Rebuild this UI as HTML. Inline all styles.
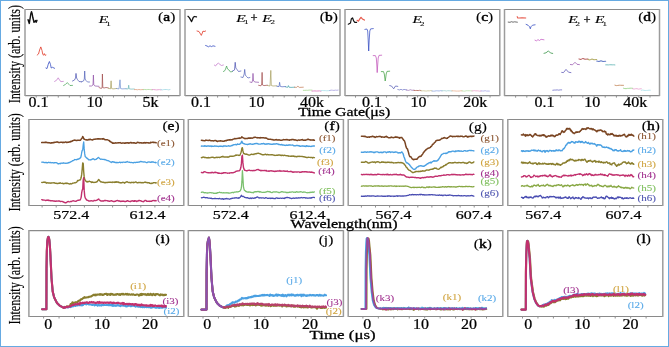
<!DOCTYPE html>
<html><head><meta charset="utf-8"><title>Figure</title>
<style>
html,body{margin:0;padding:0;background:#fff;width:669px;height:347px;overflow:hidden;}
svg{display:block;font-family:"Liberation Serif",serif;will-change:transform;}
</style></head><body>
<svg width="669" height="347" viewBox="0 0 669 347" font-family="Liberation Serif, serif">
<line x1="25" y1="9.5" x2="180" y2="9.5" stroke="#8a8a8a" stroke-width="1.1"/>
<line x1="25" y1="95.6" x2="180" y2="95.6" stroke="#8a8a8a" stroke-width="1.1"/>
<line x1="25" y1="9" x2="25" y2="96.1" stroke="#9c9c9c" stroke-width="1.5"/>
<line x1="180" y1="9" x2="180" y2="96.1" stroke="#9c9c9c" stroke-width="1.5"/>
<line x1="185" y1="9.5" x2="340" y2="9.5" stroke="#8a8a8a" stroke-width="1.1"/>
<line x1="185" y1="95.6" x2="340" y2="95.6" stroke="#8a8a8a" stroke-width="1.1"/>
<line x1="185" y1="9" x2="185" y2="96.1" stroke="#9c9c9c" stroke-width="1.5"/>
<line x1="340" y1="9" x2="340" y2="96.1" stroke="#9c9c9c" stroke-width="1.5"/>
<line x1="345" y1="9.5" x2="499.8" y2="9.5" stroke="#8a8a8a" stroke-width="1.1"/>
<line x1="345" y1="95.6" x2="499.8" y2="95.6" stroke="#8a8a8a" stroke-width="1.1"/>
<line x1="345" y1="9" x2="345" y2="96.1" stroke="#9c9c9c" stroke-width="1.5"/>
<line x1="499.8" y1="9" x2="499.8" y2="96.1" stroke="#9c9c9c" stroke-width="1.5"/>
<line x1="504.5" y1="9.5" x2="659.5" y2="9.5" stroke="#8a8a8a" stroke-width="1.1"/>
<line x1="504.5" y1="95.6" x2="659.5" y2="95.6" stroke="#8a8a8a" stroke-width="1.1"/>
<line x1="504.5" y1="9" x2="504.5" y2="96.1" stroke="#9c9c9c" stroke-width="1.5"/>
<line x1="659.5" y1="9" x2="659.5" y2="96.1" stroke="#9c9c9c" stroke-width="1.5"/>
<line x1="28.9" y1="119.5" x2="183.8" y2="119.5" stroke="#8a8a8a" stroke-width="1.1"/>
<line x1="28.9" y1="205.5" x2="183.8" y2="205.5" stroke="#8a8a8a" stroke-width="1.1"/>
<line x1="28.9" y1="119" x2="28.9" y2="206" stroke="#9c9c9c" stroke-width="1.5"/>
<line x1="183.8" y1="119" x2="183.8" y2="206" stroke="#9c9c9c" stroke-width="1.5"/>
<line x1="28.9" y1="230.6" x2="183.8" y2="230.6" stroke="#8a8a8a" stroke-width="1.1"/>
<line x1="28.9" y1="316.5" x2="183.8" y2="316.5" stroke="#8a8a8a" stroke-width="1.1"/>
<line x1="28.9" y1="230.1" x2="28.9" y2="317" stroke="#9c9c9c" stroke-width="1.5"/>
<line x1="183.8" y1="230.1" x2="183.8" y2="317" stroke="#9c9c9c" stroke-width="1.5"/>
<line x1="188.3" y1="119.5" x2="343.4" y2="119.5" stroke="#8a8a8a" stroke-width="1.1"/>
<line x1="188.3" y1="205.5" x2="343.4" y2="205.5" stroke="#8a8a8a" stroke-width="1.1"/>
<line x1="188.3" y1="119" x2="188.3" y2="206" stroke="#9c9c9c" stroke-width="1.5"/>
<line x1="343.4" y1="119" x2="343.4" y2="206" stroke="#9c9c9c" stroke-width="1.5"/>
<line x1="188.3" y1="230.6" x2="343.4" y2="230.6" stroke="#8a8a8a" stroke-width="1.1"/>
<line x1="188.3" y1="316.5" x2="343.4" y2="316.5" stroke="#8a8a8a" stroke-width="1.1"/>
<line x1="188.3" y1="230.1" x2="188.3" y2="317" stroke="#9c9c9c" stroke-width="1.5"/>
<line x1="343.4" y1="230.1" x2="343.4" y2="317" stroke="#9c9c9c" stroke-width="1.5"/>
<line x1="348.2" y1="119.5" x2="502.8" y2="119.5" stroke="#8a8a8a" stroke-width="1.1"/>
<line x1="348.2" y1="205.5" x2="502.8" y2="205.5" stroke="#8a8a8a" stroke-width="1.1"/>
<line x1="348.2" y1="119" x2="348.2" y2="206" stroke="#9c9c9c" stroke-width="1.5"/>
<line x1="502.8" y1="119" x2="502.8" y2="206" stroke="#9c9c9c" stroke-width="1.5"/>
<line x1="348.2" y1="230.6" x2="502.8" y2="230.6" stroke="#8a8a8a" stroke-width="1.1"/>
<line x1="348.2" y1="316.5" x2="502.8" y2="316.5" stroke="#8a8a8a" stroke-width="1.1"/>
<line x1="348.2" y1="230.1" x2="348.2" y2="317" stroke="#9c9c9c" stroke-width="1.5"/>
<line x1="502.8" y1="230.1" x2="502.8" y2="317" stroke="#9c9c9c" stroke-width="1.5"/>
<line x1="507.8" y1="119.5" x2="662.8" y2="119.5" stroke="#8a8a8a" stroke-width="1.1"/>
<line x1="507.8" y1="205.5" x2="662.8" y2="205.5" stroke="#8a8a8a" stroke-width="1.1"/>
<line x1="507.8" y1="119" x2="507.8" y2="206" stroke="#9c9c9c" stroke-width="1.5"/>
<line x1="662.8" y1="119" x2="662.8" y2="206" stroke="#9c9c9c" stroke-width="1.5"/>
<line x1="507.8" y1="230.6" x2="662.8" y2="230.6" stroke="#8a8a8a" stroke-width="1.1"/>
<line x1="507.8" y1="316.5" x2="662.8" y2="316.5" stroke="#8a8a8a" stroke-width="1.1"/>
<line x1="507.8" y1="230.1" x2="507.8" y2="317" stroke="#9c9c9c" stroke-width="1.5"/>
<line x1="662.8" y1="230.1" x2="662.8" y2="317" stroke="#9c9c9c" stroke-width="1.5"/>
<line x1="36.2" y1="95.6" x2="36.2" y2="97.6" stroke="#909090" stroke-width="1"/>
<line x1="47.24" y1="95.6" x2="47.24" y2="97.6" stroke="#909090" stroke-width="1"/>
<line x1="58.28" y1="95.6" x2="58.28" y2="97.6" stroke="#909090" stroke-width="1"/>
<line x1="69.32" y1="95.6" x2="69.32" y2="97.6" stroke="#909090" stroke-width="1"/>
<line x1="80.36" y1="95.6" x2="80.36" y2="97.6" stroke="#909090" stroke-width="1"/>
<line x1="91.4" y1="95.6" x2="91.4" y2="97.6" stroke="#909090" stroke-width="1"/>
<line x1="102.44" y1="95.6" x2="102.44" y2="97.6" stroke="#909090" stroke-width="1"/>
<line x1="113.48" y1="95.6" x2="113.48" y2="97.6" stroke="#909090" stroke-width="1"/>
<line x1="124.52" y1="95.6" x2="124.52" y2="97.6" stroke="#909090" stroke-width="1"/>
<line x1="135.56" y1="95.6" x2="135.56" y2="97.6" stroke="#909090" stroke-width="1"/>
<line x1="146.6" y1="95.6" x2="146.6" y2="97.6" stroke="#909090" stroke-width="1"/>
<line x1="157.64" y1="95.6" x2="157.64" y2="97.6" stroke="#909090" stroke-width="1"/>
<line x1="168.68" y1="95.6" x2="168.68" y2="97.6" stroke="#909090" stroke-width="1"/>
<line x1="195.4" y1="95.6" x2="195.4" y2="97.6" stroke="#909090" stroke-width="1"/>
<line x1="206.5" y1="95.6" x2="206.5" y2="97.6" stroke="#909090" stroke-width="1"/>
<line x1="217.6" y1="95.6" x2="217.6" y2="97.6" stroke="#909090" stroke-width="1"/>
<line x1="228.7" y1="95.6" x2="228.7" y2="97.6" stroke="#909090" stroke-width="1"/>
<line x1="239.8" y1="95.6" x2="239.8" y2="97.6" stroke="#909090" stroke-width="1"/>
<line x1="250.9" y1="95.6" x2="250.9" y2="97.6" stroke="#909090" stroke-width="1"/>
<line x1="262" y1="95.6" x2="262" y2="97.6" stroke="#909090" stroke-width="1"/>
<line x1="273.1" y1="95.6" x2="273.1" y2="97.6" stroke="#909090" stroke-width="1"/>
<line x1="284.2" y1="95.6" x2="284.2" y2="97.6" stroke="#909090" stroke-width="1"/>
<line x1="295.3" y1="95.6" x2="295.3" y2="97.6" stroke="#909090" stroke-width="1"/>
<line x1="306.4" y1="95.6" x2="306.4" y2="97.6" stroke="#909090" stroke-width="1"/>
<line x1="317.5" y1="95.6" x2="317.5" y2="97.6" stroke="#909090" stroke-width="1"/>
<line x1="328.6" y1="95.6" x2="328.6" y2="97.6" stroke="#909090" stroke-width="1"/>
<line x1="355.5" y1="95.6" x2="355.5" y2="97.6" stroke="#909090" stroke-width="1"/>
<line x1="365.85" y1="95.6" x2="365.85" y2="97.6" stroke="#909090" stroke-width="1"/>
<line x1="376.2" y1="95.6" x2="376.2" y2="97.6" stroke="#909090" stroke-width="1"/>
<line x1="386.55" y1="95.6" x2="386.55" y2="97.6" stroke="#909090" stroke-width="1"/>
<line x1="396.9" y1="95.6" x2="396.9" y2="97.6" stroke="#909090" stroke-width="1"/>
<line x1="407.25" y1="95.6" x2="407.25" y2="97.6" stroke="#909090" stroke-width="1"/>
<line x1="417.6" y1="95.6" x2="417.6" y2="97.6" stroke="#909090" stroke-width="1"/>
<line x1="427.95" y1="95.6" x2="427.95" y2="97.6" stroke="#909090" stroke-width="1"/>
<line x1="438.3" y1="95.6" x2="438.3" y2="97.6" stroke="#909090" stroke-width="1"/>
<line x1="448.65" y1="95.6" x2="448.65" y2="97.6" stroke="#909090" stroke-width="1"/>
<line x1="459" y1="95.6" x2="459" y2="97.6" stroke="#909090" stroke-width="1"/>
<line x1="469.35" y1="95.6" x2="469.35" y2="97.6" stroke="#909090" stroke-width="1"/>
<line x1="479.7" y1="95.6" x2="479.7" y2="97.6" stroke="#909090" stroke-width="1"/>
<line x1="490.05" y1="95.6" x2="490.05" y2="97.6" stroke="#909090" stroke-width="1"/>
<line x1="515.6" y1="95.6" x2="515.6" y2="97.6" stroke="#909090" stroke-width="1"/>
<line x1="526.8" y1="95.6" x2="526.8" y2="97.6" stroke="#909090" stroke-width="1"/>
<line x1="538" y1="95.6" x2="538" y2="97.6" stroke="#909090" stroke-width="1"/>
<line x1="549.2" y1="95.6" x2="549.2" y2="97.6" stroke="#909090" stroke-width="1"/>
<line x1="560.4" y1="95.6" x2="560.4" y2="97.6" stroke="#909090" stroke-width="1"/>
<line x1="571.6" y1="95.6" x2="571.6" y2="97.6" stroke="#909090" stroke-width="1"/>
<line x1="582.8" y1="95.6" x2="582.8" y2="97.6" stroke="#909090" stroke-width="1"/>
<line x1="594" y1="95.6" x2="594" y2="97.6" stroke="#909090" stroke-width="1"/>
<line x1="605.2" y1="95.6" x2="605.2" y2="97.6" stroke="#909090" stroke-width="1"/>
<line x1="616.4" y1="95.6" x2="616.4" y2="97.6" stroke="#909090" stroke-width="1"/>
<line x1="627.6" y1="95.6" x2="627.6" y2="97.6" stroke="#909090" stroke-width="1"/>
<line x1="638.8" y1="95.6" x2="638.8" y2="97.6" stroke="#909090" stroke-width="1"/>
<line x1="650" y1="95.6" x2="650" y2="97.6" stroke="#909090" stroke-width="1"/>
<line x1="42.1" y1="205.5" x2="42.1" y2="207.5" stroke="#909090" stroke-width="1"/>
<line x1="56.2" y1="205.5" x2="56.2" y2="207.5" stroke="#909090" stroke-width="1"/>
<line x1="70.3" y1="205.5" x2="70.3" y2="207.5" stroke="#909090" stroke-width="1"/>
<line x1="84.4" y1="205.5" x2="84.4" y2="207.5" stroke="#909090" stroke-width="1"/>
<line x1="98.5" y1="205.5" x2="98.5" y2="207.5" stroke="#909090" stroke-width="1"/>
<line x1="112.6" y1="205.5" x2="112.6" y2="207.5" stroke="#909090" stroke-width="1"/>
<line x1="126.7" y1="205.5" x2="126.7" y2="207.5" stroke="#909090" stroke-width="1"/>
<line x1="140.8" y1="205.5" x2="140.8" y2="207.5" stroke="#909090" stroke-width="1"/>
<line x1="154.9" y1="205.5" x2="154.9" y2="207.5" stroke="#909090" stroke-width="1"/>
<line x1="169" y1="205.5" x2="169" y2="207.5" stroke="#909090" stroke-width="1"/>
<line x1="43.6" y1="316.5" x2="43.6" y2="318.5" stroke="#909090" stroke-width="1"/>
<line x1="59.05" y1="316.5" x2="59.05" y2="318.5" stroke="#909090" stroke-width="1"/>
<line x1="74.5" y1="316.5" x2="74.5" y2="318.5" stroke="#909090" stroke-width="1"/>
<line x1="89.95" y1="316.5" x2="89.95" y2="318.5" stroke="#909090" stroke-width="1"/>
<line x1="105.4" y1="316.5" x2="105.4" y2="318.5" stroke="#909090" stroke-width="1"/>
<line x1="120.85" y1="316.5" x2="120.85" y2="318.5" stroke="#909090" stroke-width="1"/>
<line x1="136.3" y1="316.5" x2="136.3" y2="318.5" stroke="#909090" stroke-width="1"/>
<line x1="151.75" y1="316.5" x2="151.75" y2="318.5" stroke="#909090" stroke-width="1"/>
<line x1="167.2" y1="316.5" x2="167.2" y2="318.5" stroke="#909090" stroke-width="1"/>
<line x1="201.5" y1="205.5" x2="201.5" y2="207.5" stroke="#909090" stroke-width="1"/>
<line x1="215.6" y1="205.5" x2="215.6" y2="207.5" stroke="#909090" stroke-width="1"/>
<line x1="229.7" y1="205.5" x2="229.7" y2="207.5" stroke="#909090" stroke-width="1"/>
<line x1="243.8" y1="205.5" x2="243.8" y2="207.5" stroke="#909090" stroke-width="1"/>
<line x1="257.9" y1="205.5" x2="257.9" y2="207.5" stroke="#909090" stroke-width="1"/>
<line x1="272" y1="205.5" x2="272" y2="207.5" stroke="#909090" stroke-width="1"/>
<line x1="286.1" y1="205.5" x2="286.1" y2="207.5" stroke="#909090" stroke-width="1"/>
<line x1="300.2" y1="205.5" x2="300.2" y2="207.5" stroke="#909090" stroke-width="1"/>
<line x1="314.3" y1="205.5" x2="314.3" y2="207.5" stroke="#909090" stroke-width="1"/>
<line x1="328.4" y1="205.5" x2="328.4" y2="207.5" stroke="#909090" stroke-width="1"/>
<line x1="203" y1="316.5" x2="203" y2="318.5" stroke="#909090" stroke-width="1"/>
<line x1="218.45" y1="316.5" x2="218.45" y2="318.5" stroke="#909090" stroke-width="1"/>
<line x1="233.9" y1="316.5" x2="233.9" y2="318.5" stroke="#909090" stroke-width="1"/>
<line x1="249.35" y1="316.5" x2="249.35" y2="318.5" stroke="#909090" stroke-width="1"/>
<line x1="264.8" y1="316.5" x2="264.8" y2="318.5" stroke="#909090" stroke-width="1"/>
<line x1="280.25" y1="316.5" x2="280.25" y2="318.5" stroke="#909090" stroke-width="1"/>
<line x1="295.7" y1="316.5" x2="295.7" y2="318.5" stroke="#909090" stroke-width="1"/>
<line x1="311.15" y1="316.5" x2="311.15" y2="318.5" stroke="#909090" stroke-width="1"/>
<line x1="326.6" y1="316.5" x2="326.6" y2="318.5" stroke="#909090" stroke-width="1"/>
<line x1="361.4" y1="205.5" x2="361.4" y2="207.5" stroke="#909090" stroke-width="1"/>
<line x1="375.5" y1="205.5" x2="375.5" y2="207.5" stroke="#909090" stroke-width="1"/>
<line x1="389.6" y1="205.5" x2="389.6" y2="207.5" stroke="#909090" stroke-width="1"/>
<line x1="403.7" y1="205.5" x2="403.7" y2="207.5" stroke="#909090" stroke-width="1"/>
<line x1="417.8" y1="205.5" x2="417.8" y2="207.5" stroke="#909090" stroke-width="1"/>
<line x1="431.9" y1="205.5" x2="431.9" y2="207.5" stroke="#909090" stroke-width="1"/>
<line x1="446" y1="205.5" x2="446" y2="207.5" stroke="#909090" stroke-width="1"/>
<line x1="460.1" y1="205.5" x2="460.1" y2="207.5" stroke="#909090" stroke-width="1"/>
<line x1="474.2" y1="205.5" x2="474.2" y2="207.5" stroke="#909090" stroke-width="1"/>
<line x1="488.3" y1="205.5" x2="488.3" y2="207.5" stroke="#909090" stroke-width="1"/>
<line x1="362.9" y1="316.5" x2="362.9" y2="318.5" stroke="#909090" stroke-width="1"/>
<line x1="378.35" y1="316.5" x2="378.35" y2="318.5" stroke="#909090" stroke-width="1"/>
<line x1="393.8" y1="316.5" x2="393.8" y2="318.5" stroke="#909090" stroke-width="1"/>
<line x1="409.25" y1="316.5" x2="409.25" y2="318.5" stroke="#909090" stroke-width="1"/>
<line x1="424.7" y1="316.5" x2="424.7" y2="318.5" stroke="#909090" stroke-width="1"/>
<line x1="440.15" y1="316.5" x2="440.15" y2="318.5" stroke="#909090" stroke-width="1"/>
<line x1="455.6" y1="316.5" x2="455.6" y2="318.5" stroke="#909090" stroke-width="1"/>
<line x1="471.05" y1="316.5" x2="471.05" y2="318.5" stroke="#909090" stroke-width="1"/>
<line x1="486.5" y1="316.5" x2="486.5" y2="318.5" stroke="#909090" stroke-width="1"/>
<line x1="521" y1="205.5" x2="521" y2="207.5" stroke="#909090" stroke-width="1"/>
<line x1="535.1" y1="205.5" x2="535.1" y2="207.5" stroke="#909090" stroke-width="1"/>
<line x1="549.2" y1="205.5" x2="549.2" y2="207.5" stroke="#909090" stroke-width="1"/>
<line x1="563.3" y1="205.5" x2="563.3" y2="207.5" stroke="#909090" stroke-width="1"/>
<line x1="577.4" y1="205.5" x2="577.4" y2="207.5" stroke="#909090" stroke-width="1"/>
<line x1="591.5" y1="205.5" x2="591.5" y2="207.5" stroke="#909090" stroke-width="1"/>
<line x1="605.6" y1="205.5" x2="605.6" y2="207.5" stroke="#909090" stroke-width="1"/>
<line x1="619.7" y1="205.5" x2="619.7" y2="207.5" stroke="#909090" stroke-width="1"/>
<line x1="633.8" y1="205.5" x2="633.8" y2="207.5" stroke="#909090" stroke-width="1"/>
<line x1="647.9" y1="205.5" x2="647.9" y2="207.5" stroke="#909090" stroke-width="1"/>
<line x1="522.5" y1="316.5" x2="522.5" y2="318.5" stroke="#909090" stroke-width="1"/>
<line x1="537.95" y1="316.5" x2="537.95" y2="318.5" stroke="#909090" stroke-width="1"/>
<line x1="553.4" y1="316.5" x2="553.4" y2="318.5" stroke="#909090" stroke-width="1"/>
<line x1="568.85" y1="316.5" x2="568.85" y2="318.5" stroke="#909090" stroke-width="1"/>
<line x1="584.3" y1="316.5" x2="584.3" y2="318.5" stroke="#909090" stroke-width="1"/>
<line x1="599.75" y1="316.5" x2="599.75" y2="318.5" stroke="#909090" stroke-width="1"/>
<line x1="615.2" y1="316.5" x2="615.2" y2="318.5" stroke="#909090" stroke-width="1"/>
<line x1="630.65" y1="316.5" x2="630.65" y2="318.5" stroke="#909090" stroke-width="1"/>
<line x1="646.1" y1="316.5" x2="646.1" y2="318.5" stroke="#909090" stroke-width="1"/>
<path d="M28.1 19.8 L28.8 22 L29.3 23.4 L30 19 L30.8 14 L31.5 11.8 L32.2 14 L32.8 17.5 L33.4 19.8 L34 22.3 L34.8 21.5 L35.5 20.6 L36.2 22.2 L37 20.3" fill="none" stroke="#111" stroke-width="1.44" stroke-linejoin="round" stroke-linecap="round"/>
<path d="M37.2 55 L38.5 54 L39.6 50 L40.8 46.9 L42 50.5 L42.8 54.5 L43.5 55.2 L44.3 53.6 L45 55.3 L45.9 55" fill="none" stroke="#e0301e" stroke-width="0.96" stroke-linejoin="round" stroke-linecap="round" opacity="0.8"/>
<path d="M45.9 68 L47 68.6 L48.3 64 L49.4 61.5 L50.5 64.5 L51.2 68 L52.5 67.3 L54.6 68.3" fill="none" stroke="#3048c0" stroke-width="0.96" stroke-linejoin="round" stroke-linecap="round" opacity="0.8"/>
<path d="M54.6 81.4 L56.5 80.3 L58.2 77.8 L60 80.8 L61 81.6 L63.3 81.4" fill="none" stroke="#c070c8" stroke-width="0.88" stroke-linejoin="round" stroke-linecap="round" opacity="0.8"/>
<path d="M63.6 85.5 L65.5 84.4 L67.3 82.6 L69 84.5 L70 85.5 L72.5 85.4" fill="none" stroke="#40a050" stroke-width="0.88" stroke-linejoin="round" stroke-linecap="round" opacity="0.8"/>
<path d="M72.5 81 L74.5 80 L75.5 78 L76 73.4 L76.6 78 L77.5 79.6 L79 81.5 L81.5 81.8" fill="none" stroke="#4850b0" stroke-width="0.88" stroke-linejoin="round" stroke-linecap="round" opacity="0.8"/>
<path d="M81.5 81.8 L83.5 81 L84.3 79 L84.7 71 L85.1 79 L86 80.5 L87.5 82 L89.5 82" fill="none" stroke="#5060b8" stroke-width="0.88" stroke-linejoin="round" stroke-linecap="round" opacity="0.8"/>
<path d="M89.5 86 L91.5 86 L93 85 L93.4 75 L93.8 85 L95 86 L99 86.3" fill="none" stroke="#9050a8" stroke-width="0.88" stroke-linejoin="round" stroke-linecap="round" opacity="0.8"/>
<path d="M99 87.5 L101 88.4 L102.1 88 L102.4 74 L102.8 87.5 L104 88 L106 87.5 L108.3 87.9" fill="none" stroke="#a04848" stroke-width="0.88" stroke-linejoin="round" stroke-linecap="round" opacity="0.8"/>
<path d="M108.3 88.3 L110.5 88.8 L111.1 80.8 L111.6 88.5 L113 88.9 L116.6 88.5" fill="none" stroke="#a8a060" stroke-width="0.88" stroke-linejoin="round" stroke-linecap="round" opacity="0.8"/>
<path d="M116.6 88.5 L119 88.9 L120 79.8 L120.6 88.5 L122 88.9 L126.1 88.7" fill="none" stroke="#6f8fd0" stroke-width="0.88" stroke-linejoin="round" stroke-linecap="round" opacity="0.8"/>
<path d="M126.1 88.8 L128.2 89 L128.7 85.2 L129.2 88.8 L131 89.1 L134.4 89" fill="none" stroke="#60b0b0" stroke-width="0.8" stroke-linejoin="round" stroke-linecap="round" opacity="0.8"/>
<path d="M134.4 89.61 L135.88 89.53 L137.37 89.78 L138.85 89.49 L140.33 89.72 L141.82 89.63 L143.3 89.48" fill="none" stroke="#e0a080" stroke-width="1" stroke-linejoin="round" stroke-linecap="round" opacity="0.8"/>
<path d="M143.3 89.7 L144.78 89.47 L146.27 89.67 L147.75 89.48 L149.23 89.5 L150.72 89.66 L152.2 89.86" fill="none" stroke="#a8d898" stroke-width="1" stroke-linejoin="round" stroke-linecap="round" opacity="0.8"/>
<path d="M152.2 89.51 L153.67 89.56 L155.13 89.76 L156.6 89.92 L158.07 89.74 L159.53 89.65 L161 89.94" fill="none" stroke="#e090c8" stroke-width="1" stroke-linejoin="round" stroke-linecap="round" opacity="0.8"/>
<path d="M161 89.47 L162.29 89.88 L163.57 89.59 L164.86 89.52 L166.14 89.51 L167.43 89.6 L168.71 89.86 L170 89.54" fill="none" stroke="#a0d8e4" stroke-width="1" stroke-linejoin="round" stroke-linecap="round" opacity="0.8"/>
<path d="M188 16.3 L189.3 17.6 L190.5 19.6 L191.6 21.6 L192.5 19.5 L193.3 17.3 L194.5 16.5 L196.5 16.9" fill="none" stroke="#111" stroke-width="1.27" stroke-linejoin="round" stroke-linecap="round"/>
<path d="M197 31 L199 31.5 L200.5 34 L201.3 35.4 L202.3 33 L203 31 L204 31.6 L205.6 31" fill="none" stroke="#e0301e" stroke-width="0.96" stroke-linejoin="round" stroke-linecap="round" opacity="0.8"/>
<path d="M205.6 45.5 L207 46 L208.5 46.8 L210 45.8 L211.5 46.6 L213 45.8 L215 46.3" fill="none" stroke="#3048c0" stroke-width="0.96" stroke-linejoin="round" stroke-linecap="round" opacity="0.8"/>
<path d="M214.3 65 L215.5 66 L217 64 L218.5 63.2 L220 64.5 L221.5 65.5 L223.4 65" fill="none" stroke="#c070c8" stroke-width="0.88" stroke-linejoin="round" stroke-linecap="round" opacity="0.8"/>
<path d="M223.4 71.5 L225 70.5 L226.6 66 L227.5 69 L229 70 L230.5 72 L232.5 71.5" fill="none" stroke="#40a050" stroke-width="0.88" stroke-linejoin="round" stroke-linecap="round" opacity="0.8"/>
<path d="M232.5 71 L234.5 70 L235.2 62.3 L235.8 68 L237 69.5 L238.5 71.5 L240.9 71" fill="none" stroke="#4850b0" stroke-width="0.88" stroke-linejoin="round" stroke-linecap="round" opacity="0.8"/>
<path d="M240.9 77 L243 77.5 L244.2 74 L244.7 69.4 L245.3 75 L246.5 76.5 L248 78 L249.9 77.5" fill="none" stroke="#5060b8" stroke-width="0.88" stroke-linejoin="round" stroke-linecap="round" opacity="0.8"/>
<path d="M249.9 82 L252 82.5 L252.6 80 L253 73.4 L253.5 81 L255 82 L258.6 82.3" fill="none" stroke="#9050a8" stroke-width="0.88" stroke-linejoin="round" stroke-linecap="round" opacity="0.8"/>
<path d="M258.6 85.3 L261 85.8 L261.7 84 L262.1 72.4 L262.5 85 L264 85.6 L267.4 85.2" fill="none" stroke="#a04848" stroke-width="0.88" stroke-linejoin="round" stroke-linecap="round" opacity="0.8"/>
<path d="M267.4 85.5 L270 86 L270.8 70.4 L271.3 85.5 L273 86 L276.9 85.8" fill="none" stroke="#a8a060" stroke-width="0.88" stroke-linejoin="round" stroke-linecap="round" opacity="0.8"/>
<path d="M276.9 86.3 L279 86.6 L279.6 82.3 L280.2 86.3 L282 86.8 L285.7 86.5" fill="none" stroke="#5068c0" stroke-width="0.88" stroke-linejoin="round" stroke-linecap="round" opacity="0.8"/>
<path d="M285.7 87 L287.8 87.3 L288.4 85.6 L289 87.2 L291 87.4 L294.5 87.2" fill="none" stroke="#40a0a8" stroke-width="0.88" stroke-linejoin="round" stroke-linecap="round" opacity="0.8"/>
<path d="M294.5 87.2 L296.5 87.4 L297.9 86.2 L299.3 87.4 L303.3 87.2" fill="none" stroke="#c07850" stroke-width="0.88" stroke-linejoin="round" stroke-linecap="round" opacity="0.8"/>
<path d="M303.3 90.34 L304.75 90.37 L306.2 90.24 L307.65 90.32 L309.1 90.08 L310.55 90.08 L312 90.15" fill="none" stroke="#a8d890" stroke-width="1" stroke-linejoin="round" stroke-linecap="round" opacity="0.8"/>
<path d="M312 91.09 L313.48 90.96 L314.97 90.91 L316.45 91.04 L317.93 90.98 L319.42 90.9 L320.9 91.15" fill="none" stroke="#d870b8" stroke-width="1" stroke-linejoin="round" stroke-linecap="round" opacity="0.8"/>
<path d="M320.9 90.7 L322.37 90.47 L323.83 90.64 L325.3 90.61 L326.77 90.79 L328.23 90.71 L329.7 90.49" fill="none" stroke="#a8e0ea" stroke-width="1" stroke-linejoin="round" stroke-linecap="round" opacity="0.8"/>
<path d="M329.7 90.54 L331.12 90.11 L332.53 90.26 L333.95 90.43 L335.37 90.13 L336.78 90.29 L338.2 90.07" fill="none" stroke="#a8a0e0" stroke-width="1" stroke-linejoin="round" stroke-linecap="round" opacity="0.8"/>
<path d="M348.3 24.2 L350.5 23 L351.3 19 L352.5 17.8 L353.8 21.2 L354.8 22.4 L356.6 22.4" fill="none" stroke="#111" stroke-width="1.19" stroke-linejoin="round" stroke-linecap="round"/>
<path d="M357.1 20.3 L358.4 21.2 L359.8 18.9 L361 17.3 L362.4 18.9 L364.4 20.1" fill="none" stroke="#e0301e" stroke-width="1.2" stroke-linejoin="round" stroke-linecap="round" opacity="0.8"/>
<path d="M364.9 29.4 L366.9 29 L367.7 31 L368.2 40 L368.7 51 L369.2 40 L369.8 31 L370.6 28.9 L373.3 28.6" fill="none" stroke="#3048c0" stroke-width="0.92" stroke-linejoin="round" stroke-linecap="round" opacity="0.8"/>
<path d="M373.2 55.6 L375.4 55.6 L376.3 58 L376.8 65 L377.2 72.6 L377.7 65 L378.2 58 L379 55.4 L381.7 55.2" fill="none" stroke="#c050b8" stroke-width="0.92" stroke-linejoin="round" stroke-linecap="round" opacity="0.8"/>
<path d="M381.3 71.6 L383.5 71.6 L384.3 74 L384.8 78 L385.2 81 L385.7 78 L386.2 74 L387 71.4 L389.7 71.2" fill="none" stroke="#40a040" stroke-width="0.92" stroke-linejoin="round" stroke-linecap="round" opacity="0.8"/>
<path d="M389.7 85.6 L391.5 86 L393.7 88.8 L395.5 86 L397.8 86.4" fill="none" stroke="#4850b0" stroke-width="0.88" stroke-linejoin="round" stroke-linecap="round" opacity="0.8"/>
<path d="M397.8 89.5 L399.5 89.9 L401 89.3 L402.5 90 L404 89.4 L406.5 89.9" fill="none" stroke="#6068c0" stroke-width="0.8" stroke-linejoin="round" stroke-linecap="round" opacity="0.8"/>
<path d="M406.5 90 L408.5 90.4 L410.5 89.7 L412 90.3 L414 90.1" fill="none" stroke="#9060a8" stroke-width="0.8" stroke-linejoin="round" stroke-linecap="round" opacity="0.8"/>
<path d="M414 90.48 L415.4 90.53 L416.8 90.44 L418.2 90.59 L419.6 90.31 L421 90.5" fill="none" stroke="#b06050" stroke-width="1" stroke-linejoin="round" stroke-linecap="round" opacity="0.8"/>
<path d="M421 90.85 L422.38 90.84 L423.75 90.78 L425.12 90.97 L426.5 91.02 L427.88 90.79 L429.25 90.88 L430.62 90.58 L432 90.9" fill="none" stroke="#c8c090" stroke-width="1" stroke-linejoin="round" stroke-linecap="round" opacity="0.8"/>
<path d="M432 90.97 L433.43 91.15 L434.86 91.06 L436.29 90.79 L437.71 90.84 L439.14 90.98 L440.57 90.66 L442 90.88" fill="none" stroke="#90a8e0" stroke-width="1" stroke-linejoin="round" stroke-linecap="round" opacity="0.8"/>
<path d="M442 90.73 L443.43 90.71 L444.86 90.68 L446.29 91.03 L447.71 90.71 L449.14 90.77 L450.57 90.85 L452 91.09" fill="none" stroke="#a0d0d0" stroke-width="1" stroke-linejoin="round" stroke-linecap="round" opacity="0.8"/>
<path d="M452 90.69 L453.43 90.87 L454.86 90.92 L456.29 91.09 L457.71 91.06 L459.14 91.08 L460.57 90.79 L462 90.86" fill="none" stroke="#e8b090" stroke-width="1" stroke-linejoin="round" stroke-linecap="round" opacity="0.8"/>
<path d="M462 90.83 L463.43 91.09 L464.86 91.13 L466.29 90.73 L467.71 90.74 L469.14 90.77 L470.57 90.77 L472 90.89" fill="none" stroke="#b8e0a8" stroke-width="1" stroke-linejoin="round" stroke-linecap="round" opacity="0.8"/>
<path d="M472 90.94 L473.29 90.78 L474.57 90.65 L475.86 90.86 L477.14 90.83 L478.43 90.93 L479.71 91.13 L481 91" fill="none" stroke="#e8a0c8" stroke-width="1" stroke-linejoin="round" stroke-linecap="round" opacity="0.8"/>
<path d="M481 90.91 L482.4 90.96 L483.8 90.99 L485.2 90.68 L486.6 91.1 L488 91.04 L489.4 91.09" fill="none" stroke="#a8a8e8" stroke-width="1" stroke-linejoin="round" stroke-linecap="round" opacity="0.8"/>
<path d="M508.2 22.1 L510 22.3 L511.5 21.7 L513 22.2 L514.5 21.8 L517.4 22.2" fill="none" stroke="#333" stroke-width="0.88" stroke-linejoin="round" stroke-linecap="round" opacity="0.8"/>
<path d="M517.2 16.6 L517.6 17.9 L519.5 18.1 L522 17.7 L525.8 17.9" fill="none" stroke="#e0301e" stroke-width="1.04" stroke-linejoin="round" stroke-linecap="round" opacity="0.8"/>
<path d="M526.1 24.4 L528 25.2 L529.6 26.8 L530.3 28.8 L530.9 26.8 L532.5 25.2 L535.1 24.8" fill="none" stroke="#3048c0" stroke-width="0.96" stroke-linejoin="round" stroke-linecap="round" opacity="0.8"/>
<path d="M535 40.2 L536.5 40.8 L538 39.6 L539.5 40.5 L541 39.3 L544 39.8" fill="none" stroke="#c050c0" stroke-width="0.88" stroke-linejoin="round" stroke-linecap="round" opacity="0.8"/>
<path d="M544 53.3 L546 52.8 L548.4 50.9 L550.5 53 L552.7 53.4" fill="none" stroke="#309040" stroke-width="0.96" stroke-linejoin="round" stroke-linecap="round" opacity="0.8"/>
<path d="M552.8 90.25 L554.28 90.05 L555.77 90.05 L557.25 89.9 L558.73 90.17 L560.22 89.88 L561.7 89.88" fill="none" stroke="#7070c8" stroke-width="1" stroke-linejoin="round" stroke-linecap="round" opacity="0.8"/>
<path d="M561.7 72.4 L563.5 72.6 L566 69.4 L568.5 72.2 L570.9 72.6" fill="none" stroke="#5048b0" stroke-width="0.88" stroke-linejoin="round" stroke-linecap="round" opacity="0.8"/>
<path d="M570.4 64.5 L572.5 64.8 L575 62.3 L577 64.3 L579.4 64.6" fill="none" stroke="#9048a8" stroke-width="0.88" stroke-linejoin="round" stroke-linecap="round" opacity="0.8"/>
<path d="M579 58.9 L581 59.4 L583 58.4 L585 59.2 L588 58.9" fill="none" stroke="#a83838" stroke-width="1.04" stroke-linejoin="round" stroke-linecap="round" opacity="0.8"/>
<path d="M588 59.4 L590 59.9 L592 59 L594 59.7 L596.7 59.6" fill="none" stroke="#a09840" stroke-width="1.04" stroke-linejoin="round" stroke-linecap="round" opacity="0.8"/>
<path d="M596.7 61 L599 61.5 L601 60.8 L603 61.4 L605.7 61.2" fill="none" stroke="#3858b8" stroke-width="1.04" stroke-linejoin="round" stroke-linecap="round" opacity="0.8"/>
<path d="M605.7 64.85 L607.01 64.83 L608.33 64.92 L609.64 64.78 L610.96 64.75 L612.27 64.83 L613.59 64.8 L614.9 64.93" fill="none" stroke="#58b0b0" stroke-width="1" stroke-linejoin="round" stroke-linecap="round" opacity="0.8"/>
<path d="M614.9 85.16 L616.33 85.59 L617.77 85.46 L619.2 85.22 L620.63 85.28 L622.07 85.32 L623.5 85.33" fill="none" stroke="#c08050" stroke-width="1" stroke-linejoin="round" stroke-linecap="round" opacity="0.8"/>
<path d="M623.5 88.21 L624.81 88.57 L626.13 88.65 L627.44 88.38 L628.76 88.39 L630.07 88.19 L631.39 88.2 L632.7 88.32" fill="none" stroke="#90d080" stroke-width="1" stroke-linejoin="round" stroke-linecap="round" opacity="0.8"/>
<path d="M632.7 88.78 L634.13 89.06 L635.57 88.73 L637 88.66 L638.43 89.13 L639.87 88.91 L641.3 88.72" fill="none" stroke="#e8a0d0" stroke-width="1" stroke-linejoin="round" stroke-linecap="round" opacity="0.8"/>
<path d="M641.3 90.32 L642.59 90.06 L643.87 90.31 L645.16 90.54 L646.44 90.48 L647.73 90.4 L649.01 90.18 L650.3 90.23" fill="none" stroke="#a8e0ea" stroke-width="1" stroke-linejoin="round" stroke-linecap="round" opacity="0.8"/>
<path d="M41.7 142.55 L42.2 142.49 L42.7 142.6 L43.2 142.4 L43.7 142.47 L44.2 142.42 L44.7 142.55 L45.2 142.17 L45.7 142.49 L46.2 142.25 L46.7 142.5 L47.2 142.55 L47.7 142.67 L48.2 142.83 L48.7 142.62 L49.2 142.84 L49.7 142.8 L50.2 143 L50.7 143.13 L51.2 142.83 L51.7 142.79 L52.2 142.94 L52.7 142.63 L53.2 142.54 L53.7 142.7 L54.2 142.54 L54.7 142.25 L55.2 142.22 L55.7 142.23 L56.2 142.18 L56.7 141.95 L57.2 141.86 L57.7 142.26 L58.2 142.23 L58.7 142.46 L59.2 142.45 L59.7 142.57 L60.2 142.41 L60.7 142.2 L61.2 142.26 L61.7 142.34 L62.2 142.34 L62.7 142.69 L63.2 142.4 L63.7 142.16 L64.2 142.56 L64.7 142.37 L65.2 142.09 L65.7 142.1 L66.2 142.17 L66.7 142.52 L67.2 142.19 L67.7 142.38 L68.2 142.18 L68.7 142.3 L69.2 141.82 L69.7 142.06 L70.2 141.97 L70.7 141.37 L71.2 141.33 L71.7 141.48 L72.2 141.14 L72.7 140.65 L73.2 140.58 L73.7 140.31 L74.2 140.04 L74.7 140.18 L75.2 140.3 L75.7 140.29 L76.2 140.52 L76.7 140.45 L77.2 140.45 L77.7 140.15 L78.2 140.3 L78.7 140.26 L79.2 140.38 L79.7 140.23 L80.2 140.28 L80.7 139.92 L81.2 139.19 L81.7 138.45 L82.2 137.92 L82.7 136.44 L83.2 137.31 L83.7 138.55 L84.2 139.21 L84.7 139.42 L85.2 139.65 L85.7 139.86 L86.2 139.84 L86.7 139.97 L87.2 139.85 L87.7 140 L88.2 139.77 L88.7 139.51 L89.2 139.76 L89.7 139.44 L90.2 139.2 L90.7 139.56 L91.2 139.69 L91.7 139.64 L92.2 139.91 L92.7 139.9 L93.2 139.53 L93.7 139.33 L94.2 139.25 L94.7 139.34 L95.2 139.18 L95.7 139.07 L96.2 139.06 L96.7 139.06 L97.2 138.88 L97.7 138.74 L98.2 138.98 L98.7 138.74 L99.2 139.01 L99.7 138.98 L100.2 138.77 L100.7 139.12 L101.2 139.02 L101.7 138.89 L102.2 138.74 L102.7 139.1 L103.2 138.54 L103.7 138.84 L104.2 139.29 L104.7 139.5 L105.2 139.71 L105.7 139.67 L106.2 139.8 L106.7 139.8 L107.2 139.69 L107.7 139.92 L108.2 140.11 L108.7 140.39 L109.2 140.42 L109.7 141.48 L110.2 141.26 L110.7 141.65 L111.2 142.49 L111.7 142.44 L112.2 142.56 L112.7 143.29 L113.2 143.2 L113.7 142.94 L114.2 143.27 L114.7 143.13 L115.2 142.92 L115.7 142.79 L116.2 143.12 L116.7 143.01 L117.2 142.89 L117.7 142.82 L118.2 142.66 L118.7 142.89 L119.2 142.65 L119.7 142.74 L120.2 142.62 L120.7 142.94 L121.2 143.13 L121.7 143.27 L122.2 142.91 L122.7 142.99 L123.2 142.93 L123.7 142.89 L124.2 142.91 L124.7 143.33 L125.2 143.28 L125.7 142.81 L126.2 143.07 L126.7 142.78 L127.2 142.81 L127.7 142.73 L128.2 143.22 L128.7 142.74 L129.2 143.05 L129.7 143.11 L130.2 142.68 L130.7 142.4 L131.2 142.43 L131.7 143.08 L132.2 142.96 L132.7 142.86 L133.2 142.72 L133.7 143.04 L134.2 142.8 L134.7 143.02 L135.2 143.07 L135.7 143.29 L136.2 143.17 L136.7 142.84 L137.2 142.47 L137.7 142.29 L138.2 142.57 L138.7 142.39 L139.2 142.86 L139.7 142.9 L140.2 142.84 L140.7 142.81 L141.2 142.89 L141.7 142.84 L142.2 142.95 L142.7 142.99 L143.2 142.85 L143.7 142.76 L144.2 142.98 L144.7 142.55 L145.2 142.64 L145.7 143.07 L146.2 142.6 L146.7 142.75 L147.2 142.7 L147.7 142.73 L148.2 142.88 L148.7 142.83 L149.2 142.9 L149.7 143.05 L150.2 142.98 L150.7 142.33 L151.2 142.41 L151.7 142.43 L152.2 142.34 L152.7 142.33 L153.2 142.45 L153.7 142.17 L154.2 142.6 L154.7 142.49 L155.2 142.41 L155.7 142.64 L156.2 142.74" fill="none" stroke="#7a4522" stroke-width="1.5" stroke-linejoin="round" stroke-linecap="round"/>
<path d="M41.7 162.08 L42.2 162.22 L42.7 162.25 L43.2 162.09 L43.7 162.51 L44.2 162.69 L44.7 162.47 L45.2 162.51 L45.7 162.54 L46.2 162.4 L46.7 162.74 L47.2 162.74 L47.7 162.73 L48.2 162.57 L48.7 162.25 L49.2 162.53 L49.7 162.57 L50.2 162.35 L50.7 162.67 L51.2 162.83 L51.7 162.69 L52.2 162.62 L52.7 162.74 L53.2 162.75 L53.7 162.98 L54.2 162.69 L54.7 162.74 L55.2 162.77 L55.7 162.53 L56.2 162.62 L56.7 162.84 L57.2 163.06 L57.7 163.44 L58.2 164 L58.7 163.68 L59.2 163.52 L59.7 163.4 L60.2 163.85 L60.7 163.1 L61.2 163.23 L61.7 163.15 L62.2 163.3 L62.7 163.23 L63.2 162.78 L63.7 163.12 L64.2 163.25 L64.7 163.1 L65.2 163.15 L65.7 163.4 L66.2 163.28 L66.7 163.1 L67.2 163.25 L67.7 162.93 L68.2 163.07 L68.7 162.57 L69.2 162.41 L69.7 162.61 L70.2 162.13 L70.7 161.85 L71.2 161.64 L71.7 161.49 L72.2 161.04 L72.7 160.62 L73.2 160.69 L73.7 160.28 L74.2 160.05 L74.7 159.53 L75.2 159.72 L75.7 159.58 L76.2 159.68 L76.7 159.78 L77.2 159.15 L77.7 159.36 L78.2 159.13 L78.7 159.03 L79.2 158.48 L79.7 158.49 L80.2 157.99 L80.7 157.53 L81.2 155.73 L81.7 152.49 L82.2 150.27 L82.7 150.07 L83.2 145.13 L83.7 141.89 L84.2 148.88 L84.7 153.65 L85.2 156.52 L85.7 157.1 L86.2 157.47 L86.7 158.08 L87.2 158.57 L87.7 158.51 L88.2 159.32 L88.7 159.85 L89.2 159.91 L89.7 159.9 L90.2 159.69 L90.7 159.99 L91.2 159.7 L91.7 159.59 L92.2 158.97 L92.7 159.1 L93.2 158.74 L93.7 158.94 L94.2 159.3 L94.7 159.76 L95.2 159.57 L95.7 159.44 L96.2 159.33 L96.7 158.59 L97.2 158.66 L97.7 158.04 L98.2 157.54 L98.7 157.4 L99.2 158.11 L99.7 158.62 L100.2 159.03 L100.7 159.31 L101.2 159.18 L101.7 159.1 L102.2 159.36 L102.7 159.39 L103.2 159.26 L103.7 159.52 L104.2 159.74 L104.7 159.41 L105.2 159.64 L105.7 159.86 L106.2 160.06 L106.7 160.23 L107.2 160.65 L107.7 160.5 L108.2 160.66 L108.7 160.96 L109.2 161.18 L109.7 161.37 L110.2 161.9 L110.7 162.1 L111.2 162.1 L111.7 162.49 L112.2 161.62 L112.7 161.85 L113.2 161.65 L113.7 162.22 L114.2 162.38 L114.7 162.03 L115.2 162.62 L115.7 162.53 L116.2 162.35 L116.7 162.73 L117.2 162.41 L117.7 162.74 L118.2 162.63 L118.7 162.52 L119.2 162.21 L119.7 162.37 L120.2 162.22 L120.7 162.72 L121.2 162.52 L121.7 162.24 L122.2 162.56 L122.7 162.29 L123.2 162.11 L123.7 162.08 L124.2 162.22 L124.7 162.3 L125.2 162.18 L125.7 162.35 L126.2 162.15 L126.7 161.75 L127.2 161.48 L127.7 161.97 L128.2 162.06 L128.7 162.21 L129.2 162.24 L129.7 162.21 L130.2 162.47 L130.7 162.54 L131.2 162.37 L131.7 162.48 L132.2 162.54 L132.7 162.57 L133.2 162.84 L133.7 162.77 L134.2 162.33 L134.7 162.41 L135.2 162.52 L135.7 162.56 L136.2 162.19 L136.7 162.3 L137.2 162.45 L137.7 162.18 L138.2 162.29 L138.7 162.02 L139.2 161.88 L139.7 162.1 L140.2 161.7 L140.7 161.39 L141.2 161.44 L141.7 161.75 L142.2 161.72 L142.7 161.95 L143.2 161.94 L143.7 162.05 L144.2 161.85 L144.7 161.84 L145.2 162.06 L145.7 162.11 L146.2 162.58 L146.7 162.64 L147.2 162.59 L147.7 162.08 L148.2 162.16 L148.7 161.97 L149.2 161.96 L149.7 162.18 L150.2 162.31 L150.7 162.07 L151.2 162.3 L151.7 161.83 L152.2 161.82 L152.7 162.11 L153.2 161.8 L153.7 162.2 L154.2 162.49 L154.7 162.31 L155.2 162.27 L155.7 162.77 L156.2 162.59" fill="none" stroke="#4aa0e2" stroke-width="1.3" stroke-linejoin="round" stroke-linecap="round"/>
<path d="M41.7 182.38 L42.2 182.53 L42.7 182.41 L43.2 182.37 L43.7 182.27 L44.2 181.97 L44.7 182.37 L45.2 182.44 L45.7 182.21 L46.2 182.89 L46.7 183.17 L47.2 182.86 L47.7 182.78 L48.2 182.94 L48.7 182.91 L49.2 182.98 L49.7 183.04 L50.2 182.97 L50.7 183.28 L51.2 182.86 L51.7 183.15 L52.2 182.94 L52.7 182.83 L53.2 182.76 L53.7 182.9 L54.2 183.02 L54.7 182.78 L55.2 183.08 L55.7 183.36 L56.2 183.23 L56.7 183.5 L57.2 183.37 L57.7 183.51 L58.2 183.46 L58.7 183.26 L59.2 183.1 L59.7 183.29 L60.2 182.8 L60.7 183.15 L61.2 183.33 L61.7 183.38 L62.2 183.32 L62.7 183.17 L63.2 183.72 L63.7 183.72 L64.2 183.39 L64.7 183.43 L65.2 183.53 L65.7 183.18 L66.2 183.05 L66.7 183.52 L67.2 183.37 L67.7 183.19 L68.2 183.66 L68.7 183.69 L69.2 183.79 L69.7 184.05 L70.2 183.85 L70.7 183.53 L71.2 183.93 L71.7 183.79 L72.2 183.51 L72.7 183.09 L73.2 183.13 L73.7 183.1 L74.2 182.86 L74.7 182.75 L75.2 182.92 L75.7 182.65 L76.2 182.35 L76.7 182.04 L77.2 181.38 L77.7 180.45 L78.2 180.67 L78.7 180.36 L79.2 180.17 L79.7 179.92 L80.2 179.95 L80.7 178.95 L81.2 177.29 L81.7 174.41 L82.2 169.09 L82.7 162.96 L83.2 163.25 L83.7 171.73 L84.2 176.91 L84.7 179.32 L85.2 180.27 L85.7 180.8 L86.2 181.46 L86.7 181.78 L87.2 182.01 L87.7 181.49 L88.2 181.71 L88.7 181.62 L89.2 181.14 L89.7 181.45 L90.2 181.74 L90.7 181.7 L91.2 182.02 L91.7 182.44 L92.2 181.87 L92.7 182.21 L93.2 182.35 L93.7 182.45 L94.2 182.29 L94.7 182.46 L95.2 182.35 L95.7 182.38 L96.2 181.86 L96.7 182.01 L97.2 181.61 L97.7 180.83 L98.2 180.18 L98.7 179.55 L99.2 180.07 L99.7 180.75 L100.2 181.27 L100.7 181.96 L101.2 181.75 L101.7 182.16 L102.2 182.16 L102.7 182.35 L103.2 182.1 L103.7 182.43 L104.2 182.74 L104.7 182.36 L105.2 182.35 L105.7 182.82 L106.2 182.56 L106.7 182.4 L107.2 182.31 L107.7 182.5 L108.2 182.36 L108.7 182.17 L109.2 182.34 L109.7 182.13 L110.2 182.27 L110.7 182.28 L111.2 182.18 L111.7 182.38 L112.2 182.55 L112.7 182.04 L113.2 182.09 L113.7 182.21 L114.2 182.09 L114.7 182.44 L115.2 181.76 L115.7 182.28 L116.2 182.31 L116.7 181.71 L117.2 181.86 L117.7 182.1 L118.2 182.42 L118.7 182.09 L119.2 182.6 L119.7 182.61 L120.2 182.93 L120.7 182.67 L121.2 182.95 L121.7 182.63 L122.2 182.59 L122.7 182.26 L123.2 182.56 L123.7 182.44 L124.2 182.78 L124.7 183.15 L125.2 182.56 L125.7 182.2 L126.2 182.09 L126.7 181.72 L127.2 181.8 L127.7 182.18 L128.2 182.41 L128.7 182.49 L129.2 182.52 L129.7 182.38 L130.2 182.42 L130.7 182.88 L131.2 182.64 L131.7 182.32 L132.2 182.35 L132.7 182.35 L133.2 182.84 L133.7 182.28 L134.2 182.57 L134.7 182.42 L135.2 182.17 L135.7 181.95 L136.2 182.14 L136.7 182.37 L137.2 182.91 L137.7 182.7 L138.2 182.77 L138.7 182.45 L139.2 182.6 L139.7 182.48 L140.2 182.52 L140.7 182.56 L141.2 182.8 L141.7 182.73 L142.2 182.51 L142.7 182.87 L143.2 182.71 L143.7 182.54 L144.2 182.32 L144.7 182.11 L145.2 182.45 L145.7 182.24 L146.2 182.38 L146.7 182.67 L147.2 182.76 L147.7 182.52 L148.2 182.8 L148.7 182.6 L149.2 182.63 L149.7 183.26 L150.2 183.37 L150.7 183.47 L151.2 183.12 L151.7 183.59 L152.2 183.23 L152.7 183.05 L153.2 182.73 L153.7 182.86 L154.2 182.58 L154.7 182.64 L155.2 182.65 L155.7 183.08 L156.2 182.81" fill="none" stroke="#8a7e2e" stroke-width="1.4" stroke-linejoin="round" stroke-linecap="round"/>
<path d="M41.7 199.69 L42.2 199.8 L42.7 200.05 L43.2 199.97 L43.7 200.09 L44.2 200.14 L44.7 200.12 L45.2 200.32 L45.7 200.51 L46.2 200.29 L46.7 200.23 L47.2 200.12 L47.7 200.21 L48.2 199.92 L48.7 200.49 L49.2 200.34 L49.7 200.43 L50.2 200.71 L50.7 200.79 L51.2 200.69 L51.7 200.83 L52.2 200.69 L52.7 200.88 L53.2 200.96 L53.7 200.87 L54.2 200.88 L54.7 201.27 L55.2 201.11 L55.7 201.25 L56.2 200.96 L56.7 201.19 L57.2 201.17 L57.7 201.16 L58.2 200.93 L58.7 201.11 L59.2 200.88 L59.7 201.15 L60.2 201.52 L60.7 201.47 L61.2 201.41 L61.7 201.4 L62.2 201.53 L62.7 201.71 L63.2 201.65 L63.7 202.16 L64.2 202.46 L64.7 202.46 L65.2 202.77 L65.7 202.81 L66.2 202.56 L66.7 202.33 L67.2 201.87 L67.7 201.6 L68.2 201.47 L68.7 201.65 L69.2 201.85 L69.7 201.87 L70.2 201.7 L70.7 201.44 L71.2 201.64 L71.7 201.36 L72.2 200.93 L72.7 200.88 L73.2 200.85 L73.7 200.78 L74.2 201.1 L74.7 201.15 L75.2 201.23 L75.7 201.35 L76.2 201.23 L76.7 200.82 L77.2 200.51 L77.7 200.42 L78.2 200.29 L78.7 200.31 L79.2 200.13 L79.7 200.06 L80.2 199.83 L80.7 198.78 L81.2 197.11 L81.7 192.61 L82.2 190.02 L82.7 189.37 L83.2 180.14 L83.7 177.7 L84.2 190.14 L84.7 195.84 L85.2 197.91 L85.7 198.53 L86.2 199.46 L86.7 199.99 L87.2 200.36 L87.7 200.32 L88.2 200.61 L88.7 201.08 L89.2 200.86 L89.7 201.08 L90.2 201 L90.7 200.93 L91.2 200.66 L91.7 200.91 L92.2 200.92 L92.7 201.15 L93.2 201.04 L93.7 200.85 L94.2 200.38 L94.7 200.44 L95.2 200.66 L95.7 200.57 L96.2 200.39 L96.7 200.31 L97.2 199.98 L97.7 199.67 L98.2 199.41 L98.7 198.91 L99.2 199.57 L99.7 200.19 L100.2 200.4 L100.7 200.87 L101.2 201.06 L101.7 201.01 L102.2 200.88 L102.7 201.16 L103.2 200.89 L103.7 200.95 L104.2 200.35 L104.7 200.63 L105.2 200.71 L105.7 200.42 L106.2 200.61 L106.7 200.67 L107.2 200.58 L107.7 200.97 L108.2 201.04 L108.7 200.98 L109.2 201.3 L109.7 201.22 L110.2 201.04 L110.7 200.83 L111.2 200.66 L111.7 200.74 L112.2 201.15 L112.7 201.26 L113.2 201.43 L113.7 201.45 L114.2 201.54 L114.7 201.3 L115.2 201.11 L115.7 201.24 L116.2 200.76 L116.7 200.61 L117.2 200.55 L117.7 200.52 L118.2 200.76 L118.7 201.11 L119.2 200.8 L119.7 201.2 L120.2 201.52 L120.7 201.23 L121.2 201.47 L121.7 201.24 L122.2 201.32 L122.7 201.04 L123.2 201.27 L123.7 201.04 L124.2 201.24 L124.7 201.52 L125.2 201.64 L125.7 201.5 L126.2 201.23 L126.7 201.33 L127.2 200.73 L127.7 200.74 L128.2 200.89 L128.7 201.37 L129.2 201.35 L129.7 201.42 L130.2 201.74 L130.7 201.49 L131.2 200.92 L131.7 200.98 L132.2 200.84 L132.7 200.75 L133.2 201.21 L133.7 201.36 L134.2 200.68 L134.7 201.16 L135.2 200.67 L135.7 201.12 L136.2 200.97 L136.7 201.55 L137.2 201.22 L137.7 201.01 L138.2 201.01 L138.7 200.41 L139.2 200.45 L139.7 200.51 L140.2 200.78 L140.7 200.64 L141.2 201.06 L141.7 201.24 L142.2 201.37 L142.7 201.58 L143.2 201.62 L143.7 201.68 L144.2 200.96 L144.7 200.81 L145.2 200.38 L145.7 200.39 L146.2 200.58 L146.7 201.21 L147.2 201.17 L147.7 201.33 L148.2 201.4 L148.7 201.19 L149.2 201.1 L149.7 201.43 L150.2 201.26 L150.7 201.18 L151.2 201.26 L151.7 201.3 L152.2 200.73 L152.7 200.63 L153.2 200.52 L153.7 200.58 L154.2 200.55 L154.7 200.8 L155.2 200.54 L155.7 200.82 L156.2 200.8" fill="none" stroke="#c2306e" stroke-width="1.4" stroke-linejoin="round" stroke-linecap="round"/>
<path d="M201.4 140.26 L201.9 140.4 L202.4 140.42 L202.9 140.37 L203.4 140.55 L203.9 140.65 L204.4 140.69 L204.9 140.73 L205.4 140.51 L205.9 140.12 L206.4 140.24 L206.9 140.31 L207.4 140.37 L207.9 140.48 L208.4 140.5 L208.9 140.3 L209.4 140.08 L209.9 140.51 L210.4 140.57 L210.9 140.75 L211.4 140.71 L211.9 140.84 L212.4 140.8 L212.9 140.65 L213.4 140.88 L213.9 140.9 L214.4 140.6 L214.9 140.42 L215.4 140.63 L215.9 140.55 L216.4 141.01 L216.9 141.2 L217.4 141.49 L217.9 141.24 L218.4 141.1 L218.9 141.02 L219.4 141.03 L219.9 141.02 L220.4 140.76 L220.9 140.97 L221.4 140.9 L221.9 140.89 L222.4 141.15 L222.9 141.14 L223.4 141.14 L223.9 141.25 L224.4 140.99 L224.9 140.81 L225.4 140.79 L225.9 140.52 L226.4 140.67 L226.9 140.25 L227.4 140.28 L227.9 139.98 L228.4 140.1 L228.9 139.84 L229.4 139.98 L229.9 139.8 L230.4 140.05 L230.9 139.63 L231.4 139.9 L231.9 139.71 L232.4 139.78 L232.9 139.29 L233.4 139.13 L233.9 138.91 L234.4 138.77 L234.9 138.53 L235.4 138.75 L235.9 138.78 L236.4 138.6 L236.9 138.4 L237.4 138.39 L237.9 138.36 L238.4 138.21 L238.9 138.42 L239.4 137.96 L239.9 138.31 L240.4 138.08 L240.9 138.01 L241.4 137.42 L241.9 136.8 L242.4 137.26 L242.9 137.68 L243.4 138.05 L243.9 138.03 L244.4 138.31 L244.9 138.7 L245.4 138.51 L245.9 138.48 L246.4 138.47 L246.9 138.57 L247.4 138.54 L247.9 138.19 L248.4 138.1 L248.9 138.2 L249.4 137.98 L249.9 137.99 L250.4 138.21 L250.9 138.01 L251.4 138.03 L251.9 138.17 L252.4 138.13 L252.9 137.91 L253.4 137.49 L253.9 137.63 L254.4 137.31 L254.9 137.22 L255.4 137.18 L255.9 137.37 L256.4 137.59 L256.9 137.75 L257.4 137.6 L257.9 137.95 L258.4 137.69 L258.9 137.82 L259.4 137.82 L259.9 138.1 L260.4 137.53 L260.9 137.89 L261.4 137.74 L261.9 137.68 L262.4 137.73 L262.9 137.77 L263.4 137.77 L263.9 137.83 L264.4 138.06 L264.9 138.02 L265.4 137.87 L265.9 138.19 L266.4 138.07 L266.9 138.38 L267.4 138.77 L267.9 139.14 L268.4 139.09 L268.9 139.37 L269.4 139.3 L269.9 139.18 L270.4 139.26 L270.9 139.25 L271.4 139.45 L271.9 139.61 L272.4 139.74 L272.9 139.55 L273.4 139.98 L273.9 139.92 L274.4 139.97 L274.9 140.03 L275.4 139.81 L275.9 139.8 L276.4 139.45 L276.9 139.91 L277.4 139.98 L277.9 140.08 L278.4 139.82 L278.9 140.09 L279.4 139.81 L279.9 140.12 L280.4 140.17 L280.9 140.23 L281.4 140.32 L281.9 140.19 L282.4 140.08 L282.9 139.81 L283.4 139.54 L283.9 139.64 L284.4 139.83 L284.9 139.81 L285.4 139.62 L285.9 139.8 L286.4 139.55 L286.9 139.48 L287.4 139.68 L287.9 139.96 L288.4 140.06 L288.9 139.88 L289.4 140.29 L289.9 139.9 L290.4 139.78 L290.9 139.89 L291.4 139.86 L291.9 139.41 L292.4 139.42 L292.9 139.73 L293.4 139.52 L293.9 139.88 L294.4 139.98 L294.9 139.74 L295.4 139.9 L295.9 139.99 L296.4 140.23 L296.9 140.42 L297.4 140.54 L297.9 140.22 L298.4 140.11 L298.9 139.87 L299.4 140.13 L299.9 140.13 L300.4 140.04 L300.9 139.96 L301.4 139.78 L301.9 139.81 L302.4 139.52 L302.9 139.97 L303.4 140.24 L303.9 140.35 L304.4 140.03 L304.9 140.37 L305.4 140.36 L305.9 139.91 L306.4 139.88 L306.9 139.76 L307.4 139.28 L307.9 139.4 L308.4 139.26 L308.9 139.48 L309.4 139.63 L309.9 139.98 L310.4 139.87 L310.9 140.15 L311.4 139.9 L311.9 140.08 L312.4 139.99 L312.9 140.16 L313.4 139.76 L313.9 140.17 L314.4 140.33" fill="none" stroke="#7a4522" stroke-width="1.5" stroke-linejoin="round" stroke-linecap="round"/>
<path d="M201.4 146.24 L201.9 145.97 L202.4 146.14 L202.9 146.17 L203.4 146.18 L203.9 146 L204.4 145.77 L204.9 146.32 L205.4 145.88 L205.9 146 L206.4 146.35 L206.9 146.29 L207.4 145.91 L207.9 146.07 L208.4 145.99 L208.9 145.81 L209.4 146.08 L209.9 146.23 L210.4 146.11 L210.9 145.85 L211.4 146.55 L211.9 145.98 L212.4 146.23 L212.9 146.34 L213.4 146.4 L213.9 146.17 L214.4 145.92 L214.9 146.26 L215.4 146.09 L215.9 146.01 L216.4 146.17 L216.9 146.35 L217.4 146.31 L217.9 146.34 L218.4 146.47 L218.9 146.29 L219.4 146.42 L219.9 146.2 L220.4 146.05 L220.9 146.34 L221.4 146.27 L221.9 146.42 L222.4 146.26 L222.9 146.53 L223.4 146.24 L223.9 145.81 L224.4 146 L224.9 146.04 L225.4 146.16 L225.9 145.95 L226.4 146.31 L226.9 146.18 L227.4 146.11 L227.9 146.14 L228.4 145.76 L228.9 145.95 L229.4 146.18 L229.9 146.06 L230.4 146.17 L230.9 145.81 L231.4 145.7 L231.9 145.35 L232.4 145.43 L232.9 144.87 L233.4 144.98 L233.9 144.7 L234.4 144.59 L234.9 144.66 L235.4 144.46 L235.9 144.68 L236.4 144.69 L236.9 144.69 L237.4 144.03 L237.9 144.21 L238.4 144.33 L238.9 144.31 L239.4 144.3 L239.9 144.14 L240.4 143.58 L240.9 143.23 L241.4 141.86 L241.9 141.29 L242.4 142.76 L242.9 143.3 L243.4 143.46 L243.9 143.75 L244.4 143.74 L244.9 144.17 L245.4 144.16 L245.9 144.31 L246.4 144.41 L246.9 144.39 L247.4 144.53 L247.9 144.27 L248.4 144.29 L248.9 144.13 L249.4 143.86 L249.9 143.99 L250.4 143.74 L250.9 144.07 L251.4 144.13 L251.9 144.2 L252.4 144.16 L252.9 144.2 L253.4 144.08 L253.9 143.98 L254.4 143.69 L254.9 143.75 L255.4 143.54 L255.9 143.61 L256.4 143.41 L256.9 143.51 L257.4 143.71 L257.9 143.73 L258.4 144.05 L258.9 144.14 L259.4 144.16 L259.9 144.08 L260.4 144.13 L260.9 143.97 L261.4 143.7 L261.9 143.91 L262.4 143.75 L262.9 143.73 L263.4 143.4 L263.9 143.74 L264.4 144.07 L264.9 143.78 L265.4 144.09 L265.9 144.23 L266.4 144.11 L266.9 143.67 L267.4 143.99 L267.9 143.87 L268.4 143.76 L268.9 143.9 L269.4 144.14 L269.9 143.93 L270.4 144.09 L270.9 144.29 L271.4 144.25 L271.9 144.36 L272.4 144.33 L272.9 143.95 L273.4 143.93 L273.9 144.27 L274.4 143.96 L274.9 143.89 L275.4 144.12 L275.9 143.95 L276.4 143.62 L276.9 143.92 L277.4 144.04 L277.9 144.01 L278.4 144.16 L278.9 144.62 L279.4 144.49 L279.9 144.58 L280.4 144.71 L280.9 144.79 L281.4 144.56 L281.9 144.52 L282.4 145 L282.9 144.92 L283.4 144.97 L283.9 145.09 L284.4 145.22 L284.9 145.1 L285.4 145.41 L285.9 145.46 L286.4 145.24 L286.9 144.98 L287.4 145.35 L287.9 145.35 L288.4 144.92 L288.9 144.89 L289.4 144.98 L289.9 144.81 L290.4 145.04 L290.9 145.09 L291.4 145.16 L291.9 145.1 L292.4 144.97 L292.9 145.07 L293.4 145.62 L293.9 145.73 L294.4 145.84 L294.9 145.74 L295.4 145.81 L295.9 145.63 L296.4 145.4 L296.9 145.46 L297.4 145.48 L297.9 145.66 L298.4 145.9 L298.9 145.56 L299.4 146 L299.9 146.23 L300.4 146.4 L300.9 146.06 L301.4 146.12 L301.9 146.05 L302.4 145.8 L302.9 146.06 L303.4 146.2 L303.9 145.87 L304.4 146.24 L304.9 146.3 L305.4 146.17 L305.9 146.6 L306.4 145.69 L306.9 145.93 L307.4 146.03 L307.9 146.3 L308.4 146.22 L308.9 146.52 L309.4 146.19 L309.9 146.37 L310.4 146.39 L310.9 146.49 L311.4 146.29 L311.9 146.2 L312.4 146.08 L312.9 146 L313.4 146.05 L313.9 145.98 L314.4 145.97" fill="none" stroke="#4aa0e2" stroke-width="1.4" stroke-linejoin="round" stroke-linecap="round"/>
<path d="M201.4 157.55 L201.9 157.73 L202.4 157.31 L202.9 157.26 L203.4 157.12 L203.9 157.03 L204.4 157.52 L204.9 157.65 L205.4 157.35 L205.9 157.6 L206.4 157.79 L206.9 157.65 L207.4 157.62 L207.9 157.92 L208.4 157.48 L208.9 157.76 L209.4 157.65 L209.9 157.81 L210.4 157.69 L210.9 157.47 L211.4 157.33 L211.9 157.22 L212.4 157.33 L212.9 157.21 L213.4 157.32 L213.9 157.77 L214.4 157.7 L214.9 157.7 L215.4 157.53 L215.9 157.72 L216.4 157.36 L216.9 157.12 L217.4 157.47 L217.9 157.44 L218.4 157.31 L218.9 157.41 L219.4 157.6 L219.9 157.22 L220.4 157.36 L220.9 157.2 L221.4 156.78 L221.9 156.64 L222.4 156.86 L222.9 156.31 L223.4 156.91 L223.9 156.95 L224.4 156.84 L224.9 156.94 L225.4 156.96 L225.9 157.02 L226.4 156.96 L226.9 157.04 L227.4 156.89 L227.9 157.3 L228.4 156.88 L228.9 156.99 L229.4 156.45 L229.9 156.29 L230.4 156.08 L230.9 156.25 L231.4 156.19 L231.9 156.29 L232.4 156.27 L232.9 156.35 L233.4 156.09 L233.9 155.97 L234.4 155.83 L234.9 155.74 L235.4 155.21 L235.9 155.07 L236.4 155.32 L236.9 155.01 L237.4 155.12 L237.9 155.08 L238.4 155.25 L238.9 155.46 L239.4 155.37 L239.9 155.27 L240.4 154.06 L240.9 152.73 L241.4 151.12 L241.9 148.15 L242.4 147.76 L242.9 150.7 L243.4 152.81 L243.9 153.71 L244.4 153.71 L244.9 154.02 L245.4 154.14 L245.9 154.33 L246.4 153.99 L246.9 154.38 L247.4 154.49 L247.9 154.54 L248.4 154.84 L248.9 155.06 L249.4 155.08 L249.9 155.01 L250.4 154.65 L250.9 154.52 L251.4 154.12 L251.9 154.41 L252.4 154.41 L252.9 154.5 L253.4 154.23 L253.9 154.54 L254.4 153.89 L254.9 153.92 L255.4 153.77 L255.9 153.97 L256.4 153.78 L256.9 153.45 L257.4 153.33 L257.9 153.24 L258.4 153.2 L258.9 153.34 L259.4 153.59 L259.9 153.61 L260.4 153.99 L260.9 154.15 L261.4 154.27 L261.9 154.5 L262.4 154.79 L262.9 154.69 L263.4 154.73 L263.9 154.71 L264.4 154.61 L264.9 154.35 L265.4 154.11 L265.9 154.36 L266.4 154.9 L266.9 154.61 L267.4 154.42 L267.9 154.75 L268.4 154.73 L268.9 154.62 L269.4 154.89 L269.9 154.9 L270.4 154.89 L270.9 154.67 L271.4 154.73 L271.9 154.76 L272.4 154.88 L272.9 154.81 L273.4 155.01 L273.9 155.18 L274.4 155.22 L274.9 155.5 L275.4 155.37 L275.9 155.37 L276.4 155.17 L276.9 155.21 L277.4 155.24 L277.9 155.05 L278.4 155.18 L278.9 154.95 L279.4 154.91 L279.9 155.23 L280.4 155.45 L280.9 155.11 L281.4 155.6 L281.9 155.52 L282.4 155.14 L282.9 155.3 L283.4 155.48 L283.9 155.44 L284.4 155.23 L284.9 155.35 L285.4 155.54 L285.9 155.6 L286.4 155.61 L286.9 155.86 L287.4 155.93 L287.9 155.65 L288.4 156.07 L288.9 156.24 L289.4 156.14 L289.9 156.14 L290.4 156.23 L290.9 156.09 L291.4 156.4 L291.9 155.95 L292.4 155.99 L292.9 156.32 L293.4 156.21 L293.9 155.9 L294.4 156.43 L294.9 156.44 L295.4 156.47 L295.9 156.49 L296.4 156.87 L296.9 156.52 L297.4 156.32 L297.9 156.56 L298.4 156.36 L298.9 156.26 L299.4 156.27 L299.9 156.57 L300.4 156.41 L300.9 156.36 L301.4 156.36 L301.9 156.48 L302.4 156.53 L302.9 156.63 L303.4 156.81 L303.9 156.72 L304.4 156.95 L304.9 156.96 L305.4 157.26 L305.9 157.23 L306.4 157.49 L306.9 157.65 L307.4 157.48 L307.9 157.33 L308.4 157.24 L308.9 157.41 L309.4 157.35 L309.9 157.36 L310.4 157.52 L310.9 157.43 L311.4 157.33 L311.9 157.42 L312.4 157.95 L312.9 157.57 L313.4 157.52 L313.9 157.64 L314.4 157.59" fill="none" stroke="#8a7e2e" stroke-width="1.4" stroke-linejoin="round" stroke-linecap="round"/>
<path d="M201.4 172.53 L201.9 172.5 L202.4 172.59 L202.9 172.73 L203.4 172.5 L203.9 171.81 L204.4 171.77 L204.9 171.88 L205.4 171.91 L205.9 172.18 L206.4 172.41 L206.9 172.56 L207.4 172.63 L207.9 172.7 L208.4 172.7 L208.9 172.6 L209.4 172.8 L209.9 172.84 L210.4 172.89 L210.9 172.53 L211.4 172.73 L211.9 172.27 L212.4 172.38 L212.9 172.6 L213.4 172.79 L213.9 172.55 L214.4 172.64 L214.9 172.17 L215.4 172.62 L215.9 172.29 L216.4 172.5 L216.9 172.57 L217.4 173.01 L217.9 172.79 L218.4 173.3 L218.9 173.07 L219.4 173.08 L219.9 173.26 L220.4 173.35 L220.9 173.39 L221.4 173.29 L221.9 173.54 L222.4 173.16 L222.9 173.35 L223.4 172.7 L223.9 172.79 L224.4 172.61 L224.9 172.87 L225.4 172.72 L225.9 172.91 L226.4 172.85 L226.9 172.92 L227.4 173.33 L227.9 173.19 L228.4 173.07 L228.9 173.18 L229.4 173.31 L229.9 172.87 L230.4 172.89 L230.9 172.8 L231.4 172.64 L231.9 172.81 L232.4 172.82 L232.9 172.84 L233.4 172.57 L233.9 172.39 L234.4 172.27 L234.9 172.11 L235.4 171.67 L235.9 171.43 L236.4 171.24 L236.9 171.17 L237.4 170.94 L237.9 170.85 L238.4 170.86 L238.9 170.93 L239.4 170.48 L239.9 170.18 L240.4 169.12 L240.9 167.3 L241.4 163.64 L241.9 156.34 L242.4 155.2 L242.9 162.42 L243.4 167.02 L243.9 168.83 L244.4 170.06 L244.9 170.3 L245.4 170.36 L245.9 170.65 L246.4 170.6 L246.9 170.98 L247.4 170.66 L247.9 170.38 L248.4 170.38 L248.9 170.28 L249.4 170.17 L249.9 170.35 L250.4 170.6 L250.9 170.59 L251.4 170.67 L251.9 170.51 L252.4 170.72 L252.9 170.6 L253.4 170.48 L253.9 170.76 L254.4 170.45 L254.9 170.53 L255.4 170.4 L255.9 170.21 L256.4 169.97 L256.9 169.75 L257.4 169.65 L257.9 169.52 L258.4 169.52 L258.9 169.97 L259.4 170.3 L259.9 170.08 L260.4 170.54 L260.9 170.87 L261.4 170.59 L261.9 170.3 L262.4 170.45 L262.9 170.56 L263.4 170.57 L263.9 170.65 L264.4 170.49 L264.9 170.35 L265.4 170.48 L265.9 170.78 L266.4 170.46 L266.9 171.18 L267.4 171.09 L267.9 171.13 L268.4 171.01 L268.9 171.36 L269.4 170.92 L269.9 170.99 L270.4 170.84 L270.9 170.73 L271.4 170.73 L271.9 171.04 L272.4 171.08 L272.9 170.97 L273.4 171.38 L273.9 171.27 L274.4 171.29 L274.9 171.52 L275.4 171.4 L275.9 170.99 L276.4 171.28 L276.9 171.16 L277.4 170.83 L277.9 170.97 L278.4 171 L278.9 171.15 L279.4 170.99 L279.9 170.5 L280.4 171.17 L280.9 171.27 L281.4 171.14 L281.9 171.01 L282.4 171.1 L282.9 171.16 L283.4 171.16 L283.9 170.78 L284.4 171.02 L284.9 171.4 L285.4 171.1 L285.9 171.24 L286.4 171.23 L286.9 171.06 L287.4 170.89 L287.9 171.61 L288.4 171.63 L288.9 171.58 L289.4 171.59 L289.9 171.66 L290.4 171.27 L290.9 171.5 L291.4 171.54 L291.9 171.69 L292.4 172.18 L292.9 171.99 L293.4 172.04 L293.9 172.27 L294.4 171.97 L294.9 171.84 L295.4 171.91 L295.9 172.11 L296.4 171.9 L296.9 172.1 L297.4 172.01 L297.9 171.92 L298.4 171.92 L298.9 171.86 L299.4 172.08 L299.9 172.43 L300.4 172.24 L300.9 172.25 L301.4 172 L301.9 171.99 L302.4 171.72 L302.9 171.96 L303.4 171.92 L303.9 171.72 L304.4 171.93 L304.9 171.74 L305.4 171.68 L305.9 171.7 L306.4 171.73 L306.9 172.07 L307.4 172.02 L307.9 171.93 L308.4 172.11 L308.9 172.11 L309.4 171.86 L309.9 172.1 L310.4 172.36 L310.9 172.07 L311.4 171.9 L311.9 172.41 L312.4 172.47 L312.9 172.25 L313.4 172.52 L313.9 172.8 L314.4 172.92" fill="none" stroke="#c2306e" stroke-width="1.4" stroke-linejoin="round" stroke-linecap="round"/>
<path d="M201.4 192.42 L201.9 192.11 L202.4 192.21 L202.9 192.01 L203.4 192.4 L203.9 192.62 L204.4 192.75 L204.9 192.62 L205.4 192.55 L205.9 192.82 L206.4 192.91 L206.9 192.96 L207.4 193.19 L207.9 192.91 L208.4 192.96 L208.9 192.9 L209.4 192.75 L209.9 192.52 L210.4 192.69 L210.9 192.57 L211.4 192.91 L211.9 192.79 L212.4 192.86 L212.9 192.94 L213.4 193.26 L213.9 193.25 L214.4 193.25 L214.9 193.44 L215.4 193.42 L215.9 193.16 L216.4 193.13 L216.9 193.36 L217.4 192.62 L217.9 192.63 L218.4 192.56 L218.9 192.54 L219.4 192.19 L219.9 192.34 L220.4 192.52 L220.9 192.69 L221.4 192.5 L221.9 192.79 L222.4 192.87 L222.9 192.92 L223.4 192.73 L223.9 192.86 L224.4 192.95 L224.9 192.74 L225.4 192.81 L225.9 192.85 L226.4 192.96 L226.9 192.59 L227.4 192.81 L227.9 192.98 L228.4 192.95 L228.9 193 L229.4 193.04 L229.9 193.03 L230.4 192.93 L230.9 192.8 L231.4 192.71 L231.9 192.61 L232.4 192.31 L232.9 192.51 L233.4 192.79 L233.9 192.34 L234.4 192.09 L234.9 192.13 L235.4 192.02 L235.9 191.94 L236.4 191.73 L236.9 192.06 L237.4 191.97 L237.9 191.92 L238.4 191.62 L238.9 191.51 L239.4 191.32 L239.9 191.06 L240.4 190.5 L240.9 189.54 L241.4 187.47 L241.9 181.66 L242.4 170.58 L242.9 177.56 L243.4 186.27 L243.9 188.86 L244.4 190.31 L244.9 190.52 L245.4 191 L245.9 191.49 L246.4 191.5 L246.9 191.91 L247.4 192.13 L247.9 192.02 L248.4 192.23 L248.9 191.88 L249.4 192 L249.9 192.18 L250.4 192.23 L250.9 192.4 L251.4 192.37 L251.9 192.61 L252.4 192.57 L252.9 192.43 L253.4 192.8 L253.9 191.96 L254.4 192.13 L254.9 191.62 L255.4 191.89 L255.9 191.68 L256.4 191.79 L256.9 191.59 L257.4 191.6 L257.9 191.46 L258.4 191.46 L258.9 191.83 L259.4 192.16 L259.9 191.52 L260.4 191.88 L260.9 192 L261.4 192.03 L261.9 192.3 L262.4 192.47 L262.9 192.41 L263.4 192.47 L263.9 192.2 L264.4 192.28 L264.9 192.38 L265.4 192.02 L265.9 192.12 L266.4 191.83 L266.9 191.52 L267.4 191.37 L267.9 191.52 L268.4 191.79 L268.9 191.52 L269.4 191.57 L269.9 192.11 L270.4 191.8 L270.9 192.28 L271.4 192.48 L271.9 192.72 L272.4 192.44 L272.9 192.1 L273.4 191.91 L273.9 191.89 L274.4 191.94 L274.9 192 L275.4 192.03 L275.9 191.71 L276.4 191.81 L276.9 192.01 L277.4 192.03 L277.9 192.16 L278.4 192.34 L278.9 192.6 L279.4 192.67 L279.9 192.31 L280.4 192.1 L280.9 192.2 L281.4 191.65 L281.9 191.71 L282.4 191.64 L282.9 192.06 L283.4 192.06 L283.9 192.02 L284.4 192.11 L284.9 192.17 L285.4 192.18 L285.9 192.34 L286.4 192.6 L286.9 192.32 L287.4 192.39 L287.9 192.69 L288.4 192.53 L288.9 192.23 L289.4 192.22 L289.9 192.35 L290.4 192.03 L290.9 192.22 L291.4 192.04 L291.9 191.93 L292.4 191.83 L292.9 191.96 L293.4 192.07 L293.9 192.31 L294.4 192.14 L294.9 192.05 L295.4 192.32 L295.9 192.1 L296.4 191.98 L296.9 191.63 L297.4 192.19 L297.9 191.98 L298.4 192.07 L298.9 192.11 L299.4 192.01 L299.9 191.82 L300.4 191.71 L300.9 191.83 L301.4 191.9 L301.9 191.98 L302.4 192.28 L302.9 192.28 L303.4 192.2 L303.9 191.93 L304.4 192.08 L304.9 192.08 L305.4 192.24 L305.9 192.42 L306.4 192.53 L306.9 192.67 L307.4 192.78 L307.9 192.48 L308.4 192.68 L308.9 192.58 L309.4 192.4 L309.9 192.59 L310.4 192.37 L310.9 192.08 L311.4 192.37 L311.9 192.37 L312.4 191.99 L312.9 192.27 L313.4 192.26 L313.9 192.22 L314.4 191.84" fill="none" stroke="#7cc070" stroke-width="1.3" stroke-linejoin="round" stroke-linecap="round"/>
<path d="M201.4 197.81 L201.9 197.56 L202.4 197.6 L202.9 197.52 L203.4 197.24 L203.9 197.38 L204.4 197.36 L204.9 197.5 L205.4 197.6 L205.9 197.83 L206.4 197.66 L206.9 197.55 L207.4 197.58 L207.9 198.17 L208.4 198.22 L208.9 198.05 L209.4 198.16 L209.9 198.22 L210.4 198.43 L210.9 198.26 L211.4 198.22 L211.9 198.71 L212.4 198.73 L212.9 198.64 L213.4 198.67 L213.9 198.57 L214.4 198.43 L214.9 198.52 L215.4 198.39 L215.9 198.64 L216.4 198.59 L216.9 198.67 L217.4 198.56 L217.9 198.69 L218.4 198.74 L218.9 198.68 L219.4 198.31 L219.9 198.73 L220.4 198.93 L220.9 198.93 L221.4 198.81 L221.9 199.09 L222.4 198.77 L222.9 198.77 L223.4 199.26 L223.9 199.09 L224.4 199.07 L224.9 198.68 L225.4 198.79 L225.9 198.62 L226.4 198.76 L226.9 198.39 L227.4 198.92 L227.9 198.81 L228.4 198.88 L228.9 198.94 L229.4 199.3 L229.9 199.03 L230.4 198.67 L230.9 198.84 L231.4 198.54 L231.9 198.26 L232.4 198.31 L232.9 198.09 L233.4 198.19 L233.9 198.06 L234.4 198.15 L234.9 197.75 L235.4 197.82 L235.9 198.01 L236.4 197.68 L236.9 197.81 L237.4 198.18 L237.9 198.02 L238.4 197.78 L238.9 198.36 L239.4 197.68 L239.9 197.37 L240.4 197.04 L240.9 196.19 L241.4 195.25 L241.9 195.97 L242.4 196.52 L242.9 196.28 L243.4 196.32 L243.9 196.68 L244.4 197.41 L244.9 197.32 L245.4 197.72 L245.9 197.69 L246.4 197.77 L246.9 197.6 L247.4 197.61 L247.9 197.88 L248.4 198.21 L248.9 198.45 L249.4 198.37 L249.9 198.56 L250.4 198.08 L250.9 197.99 L251.4 198.53 L251.9 198.2 L252.4 198.13 L252.9 197.92 L253.4 198.27 L253.9 198.38 L254.4 197.93 L254.9 197.85 L255.4 198.01 L255.9 197.65 L256.4 197.45 L256.9 197.12 L257.4 196.93 L257.9 197.07 L258.4 197.64 L258.9 197.8 L259.4 198.04 L259.9 197.73 L260.4 197.87 L260.9 197.97 L261.4 198 L261.9 197.96 L262.4 197.85 L262.9 197.95 L263.4 197.91 L263.9 198.05 L264.4 198.28 L264.9 198.16 L265.4 197.99 L265.9 197.59 L266.4 197.75 L266.9 198.02 L267.4 198.4 L267.9 198.34 L268.4 198.22 L268.9 198.46 L269.4 198.22 L269.9 198.06 L270.4 198.51 L270.9 198.31 L271.4 198.18 L271.9 198.27 L272.4 198.26 L272.9 198.22 L273.4 198.37 L273.9 198.54 L274.4 198.51 L274.9 198.7 L275.4 198.66 L275.9 197.99 L276.4 197.81 L276.9 197.96 L277.4 198.27 L277.9 198.21 L278.4 198.38 L278.9 198.26 L279.4 198.36 L279.9 198.27 L280.4 198.07 L280.9 198.19 L281.4 198.33 L281.9 198.29 L282.4 198.15 L282.9 198.13 L283.4 198.25 L283.9 198.3 L284.4 198.49 L284.9 197.86 L285.4 198 L285.9 197.65 L286.4 197.7 L286.9 197.35 L287.4 197.42 L287.9 197.66 L288.4 197.62 L288.9 197.69 L289.4 197.86 L289.9 198.16 L290.4 198.07 L290.9 198.41 L291.4 198.57 L291.9 198.38 L292.4 198.26 L292.9 198.13 L293.4 197.99 L293.9 198.28 L294.4 198.32 L294.9 198.03 L295.4 198 L295.9 198.21 L296.4 197.9 L296.9 197.95 L297.4 198.08 L297.9 198.07 L298.4 197.83 L298.9 197.73 L299.4 197.98 L299.9 197.97 L300.4 197.78 L300.9 197.57 L301.4 197.51 L301.9 197.65 L302.4 197.77 L302.9 197.82 L303.4 197.66 L303.9 197.69 L304.4 197.7 L304.9 197.59 L305.4 198.12 L305.9 197.81 L306.4 197.81 L306.9 198.19 L307.4 198.01 L307.9 198.25 L308.4 198.05 L308.9 198.12 L309.4 197.8 L309.9 198.03 L310.4 198.22 L310.9 197.57 L311.4 198.02 L311.9 197.55 L312.4 197.53 L312.9 197.38 L313.4 197.41 L313.9 197.31 L314.4 197.65" fill="none" stroke="#4a4eb2" stroke-width="1.3" stroke-linejoin="round" stroke-linecap="round"/>
<path d="M361.4 136.2 L361.9 136.27 L362.4 136.37 L362.9 136.16 L363.4 136.36 L363.9 136.45 L364.4 136.24 L364.9 136.53 L365.4 136.36 L365.9 136.72 L366.4 136.97 L366.9 137.06 L367.4 137.15 L367.9 137.15 L368.4 136.89 L368.9 136.9 L369.4 137.3 L369.9 136.91 L370.4 136.69 L370.9 136.86 L371.4 136.76 L371.9 136.51 L372.4 136.44 L372.9 136.14 L373.4 136.67 L373.9 136.81 L374.4 136.71 L374.9 137.45 L375.4 137.28 L375.9 137.08 L376.4 136.59 L376.9 136.72 L377.4 136.77 L377.9 136.67 L378.4 136.61 L378.9 136.51 L379.4 136.62 L379.9 136.23 L380.4 136.45 L380.9 136.63 L381.4 137.23 L381.9 136.82 L382.4 136.88 L382.9 136.91 L383.4 137.11 L383.9 137.25 L384.4 137.34 L384.9 136.85 L385.4 136.57 L385.9 136.8 L386.4 136.31 L386.9 136.89 L387.4 136.9 L387.9 137.32 L388.4 137.67 L388.9 137.67 L389.4 137.69 L389.9 137.74 L390.4 137.7 L390.9 137.3 L391.4 137.06 L391.9 137.55 L392.4 137.44 L392.9 137.58 L393.4 137.64 L393.9 137.6 L394.4 137.23 L394.9 137.15 L395.4 137.18 L395.9 136.67 L396.4 137.3 L396.9 137.38 L397.4 137.1 L397.9 137.43 L398.4 137.57 L398.9 137.6 L399.4 138.11 L399.9 137.62 L400.4 137.83 L400.9 137.48 L401.4 137.38 L401.9 137.53 L402.4 138.49 L402.9 139.08 L403.4 139.73 L403.9 140.45 L404.4 140.8 L404.9 142.14 L405.4 144.04 L405.9 146.34 L406.4 147.86 L406.9 148.51 L407.4 148.8 L407.9 150.45 L408.4 152.15 L408.9 154.16 L409.4 155.61 L409.9 156.78 L410.4 156.64 L410.9 156.82 L411.4 157.65 L411.9 158.42 L412.4 159.16 L412.9 159.34 L413.4 159.72 L413.9 159.32 L414.4 159.41 L414.9 159.35 L415.4 159.28 L415.9 159.34 L416.4 159.35 L416.9 159.3 L417.4 158.53 L417.9 157.96 L418.4 157.37 L418.9 156.91 L419.4 156.64 L419.9 156.27 L420.4 156.43 L420.9 156.37 L421.4 155.83 L421.9 154.99 L422.4 154.49 L422.9 153.59 L423.4 152.58 L423.9 152.25 L424.4 151.34 L424.9 150.96 L425.4 150.38 L425.9 149.86 L426.4 149.37 L426.9 148.98 L427.4 148.82 L427.9 148.35 L428.4 148.25 L428.9 147.89 L429.4 147.88 L429.9 147.58 L430.4 147.31 L430.9 146.5 L431.4 146.31 L431.9 145.54 L432.4 144.63 L432.9 144.16 L433.4 144 L433.9 143.38 L434.4 142.7 L434.9 142.3 L435.4 141.84 L435.9 140.89 L436.4 140.47 L436.9 140.49 L437.4 140.19 L437.9 140.22 L438.4 140.28 L438.9 140.33 L439.4 140.04 L439.9 140.04 L440.4 139.42 L440.9 139.17 L441.4 138.82 L441.9 138.32 L442.4 138.45 L442.9 138.32 L443.4 138.02 L443.9 137.66 L444.4 137.58 L444.9 138.04 L445.4 138.02 L445.9 138.13 L446.4 138.44 L446.9 138.36 L447.4 138.2 L447.9 137.59 L448.4 137.39 L448.9 137.02 L449.4 136.53 L449.9 136.24 L450.4 135.9 L450.9 136.16 L451.4 136.24 L451.9 136.18 L452.4 136.71 L452.9 136.53 L453.4 136.36 L453.9 136.55 L454.4 136.37 L454.9 136.48 L455.4 136.61 L455.9 136.38 L456.4 136.14 L456.9 136.22 L457.4 136.57 L457.9 136.26 L458.4 136.45 L458.9 136.25 L459.4 136.62 L459.9 136.55 L460.4 136.29 L460.9 136.09 L461.4 136.27 L461.9 136.19 L462.4 136.2 L462.9 136.76 L463.4 136.75 L463.9 136.86 L464.4 136.64 L464.9 136.32 L465.4 136.06 L465.9 136 L466.4 136.49 L466.9 136.19 L467.4 136.66 L467.9 137.14 L468.4 136.75 L468.9 136.36 L469.4 136.4 L469.9 136.61 L470.4 136.2 L470.9 136.32 L471.4 136.21 L471.9 136.64 L472.4 136.28 L472.9 136.25 L473.4 136.33 L473.9 136.01" fill="none" stroke="#7a4522" stroke-width="1.5" stroke-linejoin="round" stroke-linecap="round"/>
<path d="M361.4 152.25 L361.9 152.09 L362.4 152.34 L362.9 152.34 L363.4 152.09 L363.9 152.23 L364.4 151.92 L364.9 152.08 L365.4 151.85 L365.9 152.11 L366.4 152.2 L366.9 152.21 L367.4 151.97 L367.9 152.05 L368.4 152.08 L368.9 152.05 L369.4 152.11 L369.9 151.81 L370.4 151.96 L370.9 151.73 L371.4 151.98 L371.9 151.83 L372.4 151.99 L372.9 152.08 L373.4 152.54 L373.9 152.28 L374.4 152.18 L374.9 152.61 L375.4 152.11 L375.9 151.92 L376.4 151.91 L376.9 151.86 L377.4 151.92 L377.9 151.97 L378.4 152.32 L378.9 152.53 L379.4 152.39 L379.9 152.51 L380.4 152.3 L380.9 152.28 L381.4 152.31 L381.9 152.72 L382.4 152.3 L382.9 152.46 L383.4 152.35 L383.9 151.84 L384.4 151.86 L384.9 151.89 L385.4 152.07 L385.9 152.11 L386.4 152.72 L386.9 152.4 L387.4 152.27 L387.9 151.92 L388.4 152.24 L388.9 151.91 L389.4 151.62 L389.9 151.95 L390.4 152.41 L390.9 152.08 L391.4 152.06 L391.9 152.02 L392.4 152.1 L392.9 152.04 L393.4 152.41 L393.9 152.45 L394.4 152.28 L394.9 152.32 L395.4 151.89 L395.9 151.89 L396.4 152.06 L396.9 152.17 L397.4 152.55 L397.9 152.82 L398.4 152.74 L398.9 153.04 L399.4 152.67 L399.9 152.68 L400.4 152.98 L400.9 152.65 L401.4 152.23 L401.9 151.97 L402.4 152.66 L402.9 153.31 L403.4 154.74 L403.9 156.69 L404.4 157.81 L404.9 159.31 L405.4 160.79 L405.9 161.75 L406.4 162.64 L406.9 162.98 L407.4 162.84 L407.9 163.35 L408.4 163.68 L408.9 164.29 L409.4 164.4 L409.9 165.51 L410.4 165.97 L410.9 166.68 L411.4 167.19 L411.9 167.88 L412.4 168.11 L412.9 168.72 L413.4 169.05 L413.9 169.32 L414.4 169.43 L414.9 169.11 L415.4 168.79 L415.9 168.55 L416.4 167.56 L416.9 167.25 L417.4 166.85 L417.9 166.81 L418.4 166.52 L418.9 166.06 L419.4 166.15 L419.9 165.92 L420.4 165.75 L420.9 165.87 L421.4 165.75 L421.9 166.05 L422.4 166.18 L422.9 166.27 L423.4 166.14 L423.9 166.4 L424.4 165.88 L424.9 165.64 L425.4 165.2 L425.9 165.19 L426.4 164.5 L426.9 164.13 L427.4 163.72 L427.9 163.83 L428.4 163.09 L428.9 162.92 L429.4 162.8 L429.9 162.75 L430.4 162.13 L430.9 162.73 L431.4 162.81 L431.9 162 L432.4 161.64 L432.9 161.45 L433.4 161.13 L433.9 160.73 L434.4 160.95 L434.9 161.29 L435.4 160.92 L435.9 160.91 L436.4 161.15 L436.9 160.97 L437.4 160.31 L437.9 160.29 L438.4 159.57 L438.9 159 L439.4 158.15 L439.9 157.42 L440.4 156.46 L440.9 155.66 L441.4 154.81 L441.9 154.31 L442.4 154.09 L442.9 153.84 L443.4 153.44 L443.9 153.41 L444.4 153.35 L444.9 153.41 L445.4 153.3 L445.9 153.62 L446.4 153.23 L446.9 153.41 L447.4 152.83 L447.9 152.6 L448.4 151.83 L448.9 152.05 L449.4 151.72 L449.9 151.59 L450.4 151.76 L450.9 151.79 L451.4 151.48 L451.9 151.36 L452.4 151.14 L452.9 151.1 L453.4 151.17 L453.9 151.32 L454.4 151.66 L454.9 151.59 L455.4 151.01 L455.9 151.5 L456.4 151.05 L456.9 150.89 L457.4 150.98 L457.9 150.95 L458.4 150.66 L458.9 151.11 L459.4 150.84 L459.9 151.29 L460.4 151.07 L460.9 151 L461.4 151.02 L461.9 151.32 L462.4 151.42 L462.9 151.34 L463.4 151.1 L463.9 150.8 L464.4 150.66 L464.9 150.66 L465.4 150.75 L465.9 151.13 L466.4 151.1 L466.9 151.01 L467.4 150.8 L467.9 150.99 L468.4 150.59 L468.9 150.54 L469.4 150.39 L469.9 150.42 L470.4 150.6 L470.9 150.44 L471.4 150.49 L471.9 150.62 L472.4 150.58 L472.9 150.59 L473.4 150.77 L473.9 150.92" fill="none" stroke="#4aa0e2" stroke-width="1.4" stroke-linejoin="round" stroke-linecap="round"/>
<path d="M361.4 162.2 L361.9 162.18 L362.4 162.31 L362.9 162.28 L363.4 162.35 L363.9 162.18 L364.4 162.19 L364.9 162.09 L365.4 161.66 L365.9 161.45 L366.4 161.87 L366.9 161.95 L367.4 162.68 L367.9 162.77 L368.4 163.01 L368.9 163.05 L369.4 162.81 L369.9 162.48 L370.4 162.45 L370.9 162.32 L371.4 162.15 L371.9 162.13 L372.4 161.93 L372.9 161.91 L373.4 162.22 L373.9 162.26 L374.4 161.98 L374.9 162.24 L375.4 162.75 L375.9 162.09 L376.4 161.89 L376.9 162.05 L377.4 161.71 L377.9 161.73 L378.4 161.87 L378.9 162 L379.4 162.47 L379.9 162.63 L380.4 162.63 L380.9 162.46 L381.4 161.92 L381.9 162.27 L382.4 161.87 L382.9 162.21 L383.4 162.05 L383.9 162.07 L384.4 162.42 L384.9 162.43 L385.4 162.16 L385.9 162.61 L386.4 162.51 L386.9 162.25 L387.4 162.13 L387.9 162.45 L388.4 162.17 L388.9 162.3 L389.4 162.27 L389.9 162.55 L390.4 162.53 L390.9 162.56 L391.4 162.12 L391.9 162.65 L392.4 162.64 L392.9 162.41 L393.4 162.94 L393.9 162.91 L394.4 162.92 L394.9 162.82 L395.4 162.76 L395.9 162.85 L396.4 162.73 L396.9 162.72 L397.4 162.56 L397.9 162.64 L398.4 162.56 L398.9 162.49 L399.4 162.6 L399.9 162.74 L400.4 162.7 L400.9 162.4 L401.4 162.8 L401.9 162.78 L402.4 163.13 L402.9 162.88 L403.4 163.37 L403.9 163.7 L404.4 164.55 L404.9 164.83 L405.4 165.57 L405.9 166.63 L406.4 167.31 L406.9 167.51 L407.4 168.27 L407.9 169.08 L408.4 169.45 L408.9 170.09 L409.4 170.38 L409.9 170.45 L410.4 170.58 L410.9 171.18 L411.4 171.61 L411.9 171.95 L412.4 172.43 L412.9 172.48 L413.4 172.58 L413.9 172.43 L414.4 171.88 L414.9 172.07 L415.4 171.78 L415.9 171.37 L416.4 171.44 L416.9 171.45 L417.4 171.6 L417.9 171.53 L418.4 171.68 L418.9 171.29 L419.4 171.67 L419.9 171.51 L420.4 171.49 L420.9 171.04 L421.4 171.26 L421.9 171.2 L422.4 170.87 L422.9 170.68 L423.4 171.1 L423.9 171.07 L424.4 170.95 L424.9 171.06 L425.4 170.72 L425.9 170.47 L426.4 169.99 L426.9 170.11 L427.4 170.14 L427.9 169.96 L428.4 170.18 L428.9 170.26 L429.4 169.89 L429.9 169.57 L430.4 169.33 L430.9 169.44 L431.4 169.27 L431.9 169.33 L432.4 169.2 L432.9 168.77 L433.4 168.97 L433.9 168.48 L434.4 168.08 L434.9 168.33 L435.4 168.18 L435.9 168.23 L436.4 168.22 L436.9 168.8 L437.4 169.08 L437.9 169.09 L438.4 169.22 L438.9 169.08 L439.4 168.71 L439.9 168.24 L440.4 167.96 L440.9 167.28 L441.4 167.59 L441.9 167.17 L442.4 166.85 L442.9 166.56 L443.4 166.61 L443.9 165.62 L444.4 165.62 L444.9 165.57 L445.4 165.16 L445.9 164.46 L446.4 164.74 L446.9 164.09 L447.4 163.76 L447.9 163.41 L448.4 163.39 L448.9 162.79 L449.4 162.77 L449.9 162.6 L450.4 162.77 L450.9 162.8 L451.4 162.95 L451.9 162.82 L452.4 162.8 L452.9 163.15 L453.4 162.68 L453.9 162.62 L454.4 162.47 L454.9 162.66 L455.4 162.35 L455.9 162.59 L456.4 162.76 L456.9 162.82 L457.4 162.7 L457.9 162.7 L458.4 162.74 L458.9 162.34 L459.4 162.64 L459.9 162.67 L460.4 162.71 L460.9 162.63 L461.4 162.7 L461.9 162.61 L462.4 162.54 L462.9 162.34 L463.4 162.5 L463.9 162.53 L464.4 163.04 L464.9 163.01 L465.4 163.07 L465.9 163.03 L466.4 163.49 L466.9 163.15 L467.4 163.31 L467.9 162.88 L468.4 162.45 L468.9 162.13 L469.4 162.03 L469.9 162.01 L470.4 162.29 L470.9 162.84 L471.4 163.03 L471.9 163.05 L472.4 162.69 L472.9 162.81 L473.4 162.29 L473.9 161.92" fill="none" stroke="#8a7e2e" stroke-width="1.4" stroke-linejoin="round" stroke-linecap="round"/>
<path d="M361.4 174.4 L361.9 174.69 L362.4 174.71 L362.9 174.63 L363.4 174.34 L363.9 174.48 L364.4 174.5 L364.9 174.6 L365.4 174.46 L365.9 174.29 L366.4 174.45 L366.9 174.64 L367.4 174.45 L367.9 174.38 L368.4 174.46 L368.9 174.34 L369.4 174.59 L369.9 174.77 L370.4 174.35 L370.9 174.31 L371.4 174.68 L371.9 174.42 L372.4 174.78 L372.9 174.78 L373.4 174.63 L373.9 174.83 L374.4 174.73 L374.9 174.42 L375.4 174.44 L375.9 174.84 L376.4 174.77 L376.9 174.6 L377.4 174.15 L377.9 174.46 L378.4 174.21 L378.9 174.32 L379.4 174.35 L379.9 174.36 L380.4 174.62 L380.9 174.59 L381.4 174.57 L381.9 174.68 L382.4 174.72 L382.9 174.48 L383.4 174.58 L383.9 174.43 L384.4 174.77 L384.9 174.66 L385.4 174.64 L385.9 174.38 L386.4 174.78 L386.9 174.43 L387.4 174.19 L387.9 174.71 L388.4 174.39 L388.9 174.88 L389.4 174.73 L389.9 174.75 L390.4 174.46 L390.9 174.78 L391.4 174.88 L391.9 174.92 L392.4 174.84 L392.9 174.55 L393.4 174.49 L393.9 174.57 L394.4 174.53 L394.9 174.31 L395.4 174.5 L395.9 174.29 L396.4 174.31 L396.9 174.75 L397.4 174.6 L397.9 174.81 L398.4 174.93 L398.9 174.71 L399.4 174.54 L399.9 174.74 L400.4 174.28 L400.9 174.69 L401.4 174.75 L401.9 175.04 L402.4 174.95 L402.9 174.83 L403.4 174.96 L403.9 175.06 L404.4 175.08 L404.9 175.7 L405.4 176.43 L405.9 176.68 L406.4 177.03 L406.9 177.15 L407.4 177.06 L407.9 177.19 L408.4 177.2 L408.9 177.39 L409.4 177.61 L409.9 177.36 L410.4 177.25 L410.9 177.32 L411.4 177.23 L411.9 177.2 L412.4 177.36 L412.9 177.24 L413.4 177.4 L413.9 177.36 L414.4 177.45 L414.9 177.37 L415.4 177.44 L415.9 177.51 L416.4 177.82 L416.9 177.79 L417.4 177.68 L417.9 177.63 L418.4 177.6 L418.9 177.93 L419.4 178 L419.9 177.95 L420.4 178.34 L420.9 177.94 L421.4 177.93 L421.9 177.74 L422.4 177.64 L422.9 177.45 L423.4 177.86 L423.9 177.68 L424.4 177.42 L424.9 177.43 L425.4 177.46 L425.9 177.3 L426.4 177.2 L426.9 177.02 L427.4 177.15 L427.9 176.86 L428.4 177.13 L428.9 177.21 L429.4 176.84 L429.9 177.03 L430.4 176.78 L430.9 176.76 L431.4 176.71 L431.9 177.07 L432.4 177.23 L432.9 177.01 L433.4 177.12 L433.9 176.82 L434.4 176.54 L434.9 176.38 L435.4 176.23 L435.9 176.24 L436.4 176.35 L436.9 176.25 L437.4 176.37 L437.9 176.15 L438.4 175.9 L438.9 175.62 L439.4 175.65 L439.9 175.91 L440.4 175.6 L440.9 175.79 L441.4 175.49 L441.9 175.39 L442.4 175.42 L442.9 175.37 L443.4 175.33 L443.9 174.89 L444.4 175.15 L444.9 175.27 L445.4 175.13 L445.9 175.07 L446.4 174.99 L446.9 174.75 L447.4 174.65 L447.9 174.65 L448.4 174.68 L448.9 174.82 L449.4 174.95 L449.9 174.82 L450.4 174.87 L450.9 174.69 L451.4 174.48 L451.9 174.74 L452.4 174.51 L452.9 174.48 L453.4 174.4 L453.9 174.67 L454.4 174.41 L454.9 174.58 L455.4 174.45 L455.9 174.81 L456.4 174.69 L456.9 174.89 L457.4 174.93 L457.9 174.77 L458.4 174.94 L458.9 174.82 L459.4 174.74 L459.9 175.03 L460.4 174.98 L460.9 174.96 L461.4 174.88 L461.9 174.87 L462.4 174.91 L462.9 174.65 L463.4 174.84 L463.9 174.96 L464.4 174.69 L464.9 174.61 L465.4 174.49 L465.9 174.06 L466.4 174.43 L466.9 174.43 L467.4 174.47 L467.9 174.4 L468.4 174.47 L468.9 174.44 L469.4 174.32 L469.9 174.5 L470.4 174.6 L470.9 174.3 L471.4 174.54 L471.9 174.7 L472.4 174.76 L472.9 174.34 L473.4 174.27 L473.9 174.4" fill="none" stroke="#c2306e" stroke-width="1.4" stroke-linejoin="round" stroke-linecap="round"/>
<path d="M361.4 186.32 L361.9 185.96 L362.4 186.04 L362.9 185.92 L363.4 185.77 L363.9 186 L364.4 186.15 L364.9 185.91 L365.4 185.92 L365.9 186.08 L366.4 185.98 L366.9 185.93 L367.4 186.19 L367.9 186.02 L368.4 186.02 L368.9 185.95 L369.4 185.97 L369.9 185.93 L370.4 185.92 L370.9 185.99 L371.4 185.81 L371.9 186.22 L372.4 186.36 L372.9 186.34 L373.4 186.26 L373.9 186.04 L374.4 185.83 L374.9 186.01 L375.4 185.86 L375.9 186.19 L376.4 185.98 L376.9 185.85 L377.4 185.88 L377.9 186.16 L378.4 185.77 L378.9 186.06 L379.4 185.94 L379.9 186.28 L380.4 186.06 L380.9 186.11 L381.4 185.93 L381.9 186.1 L382.4 185.96 L382.9 186.25 L383.4 186.34 L383.9 186.17 L384.4 186.04 L384.9 185.94 L385.4 186.11 L385.9 186.18 L386.4 186.05 L386.9 186.35 L387.4 186.21 L387.9 185.96 L388.4 186.13 L388.9 186 L389.4 186.03 L389.9 185.84 L390.4 185.9 L390.9 185.97 L391.4 185.85 L391.9 186.13 L392.4 186.05 L392.9 186.23 L393.4 186.3 L393.9 186.02 L394.4 185.93 L394.9 186.22 L395.4 186.16 L395.9 186.49 L396.4 186.03 L396.9 186.42 L397.4 186.24 L397.9 186.11 L398.4 186.05 L398.9 186.16 L399.4 186.25 L399.9 186.24 L400.4 186.2 L400.9 186.18 L401.4 186.28 L401.9 186.06 L402.4 186.19 L402.9 186.23 L403.4 186.27 L403.9 186.22 L404.4 186.17 L404.9 186.24 L405.4 185.97 L405.9 186.17 L406.4 186.2 L406.9 186.15 L407.4 186.3 L407.9 186.44 L408.4 186.64 L408.9 186.64 L409.4 187.11 L409.9 187.14 L410.4 187.3 L410.9 187.52 L411.4 187.7 L411.9 187.48 L412.4 187.33 L412.9 187.36 L413.4 187.6 L413.9 187.2 L414.4 187.59 L414.9 187.34 L415.4 187.47 L415.9 187.42 L416.4 187.42 L416.9 187.62 L417.4 187.43 L417.9 187.26 L418.4 187.42 L418.9 187.25 L419.4 187.21 L419.9 187.5 L420.4 187.65 L420.9 187.4 L421.4 187.08 L421.9 187.32 L422.4 187.01 L422.9 187.13 L423.4 187.51 L423.9 187.81 L424.4 187.5 L424.9 187.6 L425.4 187.78 L425.9 187.56 L426.4 187.21 L426.9 186.87 L427.4 187.23 L427.9 187.22 L428.4 186.82 L428.9 187.51 L429.4 186.79 L429.9 187.01 L430.4 187.05 L430.9 187.11 L431.4 187.26 L431.9 187.22 L432.4 187.06 L432.9 187.09 L433.4 186.79 L433.9 186.84 L434.4 187.21 L434.9 186.92 L435.4 187.11 L435.9 187.47 L436.4 187.45 L436.9 187.28 L437.4 187.45 L437.9 187.27 L438.4 187.16 L438.9 187.28 L439.4 187.13 L439.9 187.36 L440.4 187.05 L440.9 186.99 L441.4 187.05 L441.9 186.91 L442.4 186.73 L442.9 186.68 L443.4 186.8 L443.9 186.8 L444.4 187.1 L444.9 186.94 L445.4 186.68 L445.9 186.98 L446.4 187.17 L446.9 186.87 L447.4 186.72 L447.9 186.8 L448.4 186.46 L448.9 186.78 L449.4 186.66 L449.9 186.7 L450.4 187.06 L450.9 186.75 L451.4 186.67 L451.9 186.78 L452.4 186.82 L452.9 186.78 L453.4 186.84 L453.9 186.74 L454.4 186.84 L454.9 186.92 L455.4 187.11 L455.9 186.95 L456.4 186.99 L456.9 186.93 L457.4 186.59 L457.9 186.53 L458.4 186.63 L458.9 186.47 L459.4 186.44 L459.9 186.45 L460.4 186.62 L460.9 186.7 L461.4 186.72 L461.9 186.43 L462.4 186.65 L462.9 186.75 L463.4 186.72 L463.9 186.62 L464.4 186.69 L464.9 186.7 L465.4 186.38 L465.9 186.6 L466.4 186.29 L466.9 186.38 L467.4 186.5 L467.9 186.57 L468.4 186.59 L468.9 186.42 L469.4 186.47 L469.9 186.58 L470.4 186.6 L470.9 186.55 L471.4 186.6 L471.9 186.79 L472.4 186.78 L472.9 186.87 L473.4 186.61 L473.9 186.52" fill="none" stroke="#88a844" stroke-width="1.3" stroke-linejoin="round" stroke-linecap="round"/>
<path d="M361.4 196.24 L361.9 196.19 L362.4 196.27 L362.9 196.31 L363.4 196.2 L363.9 196.44 L364.4 196.33 L364.9 196.01 L365.4 195.94 L365.9 196.29 L366.4 196.05 L366.9 196.17 L367.4 195.85 L367.9 195.76 L368.4 195.91 L368.9 196.15 L369.4 195.99 L369.9 195.9 L370.4 196.17 L370.9 196.14 L371.4 195.87 L371.9 196.03 L372.4 195.89 L372.9 195.92 L373.4 195.97 L373.9 196.01 L374.4 196.04 L374.9 196.17 L375.4 196.34 L375.9 196.38 L376.4 196.23 L376.9 196 L377.4 196.1 L377.9 195.85 L378.4 196.09 L378.9 196.13 L379.4 196.05 L379.9 196.15 L380.4 196.22 L380.9 196.05 L381.4 195.99 L381.9 196.06 L382.4 196.26 L382.9 196.18 L383.4 196.25 L383.9 196.33 L384.4 196.19 L384.9 196.26 L385.4 196.36 L385.9 196.11 L386.4 196.04 L386.9 196.11 L387.4 196.28 L387.9 195.8 L388.4 196.09 L388.9 195.82 L389.4 195.98 L389.9 195.91 L390.4 196.45 L390.9 196.12 L391.4 196.2 L391.9 196.25 L392.4 196.08 L392.9 196.09 L393.4 196.14 L393.9 196.47 L394.4 196.19 L394.9 196.33 L395.4 196.03 L395.9 196.12 L396.4 195.91 L396.9 195.75 L397.4 196.22 L397.9 195.81 L398.4 196.07 L398.9 195.95 L399.4 195.97 L399.9 196 L400.4 196.18 L400.9 195.89 L401.4 196.04 L401.9 196 L402.4 195.9 L402.9 196.02 L403.4 195.93 L403.9 196.06 L404.4 195.96 L404.9 195.95 L405.4 195.9 L405.9 195.89 L406.4 195.58 L406.9 195.72 L407.4 195.45 L407.9 195.38 L408.4 195.31 L408.9 195.04 L409.4 194.66 L409.9 194.76 L410.4 194.94 L410.9 194.9 L411.4 194.71 L411.9 194.86 L412.4 194.44 L412.9 194.62 L413.4 194.86 L413.9 194.7 L414.4 194.72 L414.9 194.77 L415.4 194.59 L415.9 194.67 L416.4 194.83 L416.9 194.74 L417.4 194.57 L417.9 194.68 L418.4 194.77 L418.9 194.63 L419.4 194.64 L419.9 194.32 L420.4 194.75 L420.9 194.35 L421.4 194.28 L421.9 194.57 L422.4 194.88 L422.9 194.71 L423.4 194.64 L423.9 194.91 L424.4 194.77 L424.9 195.09 L425.4 194.78 L425.9 194.96 L426.4 194.99 L426.9 194.85 L427.4 194.87 L427.9 194.98 L428.4 194.91 L428.9 194.71 L429.4 194.68 L429.9 194.93 L430.4 194.88 L430.9 194.69 L431.4 194.69 L431.9 194.69 L432.4 194.84 L432.9 194.73 L433.4 194.95 L433.9 194.89 L434.4 194.94 L434.9 194.79 L435.4 195.11 L435.9 195.03 L436.4 195.18 L436.9 195.27 L437.4 195.15 L437.9 195.12 L438.4 195.26 L438.9 195.35 L439.4 194.95 L439.9 195 L440.4 195.31 L440.9 195.41 L441.4 195.11 L441.9 195.18 L442.4 195.32 L442.9 195.72 L443.4 195.25 L443.9 195.07 L444.4 195.04 L444.9 195.05 L445.4 195.24 L445.9 195.15 L446.4 195.53 L446.9 195.45 L447.4 195.24 L447.9 195.32 L448.4 195.27 L448.9 195.28 L449.4 194.89 L449.9 195.04 L450.4 195.04 L450.9 195.21 L451.4 195.35 L451.9 195.33 L452.4 195.49 L452.9 195.82 L453.4 195.89 L453.9 195.53 L454.4 195.71 L454.9 195.67 L455.4 195.55 L455.9 195.73 L456.4 195.55 L456.9 195.83 L457.4 195.69 L457.9 195.62 L458.4 195.35 L458.9 195.72 L459.4 195.74 L459.9 195.63 L460.4 195.79 L460.9 195.82 L461.4 195.62 L461.9 195.86 L462.4 195.86 L462.9 195.88 L463.4 195.83 L463.9 195.69 L464.4 195.7 L464.9 195.68 L465.4 195.83 L465.9 195.78 L466.4 196.02 L466.9 195.83 L467.4 195.89 L467.9 195.74 L468.4 195.78 L468.9 195.76 L469.4 195.81 L469.9 195.78 L470.4 195.77 L470.9 195.54 L471.4 195.49 L471.9 195.56 L472.4 195.64 L472.9 195.86 L473.4 196.16 L473.9 196.04" fill="none" stroke="#4a4eb2" stroke-width="1.3" stroke-linejoin="round" stroke-linecap="round"/>
<path d="M521.4 134.85 L521.8 134.97 L522.2 135.06 L522.6 134.92 L523 134.51 L523.4 134.11 L523.8 134.94 L524.2 134.76 L524.6 135.14 L525 135.39 L525.4 136.19 L525.8 134.63 L526.2 135.62 L526.6 135.03 L527 135.35 L527.4 134.85 L527.8 135.56 L528.2 135.46 L528.6 135.46 L529 135.06 L529.4 134.55 L529.8 134.97 L530.2 134.51 L530.6 134.61 L531 135.23 L531.4 135.64 L531.8 136.22 L532.2 136.2 L532.6 136.97 L533 136.55 L533.4 135.55 L533.8 135.52 L534.2 134.92 L534.6 133.99 L535 134.3 L535.4 133.99 L535.8 133.76 L536.2 134.98 L536.6 134.98 L537 135.25 L537.4 135.36 L537.8 135.56 L538.2 135.77 L538.6 135.65 L539 135.24 L539.4 135.37 L539.8 135.96 L540.2 135.53 L540.6 135.58 L541 135.94 L541.4 135.25 L541.8 135.46 L542.2 134.95 L542.6 135.17 L543 134.81 L543.4 135.5 L543.8 134.69 L544.2 135.64 L544.6 135.27 L545 135.88 L545.4 136.02 L545.8 136.99 L546.2 136.38 L546.6 137.19 L547 136.87 L547.4 136.4 L547.8 136.22 L548.2 136.1 L548.6 135.68 L549 135.71 L549.4 136.15 L549.8 135.92 L550.2 135.95 L550.6 135.89 L551 135.1 L551.4 135.55 L551.8 135.75 L552.2 135.08 L552.6 135.7 L553 135.56 L553.4 135.59 L553.8 135.81 L554.2 136.64 L554.6 136.22 L555 136.43 L555.4 136 L555.8 135.51 L556.2 135.11 L556.6 135.07 L557 135.36 L557.4 135.25 L557.8 134.96 L558.2 134.83 L558.6 134.14 L559 133.82 L559.4 133.84 L559.8 134.44 L560.2 134.47 L560.6 133.33 L561 132.93 L561.4 132.28 L561.8 131.15 L562.2 130.77 L562.6 131.71 L563 131.39 L563.4 131.84 L563.8 132.36 L564.2 132.05 L564.6 131.86 L565 131.13 L565.4 130.51 L565.8 130.13 L566.2 129.72 L566.6 128.58 L567 129.1 L567.4 129.02 L567.8 128.37 L568.2 128.97 L568.6 129.08 L569 128.62 L569.4 128.65 L569.8 128.45 L570.2 129.91 L570.6 129.62 L571 131.09 L571.4 130.45 L571.8 131.63 L572.2 131.62 L572.6 132.65 L573 132.57 L573.4 133.06 L573.8 132.98 L574.2 133.59 L574.6 133.13 L575 133.07 L575.4 132.61 L575.8 132.16 L576.2 131.85 L576.6 132.46 L577 132.34 L577.4 132.05 L577.8 132.23 L578.2 131.98 L578.6 132.02 L579 131.93 L579.4 132.03 L579.8 131.36 L580.2 131.29 L580.6 130.63 L581 130.16 L581.4 130.02 L581.8 129.32 L582.2 128.62 L582.6 128.96 L583 129.02 L583.4 129.27 L583.8 128.81 L584.2 129.11 L584.6 128.92 L585 128.98 L585.4 129.11 L585.8 129.4 L586.2 128.93 L586.6 128.09 L587 128.65 L587.4 128.07 L587.8 127.77 L588.2 127.85 L588.6 128.18 L589 128.41 L589.4 128.7 L589.8 128.68 L590.2 128.96 L590.6 128.58 L591 128.73 L591.4 128.57 L591.8 128.86 L592.2 129.75 L592.6 129.07 L593 128.75 L593.4 129.29 L593.8 129.79 L594.2 129.81 L594.6 129.95 L595 130.1 L595.4 130.64 L595.8 130.57 L596.2 131.24 L596.6 131.57 L597 131.75 L597.4 130.39 L597.8 130.49 L598.2 130.78 L598.6 130.42 L599 130.23 L599.4 130.49 L599.8 130.35 L600.2 130.03 L600.6 130.08 L601 130.09 L601.4 130.65 L601.8 130.58 L602.2 130.71 L602.6 131.64 L603 131.51 L603.4 131.39 L603.8 131.48 L604.2 131.8 L604.6 130.98 L605 131.8 L605.4 131.69 L605.8 131.98 L606.2 133.76 L606.6 134.13 L607 134.36 L607.4 133.94 L607.8 134.95 L608.2 134.05 L608.6 134.22 L609 134.17 L609.4 134.64 L609.8 134.81 L610.2 134.58 L610.6 133.91 L611 133.64 L611.4 134.36 L611.8 134.23 L612.2 133.65 L612.6 134.51 L613 134.39 L613.4 134.64 L613.8 135.44 L614.2 135.9 L614.6 135.63 L615 135.4 L615.4 135.47 L615.8 135.85 L616.2 135.28 L616.6 135.71 L617 136.26 L617.4 136.1 L617.8 135.79 L618.2 135.59 L618.6 136.14 L619 135.57 L619.4 135.27 L619.8 135.95 L620.2 136.18 L620.6 135.43 L621 135.87 L621.4 135.82 L621.8 135.55 L622.2 135.45 L622.6 135.6 L623 134.84 L623.4 134.86 L623.8 134.78 L624.2 134.23 L624.6 134.58 L625 135.5 L625.4 136.21 L625.8 136.49 L626.2 136.95 L626.6 136.85 L627 136.78 L627.4 135.43 L627.8 135.53 L628.2 135.84 L628.6 135.36 L629 134.39 L629.4 135.24 L629.8 134.78 L630.2 134.54 L630.6 135.22 L631 135.18 L631.4 134.16 L631.8 134.62 L632.2 135.17 L632.6 134.96 L633 135.52 L633.4 135.58 L633.8 136.1" fill="none" stroke="#7a4522" stroke-width="1.5" stroke-linejoin="round" stroke-linecap="round"/>
<path d="M521.4 150.95 L521.8 150.63 L522.2 150.69 L522.6 151.55 L523 151.38 L523.4 150.69 L523.8 151.17 L524.2 151.21 L524.6 151.21 L525 151.5 L525.4 151.1 L525.8 150.89 L526.2 150.79 L526.6 151.02 L527 150.97 L527.4 150.72 L527.8 151.07 L528.2 150.78 L528.6 151.37 L529 151.31 L529.4 151.21 L529.8 150.85 L530.2 150.99 L530.6 150.99 L531 150.68 L531.4 150.11 L531.8 150.2 L532.2 150.31 L532.6 150.36 L533 150.41 L533.4 150.02 L533.8 150.6 L534.2 150.84 L534.6 150.07 L535 150.29 L535.4 150.65 L535.8 150.25 L536.2 150.73 L536.6 151.08 L537 151.03 L537.4 151.17 L537.8 150.43 L538.2 150.42 L538.6 150.08 L539 150.62 L539.4 150.8 L539.8 150.64 L540.2 150.93 L540.6 150.41 L541 151.18 L541.4 151.5 L541.8 151.58 L542.2 151.76 L542.6 151.57 L543 150.68 L543.4 150.79 L543.8 150.8 L544.2 150.53 L544.6 151.17 L545 152.32 L545.4 151.63 L545.8 150.68 L546.2 151.03 L546.6 151.07 L547 150.6 L547.4 151.06 L547.8 150.9 L548.2 151.51 L548.6 151.67 L549 151.04 L549.4 150.68 L549.8 150.31 L550.2 150.4 L550.6 150.53 L551 150.69 L551.4 151.18 L551.8 150.81 L552.2 150.76 L552.6 150.96 L553 150.74 L553.4 150.58 L553.8 151.23 L554.2 151 L554.6 150.66 L555 151.2 L555.4 150.48 L555.8 150.32 L556.2 149.86 L556.6 150.6 L557 150.59 L557.4 150.54 L557.8 150.28 L558.2 150.78 L558.6 149.98 L559 150.15 L559.4 150.02 L559.8 150.23 L560.2 150.76 L560.6 150.86 L561 150.72 L561.4 150.75 L561.8 150.45 L562.2 150.65 L562.6 149.76 L563 149.43 L563.4 148.67 L563.8 148.8 L564.2 148.24 L564.6 147.74 L565 147.06 L565.4 146.22 L565.8 145.35 L566.2 144.97 L566.6 144.88 L567 144 L567.4 143.23 L567.8 143.49 L568.2 142.68 L568.6 142.45 L569 142.52 L569.4 143.02 L569.8 142.64 L570.2 143 L570.6 142.58 L571 142.41 L571.4 141.58 L571.8 141.79 L572.2 141.63 L572.6 141.9 L573 141.75 L573.4 142.47 L573.8 142.56 L574.2 143.01 L574.6 142.82 L575 142.95 L575.4 141.61 L575.8 142.04 L576.2 141.95 L576.6 142.11 L577 141.87 L577.4 142.32 L577.8 142.39 L578.2 141.48 L578.6 141.2 L579 141.98 L579.4 141.24 L579.8 141.53 L580.2 141.87 L580.6 142.52 L581 141.51 L581.4 142.16 L581.8 141.72 L582.2 141.45 L582.6 141.82 L583 142.52 L583.4 142.72 L583.8 142.53 L584.2 142.83 L584.6 142.76 L585 142.65 L585.4 141.71 L585.8 141.58 L586.2 142.1 L586.6 142.59 L587 142.85 L587.4 143.32 L587.8 143.19 L588.2 142.48 L588.6 142.53 L589 143.42 L589.4 143.93 L589.8 144.11 L590.2 144 L590.6 143.17 L591 143.08 L591.4 143.46 L591.8 143.5 L592.2 143.19 L592.6 143.91 L593 143.88 L593.4 143.84 L593.8 143.98 L594.2 143.45 L594.6 144.03 L595 144.06 L595.4 144.35 L595.8 144.57 L596.2 145.3 L596.6 146.11 L597 145.86 L597.4 144.79 L597.8 144.89 L598.2 144.6 L598.6 144.86 L599 145.13 L599.4 144.72 L599.8 145.05 L600.2 145.06 L600.6 144.9 L601 145.41 L601.4 145.34 L601.8 146.03 L602.2 147.01 L602.6 147.01 L603 147.17 L603.4 147.38 L603.8 147.1 L604.2 147.39 L604.6 147.11 L605 147.71 L605.4 147.5 L605.8 147.27 L606.2 146.94 L606.6 147.1 L607 147.39 L607.4 147.52 L607.8 147.79 L608.2 147.53 L608.6 147.66 L609 148.37 L609.4 148.11 L609.8 148.71 L610.2 148.38 L610.6 148.81 L611 148.45 L611.4 149.33 L611.8 149.11 L612.2 149.65 L612.6 150 L613 150.68 L613.4 150.66 L613.8 150.21 L614.2 150.7 L614.6 150.33 L615 149.55 L615.4 149.88 L615.8 149.95 L616.2 149.69 L616.6 150.37 L617 150.77 L617.4 150.63 L617.8 151.03 L618.2 150.87 L618.6 151.05 L619 150.71 L619.4 150.6 L619.8 150.47 L620.2 150.6 L620.6 149.74 L621 150.57 L621.4 151.2 L621.8 151.2 L622.2 151.31 L622.6 151.44 L623 151.44 L623.4 151.04 L623.8 151.06 L624.2 150.53 L624.6 150.61 L625 151.31 L625.4 150.74 L625.8 150.86 L626.2 151.29 L626.6 151.01 L627 151.13 L627.4 150.96 L627.8 150.44 L628.2 150.76 L628.6 151.07 L629 150.69 L629.4 150.62 L629.8 151.29 L630.2 151.57 L630.6 151.89 L631 151.63 L631.4 151.34 L631.8 151.51 L632.2 150.89 L632.6 150.33 L633 150.08 L633.4 150.29 L633.8 149.91" fill="none" stroke="#4aa0e2" stroke-width="1.4" stroke-linejoin="round" stroke-linecap="round"/>
<path d="M521.4 162.76 L521.8 161.99 L522.2 162.47 L522.6 162.4 L523 163.42 L523.4 162.74 L523.8 162.26 L524.2 162.56 L524.6 163.03 L525 162.8 L525.4 163.06 L525.8 162.59 L526.2 162.98 L526.6 163.01 L527 163.2 L527.4 163.08 L527.8 163.51 L528.2 163.25 L528.6 162.68 L529 162.57 L529.4 162.14 L529.8 161.84 L530.2 162.95 L530.6 163.02 L531 163.34 L531.4 163.44 L531.8 163.51 L532.2 163.74 L532.6 163.16 L533 163.86 L533.4 163.82 L533.8 163.24 L534.2 163.36 L534.6 163.06 L535 162.95 L535.4 163.14 L535.8 162.97 L536.2 163.21 L536.6 164.29 L537 164.35 L537.4 164.09 L537.8 164.44 L538.2 163.49 L538.6 163.05 L539 162.73 L539.4 163.42 L539.8 164.15 L540.2 163.81 L540.6 163.53 L541 163.77 L541.4 163.97 L541.8 163.84 L542.2 163.75 L542.6 163.34 L543 164.12 L543.4 163.87 L543.8 163.6 L544.2 163.18 L544.6 163.54 L545 163.35 L545.4 163.68 L545.8 163.84 L546.2 164.33 L546.6 163.74 L547 164.17 L547.4 164.26 L547.8 164.4 L548.2 163.52 L548.6 164.31 L549 164.34 L549.4 163.8 L549.8 163.78 L550.2 163.89 L550.6 163.65 L551 163.5 L551.4 164.41 L551.8 163.73 L552.2 163.79 L552.6 163.37 L553 164.37 L553.4 164.07 L553.8 164.44 L554.2 164.41 L554.6 164.62 L555 164.38 L555.4 165.02 L555.8 164.37 L556.2 164.16 L556.6 163.83 L557 163.29 L557.4 164.68 L557.8 164.16 L558.2 163.98 L558.6 164.14 L559 165.09 L559.4 164.66 L559.8 164.4 L560.2 164.8 L560.6 165.27 L561 164.66 L561.4 164.53 L561.8 164.44 L562.2 163.82 L562.6 163.81 L563 162.89 L563.4 162.86 L563.8 163.02 L564.2 162.96 L564.6 163.11 L565 162.77 L565.4 162.13 L565.8 162.52 L566.2 162.39 L566.6 161.68 L567 160.71 L567.4 161.31 L567.8 160.71 L568.2 160.09 L568.6 160.52 L569 160.81 L569.4 159.79 L569.8 159.99 L570.2 159 L570.6 159.34 L571 159.9 L571.4 159.46 L571.8 159.51 L572.2 159.74 L572.6 159.41 L573 159.91 L573.4 160.46 L573.8 160.49 L574.2 160.84 L574.6 160.38 L575 161.18 L575.4 160.14 L575.8 160.62 L576.2 160.41 L576.6 160.73 L577 160.13 L577.4 160.39 L577.8 160.38 L578.2 160.54 L578.6 159.45 L579 159.42 L579.4 159.81 L579.8 159.91 L580.2 160.15 L580.6 160.11 L581 160.67 L581.4 159.47 L581.8 160.04 L582.2 159.59 L582.6 159.44 L583 160.36 L583.4 160.09 L583.8 159.98 L584.2 159.21 L584.6 159.57 L585 159.21 L585.4 159.89 L585.8 160.53 L586.2 161.49 L586.6 161.55 L587 162.36 L587.4 161.52 L587.8 161.31 L588.2 160.66 L588.6 161.16 L589 160.63 L589.4 161.05 L589.8 160.47 L590.2 160.51 L590.6 160.24 L591 161.36 L591.4 161.25 L591.8 161.6 L592.2 161.57 L592.6 162.04 L593 161.28 L593.4 161.42 L593.8 161.44 L594.2 160.75 L594.6 160.99 L595 160.49 L595.4 161.3 L595.8 162.29 L596.2 161.69 L596.6 161.34 L597 161.52 L597.4 161.66 L597.8 161.62 L598.2 162.17 L598.6 161.41 L599 161.05 L599.4 162.14 L599.8 161.95 L600.2 162.09 L600.6 162.53 L601 161.98 L601.4 161.63 L601.8 162.53 L602.2 162.47 L602.6 162.54 L603 162.57 L603.4 162.92 L603.8 162.23 L604.2 162.53 L604.6 162.38 L605 162.96 L605.4 162.53 L605.8 162.18 L606.2 162.12 L606.6 161.75 L607 162.19 L607.4 162.44 L607.8 163.28 L608.2 163.32 L608.6 162.92 L609 163.04 L609.4 162.79 L609.8 162.98 L610.2 164.45 L610.6 164.25 L611 164.24 L611.4 164.36 L611.8 164.96 L612.2 163.57 L612.6 163.42 L613 163.39 L613.4 163.07 L613.8 162.93 L614.2 162.82 L614.6 163.11 L615 164.16 L615.4 164.9 L615.8 164.76 L616.2 165.74 L616.6 166.35 L617 165.45 L617.4 165.16 L617.8 165.52 L618.2 164.53 L618.6 164.11 L619 164.87 L619.4 165.12 L619.8 164.47 L620.2 164.46 L620.6 164.22 L621 163.89 L621.4 163.94 L621.8 163.53 L622.2 163.09 L622.6 162.46 L623 162.27 L623.4 162.05 L623.8 162.1 L624.2 161.95 L624.6 162.05 L625 162.34 L625.4 161.97 L625.8 162.74 L626.2 163.23 L626.6 163.72 L627 163.49 L627.4 163.01 L627.8 163.2 L628.2 162.56 L628.6 161.99 L629 162.7 L629.4 163.28 L629.8 163.64 L630.2 163.32 L630.6 164.13 L631 163.79 L631.4 163.67 L631.8 162.68 L632.2 162.91 L632.6 163.62 L633 164.08 L633.4 163.67 L633.8 164.37" fill="none" stroke="#8a7e2e" stroke-width="1.4" stroke-linejoin="round" stroke-linecap="round"/>
<path d="M521.4 176.9 L521.8 177.16 L522.2 176.56 L522.6 176.55 L523 176.45 L523.4 176.51 L523.8 175.59 L524.2 175.88 L524.6 175.8 L525 175.64 L525.4 176.06 L525.8 176.59 L526.2 177.09 L526.6 176.56 L527 176.33 L527.4 176.66 L527.8 176.1 L528.2 175.73 L528.6 175.38 L529 175.29 L529.4 175.48 L529.8 176.13 L530.2 176.6 L530.6 177.45 L531 176.86 L531.4 177.47 L531.8 177.23 L532.2 176.99 L532.6 176.68 L533 176.83 L533.4 176.07 L533.8 175.17 L534.2 175.33 L534.6 175.3 L535 175.9 L535.4 176.29 L535.8 176.66 L536.2 176.28 L536.6 176.26 L537 176.02 L537.4 176.75 L537.8 176.14 L538.2 176.89 L538.6 176.38 L539 176.78 L539.4 176.44 L539.8 175.83 L540.2 176.29 L540.6 175.86 L541 175.58 L541.4 175.9 L541.8 175.9 L542.2 175.5 L542.6 176.08 L543 175.47 L543.4 175.54 L543.8 175.69 L544.2 175.36 L544.6 175.14 L545 175.8 L545.4 175.65 L545.8 175.29 L546.2 176.35 L546.6 176.34 L547 176.01 L547.4 176.41 L547.8 176.87 L548.2 176.39 L548.6 176.13 L549 175.92 L549.4 174.99 L549.8 175 L550.2 175.47 L550.6 174.9 L551 176.4 L551.4 176.25 L551.8 176.14 L552.2 177.04 L552.6 176.63 L553 176.36 L553.4 175.9 L553.8 176.24 L554.2 175.94 L554.6 175.7 L555 175.81 L555.4 175.49 L555.8 175.64 L556.2 175.78 L556.6 175.86 L557 176.57 L557.4 176.49 L557.8 176.44 L558.2 176.73 L558.6 176.53 L559 177.02 L559.4 176.74 L559.8 177.18 L560.2 177.03 L560.6 177.15 L561 176.84 L561.4 177.22 L561.8 176.47 L562.2 175.96 L562.6 176.04 L563 175.66 L563.4 175.13 L563.8 175.58 L564.2 175.82 L564.6 175.13 L565 175.11 L565.4 175.68 L565.8 175.49 L566.2 175.52 L566.6 175.65 L567 175.57 L567.4 175.95 L567.8 176.06 L568.2 176.19 L568.6 175.47 L569 175.59 L569.4 175.87 L569.8 175.3 L570.2 175.27 L570.6 175.82 L571 175 L571.4 176.03 L571.8 175.37 L572.2 175.68 L572.6 175.45 L573 175.49 L573.4 175.16 L573.8 175.45 L574.2 174.96 L574.6 174.84 L575 174.46 L575.4 175.25 L575.8 174.67 L576.2 174.53 L576.6 174.59 L577 174.37 L577.4 174.31 L577.8 174.29 L578.2 174.09 L578.6 173.98 L579 174.2 L579.4 174.45 L579.8 173.53 L580.2 173.57 L580.6 174.27 L581 174.45 L581.4 174.34 L581.8 174.27 L582.2 175.03 L582.6 175.78 L583 175.23 L583.4 175.29 L583.8 174.74 L584.2 174.69 L584.6 174.13 L585 175.18 L585.4 174.26 L585.8 174.45 L586.2 174.32 L586.6 173.69 L587 174.26 L587.4 174.79 L587.8 174.96 L588.2 174.27 L588.6 174.65 L589 173.71 L589.4 173.6 L589.8 173.51 L590.2 174.24 L590.6 174.84 L591 174.27 L591.4 175.11 L591.8 175.55 L592.2 175.05 L592.6 174.8 L593 175.33 L593.4 175.13 L593.8 175.66 L594.2 175.15 L594.6 175.02 L595 174.4 L595.4 174.97 L595.8 174.38 L596.2 174.9 L596.6 174.92 L597 175.17 L597.4 174.87 L597.8 174.79 L598.2 174.84 L598.6 174.45 L599 174.74 L599.4 174.52 L599.8 174.73 L600.2 174.6 L600.6 173.85 L601 174.61 L601.4 174.78 L601.8 174.45 L602.2 174.11 L602.6 174.68 L603 175.07 L603.4 175.08 L603.8 174.61 L604.2 175.49 L604.6 175.33 L605 174.47 L605.4 175.26 L605.8 175.45 L606.2 175.64 L606.6 175.6 L607 175.56 L607.4 175.71 L607.8 176.29 L608.2 175.48 L608.6 174.65 L609 174.12 L609.4 174.02 L609.8 173.79 L610.2 174.2 L610.6 174.42 L611 174.44 L611.4 174.73 L611.8 174.29 L612.2 174.64 L612.6 175.23 L613 174.85 L613.4 175.23 L613.8 175.29 L614.2 174.71 L614.6 175.11 L615 175.11 L615.4 174.75 L615.8 174.93 L616.2 174.92 L616.6 174.65 L617 174.58 L617.4 175.1 L617.8 174.98 L618.2 175.17 L618.6 174.9 L619 175.17 L619.4 175.75 L619.8 175.7 L620.2 175.22 L620.6 175.64 L621 175.31 L621.4 175.33 L621.8 175.13 L622.2 175.41 L622.6 174.96 L623 174.93 L623.4 174.85 L623.8 175.44 L624.2 175.65 L624.6 175.41 L625 176.52 L625.4 175.8 L625.8 175.06 L626.2 175.75 L626.6 175.6 L627 175.42 L627.4 176.23 L627.8 176.07 L628.2 175.27 L628.6 174.9 L629 175.53 L629.4 176.07 L629.8 175.49 L630.2 175.88 L630.6 174.89 L631 174.44 L631.4 174.94 L631.8 175.59 L632.2 175.16 L632.6 176.11 L633 176.86 L633.4 176.41 L633.8 176.69" fill="none" stroke="#c2306e" stroke-width="1.3" stroke-linejoin="round" stroke-linecap="round"/>
<path d="M521.4 186.21 L521.8 185.64 L522.2 185.7 L522.6 185.73 L523 186.15 L523.4 186.07 L523.8 186.21 L524.2 186.45 L524.6 185.92 L525 185.87 L525.4 185.81 L525.8 185.88 L526.2 185.91 L526.6 185.8 L527 185.14 L527.4 185.74 L527.8 185.41 L528.2 186.01 L528.6 186.32 L529 186.51 L529.4 186.46 L529.8 186.77 L530.2 186.63 L530.6 186.86 L531 186.99 L531.4 186.27 L531.8 185.95 L532.2 186.31 L532.6 186.82 L533 185.92 L533.4 185.86 L533.8 185.07 L534.2 185.36 L534.6 185.24 L535 185.37 L535.4 185.75 L535.8 185.78 L536.2 185.38 L536.6 185.96 L537 185.05 L537.4 185.19 L537.8 185.13 L538.2 184.39 L538.6 185.48 L539 185.79 L539.4 186.27 L539.8 186.3 L540.2 186.09 L540.6 185.63 L541 185.57 L541.4 185.34 L541.8 185.69 L542.2 185.57 L542.6 185.59 L543 185.32 L543.4 184.87 L543.8 185.82 L544.2 186 L544.6 186.01 L545 186.06 L545.4 185.94 L545.8 185.06 L546.2 185.29 L546.6 185.03 L547 184.35 L547.4 184.26 L547.8 184.58 L548.2 185.26 L548.6 185.38 L549 185.96 L549.4 185.34 L549.8 185.54 L550.2 185.39 L550.6 185.39 L551 186.07 L551.4 186.03 L551.8 186.02 L552.2 186.37 L552.6 186.18 L553 186.55 L553.4 186.01 L553.8 185.62 L554.2 185.44 L554.6 185.43 L555 185.62 L555.4 185.55 L555.8 185.82 L556.2 185.02 L556.6 185.66 L557 185.14 L557.4 185.07 L557.8 184.95 L558.2 184.59 L558.6 184.61 L559 185.25 L559.4 185 L559.8 185.11 L560.2 185.55 L560.6 185.32 L561 185.01 L561.4 184.76 L561.8 185.23 L562.2 185.8 L562.6 186.32 L563 186.95 L563.4 185.88 L563.8 186.37 L564.2 186.23 L564.6 185.33 L565 185.59 L565.4 185.49 L565.8 185.6 L566.2 185.82 L566.6 185.97 L567 185.41 L567.4 185.52 L567.8 185.04 L568.2 185.54 L568.6 185.5 L569 185.83 L569.4 186.17 L569.8 186.55 L570.2 185.6 L570.6 185.76 L571 185.46 L571.4 185.31 L571.8 185.18 L572.2 184.99 L572.6 185.22 L573 184.8 L573.4 185.48 L573.8 185.68 L574.2 185.89 L574.6 185.66 L575 185.45 L575.4 185.51 L575.8 185.28 L576.2 184.47 L576.6 184.79 L577 185.09 L577.4 184.79 L577.8 185.43 L578.2 184.58 L578.6 184.77 L579 184.88 L579.4 184.53 L579.8 184.16 L580.2 184.58 L580.6 184.92 L581 184.96 L581.4 184.43 L581.8 184.46 L582.2 184.6 L582.6 184.62 L583 185.16 L583.4 185.49 L583.8 184.48 L584.2 184.61 L584.6 184.48 L585 184.13 L585.4 183.93 L585.8 185.38 L586.2 184.78 L586.6 184.56 L587 184.13 L587.4 183.76 L587.8 184.07 L588.2 184.75 L588.6 184.57 L589 184.74 L589.4 185.92 L589.8 185.74 L590.2 185.39 L590.6 185.72 L591 185.44 L591.4 185.55 L591.8 185.28 L592.2 186.45 L592.6 186.58 L593 186.36 L593.4 186.14 L593.8 185.89 L594.2 186.14 L594.6 185.47 L595 185.53 L595.4 185.64 L595.8 185.79 L596.2 186.07 L596.6 185.35 L597 185.09 L597.4 185.19 L597.8 184.24 L598.2 184.68 L598.6 184.45 L599 185.29 L599.4 185.15 L599.8 186 L600.2 185.91 L600.6 185.55 L601 185.75 L601.4 186.34 L601.8 186.26 L602.2 186.2 L602.6 186.45 L603 186.92 L603.4 186.19 L603.8 186.26 L604.2 185.66 L604.6 185.62 L605 185.13 L605.4 185.52 L605.8 185.7 L606.2 186.04 L606.6 186.75 L607 186.89 L607.4 186.21 L607.8 186.81 L608.2 185.98 L608.6 186.26 L609 186.91 L609.4 185.87 L609.8 186.32 L610.2 186.39 L610.6 185.93 L611 185.21 L611.4 186.04 L611.8 186.59 L612.2 186.61 L612.6 187.19 L613 187.06 L613.4 186.85 L613.8 186.4 L614.2 186.21 L614.6 186.59 L615 187.25 L615.4 186.87 L615.8 186.81 L616.2 187.03 L616.6 187.63 L617 186.81 L617.4 186.73 L617.8 186.79 L618.2 186 L618.6 185.73 L619 186.71 L619.4 186.66 L619.8 186.74 L620.2 186.89 L620.6 187.54 L621 187.14 L621.4 187.09 L621.8 187.9 L622.2 187.58 L622.6 187.64 L623 187.32 L623.4 188.04 L623.8 188.35 L624.2 188.2 L624.6 187.7 L625 188.07 L625.4 187.32 L625.8 187.59 L626.2 187.43 L626.6 188.07 L627 187.98 L627.4 188.06 L627.8 187.54 L628.2 188.18 L628.6 187.82 L629 187.99 L629.4 187.99 L629.8 188.81 L630.2 188.75 L630.6 188.61 L631 188.01 L631.4 187.8 L631.8 187.12 L632.2 187.47 L632.6 187.8 L633 187.78 L633.4 187.98 L633.8 188.03" fill="none" stroke="#88a844" stroke-width="1.3" stroke-linejoin="round" stroke-linecap="round"/>
<path d="M521.4 197.28 L521.8 197.23 L522.2 197.44 L522.6 198.14 L523 197.81 L523.4 198.28 L523.8 197.7 L524.2 197.55 L524.6 197.3 L525 196.55 L525.4 196.44 L525.8 197.13 L526.2 196.69 L526.6 196.41 L527 197.69 L527.4 197.45 L527.8 197.32 L528.2 197.69 L528.6 197.27 L529 197.73 L529.4 197.11 L529.8 197.46 L530.2 197.04 L530.6 197.43 L531 196.85 L531.4 197.46 L531.8 197.71 L532.2 197.98 L532.6 198.07 L533 198.1 L533.4 197.35 L533.8 197.13 L534.2 196.64 L534.6 196.75 L535 196.03 L535.4 196.81 L535.8 196.06 L536.2 196.69 L536.6 196.02 L537 196.47 L537.4 196.36 L537.8 196.84 L538.2 196.13 L538.6 196.7 L539 196.17 L539.4 195.9 L539.8 195.67 L540.2 195.67 L540.6 195.37 L541 196.17 L541.4 196.54 L541.8 196.91 L542.2 198.09 L542.6 197.55 L543 197.58 L543.4 197.1 L543.8 197.4 L544.2 197.66 L544.6 197.73 L545 197.85 L545.4 197.46 L545.8 197.82 L546.2 197.25 L546.6 196.87 L547 196.82 L547.4 196.68 L547.8 196.59 L548.2 197.71 L548.6 197.76 L549 197.26 L549.4 196.91 L549.8 196.3 L550.2 196.34 L550.6 196.75 L551 196.4 L551.4 196.84 L551.8 196.72 L552.2 196.57 L552.6 196.56 L553 196.91 L553.4 196.43 L553.8 196.43 L554.2 196.72 L554.6 196.73 L555 197.22 L555.4 197.14 L555.8 197.8 L556.2 197.33 L556.6 197.81 L557 197.24 L557.4 197.58 L557.8 197.39 L558.2 197.79 L558.6 197.17 L559 198.22 L559.4 197.6 L559.8 197.86 L560.2 196.78 L560.6 197.88 L561 198.56 L561.4 198.26 L561.8 198.01 L562.2 198.4 L562.6 197.83 L563 197.86 L563.4 198.02 L563.8 198.05 L564.2 197.31 L564.6 197.57 L565 197.3 L565.4 197.2 L565.8 196.85 L566.2 197.61 L566.6 197.56 L567 198.25 L567.4 198.32 L567.8 197.93 L568.2 198.23 L568.6 197.74 L569 196.75 L569.4 196.79 L569.8 197.69 L570.2 197.78 L570.6 198.73 L571 198.57 L571.4 198.29 L571.8 197.6 L572.2 197.75 L572.6 197.17 L573 196.97 L573.4 198.4 L573.8 198.37 L574.2 198.86 L574.6 198.86 L575 197.88 L575.4 197.44 L575.8 197.95 L576.2 197.64 L576.6 197.59 L577 198.19 L577.4 198.11 L577.8 198.08 L578.2 198.52 L578.6 197.44 L579 197.73 L579.4 198.17 L579.8 198.17 L580.2 198.71 L580.6 199.03 L581 199.42 L581.4 198.59 L581.8 197.6 L582.2 197.92 L582.6 196.91 L583 196.61 L583.4 197.16 L583.8 197.19 L584.2 197.88 L584.6 197.7 L585 198.02 L585.4 198.06 L585.8 198.02 L586.2 198.16 L586.6 198.14 L587 198.31 L587.4 197.9 L587.8 198 L588.2 198.33 L588.6 198.72 L589 197.84 L589.4 198.15 L589.8 198.19 L590.2 197.66 L590.6 197.94 L591 198.69 L591.4 198.63 L591.8 198.26 L592.2 198.51 L592.6 197.34 L593 197.64 L593.4 196.96 L593.8 197.21 L594.2 197.07 L594.6 197.33 L595 197.19 L595.4 196.93 L595.8 197.36 L596.2 196.99 L596.6 197.52 L597 197.72 L597.4 198.38 L597.8 198.05 L598.2 198.13 L598.6 197.97 L599 198.35 L599.4 197.84 L599.8 197.8 L600.2 197.72 L600.6 197.64 L601 197.13 L601.4 196.98 L601.8 197.48 L602.2 198.09 L602.6 197.66 L603 197.74 L603.4 198.53 L603.8 197.8 L604.2 198.87 L604.6 198.55 L605 198.59 L605.4 197.83 L605.8 196.64 L606.2 196.12 L606.6 196.52 L607 196.4 L607.4 196.64 L607.8 197.18 L608.2 197.34 L608.6 197.95 L609 197.66 L609.4 198.72 L609.8 198.01 L610.2 197.96 L610.6 197.7 L611 198.41 L611.4 197.07 L611.8 197.66 L612.2 198.32 L612.6 197.58 L613 197.89 L613.4 198.64 L613.8 198.24 L614.2 198.71 L614.6 199.04 L615 198.77 L615.4 198.31 L615.8 198.19 L616.2 198.81 L616.6 198.39 L617 197.97 L617.4 196.96 L617.8 197.03 L618.2 197.41 L618.6 197.75 L619 196.79 L619.4 197.44 L619.8 197.45 L620.2 197.39 L620.6 197.23 L621 197.57 L621.4 197.85 L621.8 198.47 L622.2 197.66 L622.6 198.31 L623 198.94 L623.4 198.66 L623.8 198.78 L624.2 197.99 L624.6 198.4 L625 197.99 L625.4 197.93 L625.8 198.35 L626.2 198 L626.6 198.37 L627 197.68 L627.4 198.02 L627.8 198.4 L628.2 198.54 L628.6 198.33 L629 198.1 L629.4 197.87 L629.8 197.81 L630.2 197.97 L630.6 197.76 L631 198.05 L631.4 198.37 L631.8 198.42 L632.2 198.35 L632.6 197.92 L633 198.22 L633.4 197.83 L633.8 198.38" fill="none" stroke="#4a4eb2" stroke-width="1.3" stroke-linejoin="round" stroke-linecap="round"/>
<path d="M42.1 309.2 L46.4 309.2 L46.52 268.8 L46.85 250.8 L47.3 241.3 L47.95 237.6 L48.4 236.8 L48.9 237.6 L49.4 240.5 L49.9 246 L50.4 255 L51.5 278 L52.7 291.5 L54 296.8 L55.2 299.6 L57 303 L59.6 305.6 L62 306.9 L64 307.69 L64.6 306.93 L65.2 307.14 L65.8 307.02 L66.4 306.85 L67 306.28 L67.6 306.55 L68.2 306.83 L68.8 306.75 L69.4 306.49 L70 305.78 L70.6 304.11 L71.2 304.31 L71.8 303.66 L72.4 302.32 L73 303.47 L73.6 302.99 L74.2 302.6 L74.8 302.67 L75.4 302.6 L76 302.16 L76.6 302.47 L77.2 302.35 L77.8 301.67 L78.4 300.83 L79 300.74 L79.6 300.61 L80.2 300.13 L80.8 299.25 L81.4 299.45 L82 299.02 L82.6 298.65 L83.2 298.02 L83.8 297.92 L84.4 297.08 L85 297.63 L85.6 297.44 L86.2 297.48 L86.8 297.41 L87.4 297.31 L88 297.31 L88.6 297.16 L89.2 296.72 L89.8 296.69 L90.4 296.49 L91 296.47 L91.6 296.23 L92.2 295.73 L92.8 295.35 L93.4 294.87 L94 294.8 L94.6 295.22 L95.2 294.61 L95.8 295.38 L96.4 294.68 L97 294.57 L97.6 294.64 L98.2 294.51 L98.8 294.46 L99.4 294.69 L100 294.14 L100.6 294.68 L101.2 294.57 L101.8 294.27 L102.4 294.92 L103 294.66 L103.6 294.89 L104.2 294.26 L104.8 294.03 L105.4 294.04 L106 293.87 L106.6 293.76 L107.2 294.95 L107.8 294.24 L108.4 294.47 L109 294.22 L109.6 294.35 L110.2 294.95 L110.8 293.79 L111.4 294.06 L112 294.45 L112.6 294.09 L113.2 294.65 L113.8 294.86 L114.4 294.72 L115 294.67 L115.6 294.35 L116.2 294.76 L116.8 294.13 L117.4 294.01 L118 294.32 L118.6 294.33 L119.2 294.85 L119.8 294.08 L120.4 294.83 L121 294.16 L121.6 293.98 L122.2 293.85 L122.8 294.42 L123.4 293.94 L124 294.51 L124.6 294.46 L125.2 294.3 L125.8 293.78 L126.4 294.26 L127 294.61 L127.6 293.83 L128.2 294.7 L128.8 294.46 L129.4 294.28 L130 294.54 L130.6 294.69 L131.2 294.46 L131.8 294.21 L132.4 294.75 L133 294.25 L133.6 294.61 L134.2 294.82 L134.8 294.95 L135.4 295.04 L136 294.85 L136.6 294.55 L137.2 294.43 L137.8 294.57 L138.4 294.69 L139 295.54 L139.6 294.74 L140.2 294.23 L140.8 295.05 L141.4 293.97 L142 294.88 L142.6 294.09 L143.2 294.15 L143.8 294.36 L144.4 294.44 L145 294.07 L145.6 294.76 L146.2 294.51 L146.8 295.02 L147.4 294.2 L148 293.92 L148.6 294.8 L149.2 294.48 L149.8 294.9 L150.4 293.74 L151 294.14 L151.6 294.6 L152.2 295.25 L152.8 294.14 L153.4 293.92 L154 294.42 L154.6 295.07 L155.2 295.14 L155.8 294.11 L156.4 294.37 L157 293.95 L157.6 294.29 L158.2 294.26 L158.8 294.74 L159.4 294.99 L160 295.43 L160.6 294.47 L161.2 294.88 L161.8 294.67 L162.4 294.64 L163 295.27 L163.6 294.85 L164.2 295.14 L164.8 294.71 L165.4 294.9 L166 294.78" fill="none" stroke="#8a7e2e" stroke-width="2.1" stroke-linejoin="round" stroke-linecap="round"/>
<path d="M42.1 309.2 L46.4 309.2 L46.52 268.8 L46.85 250.8 L47.3 241.3 L47.95 237.6 L48.4 236.8 L48.9 237.6 L49.4 240.5 L49.9 246 L50.4 255 L51.5 278 L52.7 291.5 L54 296.8 L55.2 299.6 L57 303 L59.6 305.6 L62 306.9 L64 307.57 L64.6 307.34 L65.2 307.4 L65.8 307.48 L66.4 307.28 L67 307.23 L67.6 307.07 L68.2 307.6 L68.8 307.15 L69.4 307.06 L70 306.85 L70.6 307.18 L71.2 306.31 L71.8 306.77 L72.4 305.79 L73 306.47 L73.6 306.04 L74.2 305.63 L74.8 305.94 L75.4 306.14 L76 305.36 L76.6 305.53 L77.2 305.62 L77.8 305.34 L78.4 305.2 L79 305.18 L79.6 305.16 L80.2 305.2 L80.8 305.32 L81.4 304.57 L82 305.59 L82.6 304.36 L83.2 305 L83.8 304.26 L84.4 303.75 L85 304.06 L85.6 304.08 L86.2 304.58 L86.8 303.52 L87.4 304.01 L88 304.22 L88.6 304.52 L89.2 304.46 L89.8 304.67 L90.4 304.35 L91 304.37 L91.6 304.92 L92.2 305.15 L92.8 304.73 L93.4 304.71 L94 304.4 L94.6 305.48 L95.2 304.93 L95.8 305.05 L96.4 304.32 L97 305.12 L97.6 305.78 L98.2 304.91 L98.8 304.92 L99.4 305.53 L100 304.94 L100.6 305.3 L101.2 305.68 L101.8 304.6 L102.4 304.72 L103 305.25 L103.6 305.06 L104.2 305.05 L104.8 304.98 L105.4 305.09 L106 305.18 L106.6 304.91 L107.2 304.99 L107.8 305.18 L108.4 304.74 L109 305.29 L109.6 304.39 L110.2 305.39 L110.8 305.14 L111.4 304.79 L112 305.69 L112.6 304.84 L113.2 305.98 L113.8 305.04 L114.4 305.73 L115 305.32 L115.6 305.92 L116.2 305.31 L116.8 305.77 L117.4 305.33 L118 304.82 L118.6 305.63 L119.2 305.69 L119.8 305.7 L120.4 306.16 L121 305.36 L121.6 305.15 L122.2 305.77 L122.8 305.47 L123.4 305.7 L124 305.77 L124.6 305.52 L125.2 306.22 L125.8 305.83 L126.4 306.53 L127 306.03 L127.6 306.34 L128.2 305.91 L128.8 305.81 L129.4 305.89 L130 305.81 L130.6 306.3 L131.2 306.23 L131.8 305.84 L132.4 305.72 L133 305.99 L133.6 305.69 L134.2 306.05 L134.8 305.87 L135.4 306.67 L136 306.06 L136.6 306.29 L137.2 306.49 L137.8 306.58 L138.4 306.75 L139 306.9 L139.6 306.89 L140.2 306.58 L140.8 307.17 L141.4 306.9 L142 306.56 L142.6 307.36 L143.2 306.46 L143.8 307.06 L144.4 307.37 L145 307 L145.6 307.11 L146.2 307.06 L146.8 307.28 L147.4 307.16 L148 307.11 L148.6 307.38 L149.2 306.51 L149.8 307.28 L150.4 307.11 L151 307.93 L151.6 307.37 L152.2 307.06 L152.8 307.54 L153.4 307.21 L154 306.95 L154.6 307.28 L155.2 307.58 L155.8 307.83 L156.4 307.8 L157 307.54 L157.6 307.42 L158.2 307.56 L158.8 307.92 L159.4 307.48 L160 307.93 L160.6 307.27 L161.2 307.55 L161.8 307.83 L162.4 307.82 L163 307.65 L163.6 307.41 L164.2 306.97 L164.8 307.44 L165.4 307.31 L166 307.46" fill="none" stroke="#4aa0e2" stroke-width="1.9" stroke-linejoin="round" stroke-linecap="round"/>
<path d="M42.1 309.2 L46.4 309.2 L46.52 268.8 L46.85 250.8 L47.3 241.3 L47.95 237.6 L48.4 236.8 L48.9 237.6 L49.4 240.5 L49.9 246 L50.4 255 L51.5 278 L52.7 291.5 L54 296.8 L55.2 299.6 L57 303 L59.6 305.6 L62 306.9 L64 307.95 L64.6 307.11 L65.2 307.61 L65.8 307.22 L66.4 306.76 L67 307.1 L67.6 307.27 L68.2 306.58 L68.8 306.49 L69.4 306.55 L70 306.65 L70.6 305.86 L71.2 305.86 L71.8 305.53 L72.4 305.06 L73 304.96 L73.6 305.09 L74.2 304.53 L74.8 304.69 L75.4 304.16 L76 304.21 L76.6 304.32 L77.2 304.53 L77.8 303.88 L78.4 303.49 L79 304.14 L79.6 304.49 L80.2 302.62 L80.8 302.99 L81.4 303.25 L82 303.23 L82.6 302.61 L83.2 302.94 L83.8 303.11 L84.4 302.57 L85 302.87 L85.6 302.65 L86.2 302.28 L86.8 302.39 L87.4 302.39 L88 303.06 L88.6 303 L89.2 302.69 L89.8 302.06 L90.4 302.43 L91 302.46 L91.6 301.94 L92.2 302.59 L92.8 302.7 L93.4 302.14 L94 302.45 L94.6 302.44 L95.2 303.24 L95.8 302.83 L96.4 302.87 L97 302.63 L97.6 302.16 L98.2 302.92 L98.8 302.37 L99.4 301.94 L100 302.85 L100.6 302.48 L101.2 302.6 L101.8 302.79 L102.4 302.54 L103 302.76 L103.6 303.07 L104.2 302.53 L104.8 302.53 L105.4 302.67 L106 302.91 L106.6 302.56 L107.2 302.75 L107.8 302.5 L108.4 302.73 L109 302.97 L109.6 302.52 L110.2 302.77 L110.8 302.35 L111.4 302.64 L112 302.94 L112.6 303.12 L113.2 302.62 L113.8 302.97 L114.4 302.72 L115 303.18 L115.6 303.19 L116.2 303.29 L116.8 303.1 L117.4 302.72 L118 303.06 L118.6 302.83 L119.2 303.1 L119.8 303.35 L120.4 303.78 L121 303.23 L121.6 303.23 L122.2 303.61 L122.8 302.87 L123.4 304.31 L124 303.14 L124.6 304.06 L125.2 304.1 L125.8 304.14 L126.4 303.82 L127 304.15 L127.6 303.83 L128.2 304.32 L128.8 303.82 L129.4 303.81 L130 304.27 L130.6 304.03 L131.2 304.46 L131.8 303.99 L132.4 304.42 L133 304.04 L133.6 304.39 L134.2 305.22 L134.8 304.16 L135.4 304.15 L136 304.08 L136.6 304.59 L137.2 305.27 L137.8 304.61 L138.4 305.13 L139 304.8 L139.6 304.69 L140.2 305.65 L140.8 305.37 L141.4 304.41 L142 304.76 L142.6 305.28 L143.2 305.41 L143.8 305.15 L144.4 305.38 L145 305.5 L145.6 305.24 L146.2 305.74 L146.8 305.15 L147.4 305.74 L148 305.83 L148.6 305.63 L149.2 305.48 L149.8 305.63 L150.4 304.91 L151 305.79 L151.6 305.26 L152.2 305.08 L152.8 306.07 L153.4 305.52 L154 305.99 L154.6 305.91 L155.2 305.33 L155.8 305.64 L156.4 305.88 L157 306.16 L157.6 306.05 L158.2 305.61 L158.8 305.89 L159.4 306.12 L160 305.67 L160.6 305.97 L161.2 305.95 L161.8 305.42 L162.4 306.75 L163 306.47 L163.6 306.02 L164.2 306.51 L164.8 305.84 L165.4 306.72 L166 306.07" fill="none" stroke="#c2306e" stroke-width="2.1" stroke-linejoin="round" stroke-linecap="round"/>
<path d="M201.4 309.6 L206.5 309.6 L206.62 271.8 L206.95 253.8 L207.4 244.3 L207.95 240.6 L208.4 239.8 L208.9 237.6 L209.4 240.5 L209.9 246 L210.4 255 L211.5 278 L212.7 291.5 L214 296.8 L215.2 299.6 L217 303 L219.6 305.6 L222 306.9 L224 307.65 L224.6 307.26 L225.2 307.11 L225.8 306.69 L226.4 306.06 L227 305.29 L227.6 305.53 L228.2 305.38 L228.8 305.02 L229.4 305.04 L230 303.99 L230.6 304.19 L231.2 303.22 L231.8 303.37 L232.4 302.39 L233 302.32 L233.6 302.45 L234.2 302.66 L234.8 302.64 L235.4 301.8 L236 301.47 L236.6 301.71 L237.2 301.58 L237.8 301.07 L238.4 300.39 L239 300.6 L239.6 299.82 L240.2 299.56 L240.8 299.41 L241.4 298.72 L242 297.88 L242.6 298.52 L243.2 298.52 L243.8 298.31 L244.4 298.29 L245 298.15 L245.6 298.41 L246.2 298.03 L246.8 298.41 L247.4 297.79 L248 297.92 L248.6 297.31 L249.2 297.44 L249.8 297.31 L250.4 297.05 L251 297.35 L251.6 296.68 L252.2 296.89 L252.8 296.48 L253.4 296.59 L254 295.8 L254.6 295.89 L255.2 296.28 L255.8 295.63 L256.4 296.04 L257 296.08 L257.6 295.94 L258.2 295.99 L258.8 295.98 L259.4 295.67 L260 295.84 L260.6 295.47 L261.2 295.43 L261.8 294.99 L262.4 295.44 L263 294.84 L263.6 295.37 L264.2 295.39 L264.8 294.9 L265.4 295.27 L266 295.32 L266.6 295.09 L267.2 294.89 L267.8 295.16 L268.4 295.34 L269 295.51 L269.6 295.87 L270.2 294.53 L270.8 295.32 L271.4 295.35 L272 294.98 L272.6 295.31 L273.2 295.93 L273.8 295.25 L274.4 295.68 L275 295.57 L275.6 295.06 L276.2 294.43 L276.8 295.62 L277.4 295.74 L278 294.61 L278.6 295.15 L279.2 294.98 L279.8 295.29 L280.4 295.25 L281 295.62 L281.6 295.03 L282.2 295.89 L282.8 294.65 L283.4 295.31 L284 296.16 L284.6 295.21 L285.2 295.46 L285.8 295.09 L286.4 296.39 L287 295.56 L287.6 295.13 L288.2 294.61 L288.8 295.33 L289.4 295.51 L290 294.56 L290.6 295.1 L291.2 295.47 L291.8 294.46 L292.4 295.21 L293 294.74 L293.6 294.82 L294.2 295.43 L294.8 295.68 L295.4 295.69 L296 295.07 L296.6 295.47 L297.2 294.69 L297.8 294.8 L298.4 295.5 L299 295.18 L299.6 294.96 L300.2 294.68 L300.8 295.24 L301.4 296.08 L302 294.63 L302.6 294.98 L303.2 295.72 L303.8 294.69 L304.4 295.12 L305 295.36 L305.6 295.74 L306.2 295.32 L306.8 295.98 L307.4 295.34 L308 295.32 L308.6 295.51 L309.2 295.48 L309.8 294.85 L310.4 295.04 L311 295.29 L311.6 295.49 L312.2 294.96 L312.8 295.13 L313.4 295.12 L314 295.5 L314.6 295.23 L315.2 295.59 L315.8 295.51 L316.4 295.07 L317 295.29 L317.6 294.96 L318.2 295.43 L318.8 295.67 L319.4 295.06 L320 294.78 L320.6 295.57 L321.2 295.3 L321.8 295.39 L322.4 295.56 L323 295.53 L323.6 295.72 L324.2 295.24 L324.8 294.64 L325.4 295.23 L326 295.29" fill="none" stroke="#4aa0e2" stroke-width="2.1" stroke-linejoin="round" stroke-linecap="round"/>
<path d="M201.4 309.6 L206.5 309.6 L206.62 271.8 L206.95 253.8 L207.4 244.3 L207.95 240.6 L208.4 239.8 L208.9 237.6 L209.4 240.5 L209.9 246 L210.4 255 L211.5 278 L212.7 291.5 L214 296.8 L215.2 299.6 L217 303 L219.6 305.6 L222 306.9 L224 307.66 L224.6 307.9 L225.2 307.59 L225.8 307.99 L226.4 307.2 L227 307.29 L227.6 307.1 L228.2 307.93 L228.8 306.81 L229.4 306.67 L230 306.73 L230.6 306.95 L231.2 306.52 L231.8 306.3 L232.4 305.75 L233 305.48 L233.6 306.12 L234.2 306.08 L234.8 306.72 L235.4 306.18 L236 306.12 L236.6 306.23 L237.2 305.49 L237.8 305.26 L238.4 305.46 L239 305.99 L239.6 305.7 L240.2 305.06 L240.8 304.73 L241.4 305.39 L242 305.36 L242.6 304.53 L243.2 305.41 L243.8 304.55 L244.4 305.06 L245 304.73 L245.6 304.69 L246.2 304.59 L246.8 305.04 L247.4 305.02 L248 305.08 L248.6 304.7 L249.2 304.51 L249.8 305.55 L250.4 305.39 L251 304.73 L251.6 304.41 L252.2 305.32 L252.8 304.85 L253.4 304.82 L254 305.09 L254.6 304.92 L255.2 304.84 L255.8 305.49 L256.4 304.16 L257 305.03 L257.6 304.49 L258.2 304.88 L258.8 304.83 L259.4 305.02 L260 304.15 L260.6 305.26 L261.2 305.86 L261.8 304.97 L262.4 305.48 L263 305.43 L263.6 305.36 L264.2 305.12 L264.8 305.55 L265.4 305.46 L266 305.88 L266.6 305.69 L267.2 305.16 L267.8 304.38 L268.4 305.92 L269 305.58 L269.6 305.47 L270.2 305.21 L270.8 306.29 L271.4 305.9 L272 305.48 L272.6 305.33 L273.2 305.67 L273.8 305.96 L274.4 305.68 L275 305.85 L275.6 305.63 L276.2 305.68 L276.8 305.14 L277.4 305.64 L278 305.63 L278.6 305.61 L279.2 305.58 L279.8 305.79 L280.4 305.51 L281 305.67 L281.6 305.31 L282.2 306.6 L282.8 305.51 L283.4 305.43 L284 305.69 L284.6 305.76 L285.2 305.57 L285.8 305.12 L286.4 306.57 L287 306.39 L287.6 305.93 L288.2 306.29 L288.8 305.75 L289.4 305.6 L290 306.31 L290.6 306.43 L291.2 306.03 L291.8 306.3 L292.4 305.28 L293 306.33 L293.6 306.78 L294.2 306.51 L294.8 306.54 L295.4 306.72 L296 305.83 L296.6 306.14 L297.2 306.19 L297.8 306.75 L298.4 306.48 L299 306.08 L299.6 307.08 L300.2 306.74 L300.8 307.19 L301.4 307.58 L302 306.34 L302.6 306.5 L303.2 307.36 L303.8 307.51 L304.4 307.19 L305 307.21 L305.6 307.36 L306.2 307.38 L306.8 306.74 L307.4 307.48 L308 307.59 L308.6 307.14 L309.2 306.99 L309.8 307.17 L310.4 307.16 L311 307.58 L311.6 307.69 L312.2 307.46 L312.8 307.37 L313.4 306.88 L314 307.38 L314.6 307.2 L315.2 307.38 L315.8 307.72 L316.4 307.67 L317 308.86 L317.6 307.35 L318.2 307.49 L318.8 307.29 L319.4 307.62 L320 307.62 L320.6 308.08 L321.2 307.07 L321.8 308.07 L322.4 307.99 L323 307.59 L323.6 307.55 L324.2 307.86 L324.8 307.98 L325.4 307.74 L326 307.75" fill="none" stroke="#8a7e2e" stroke-width="1.9" stroke-linejoin="round" stroke-linecap="round"/>
<path d="M201.4 309.6 L206.5 309.6 L206.62 271.8 L206.95 253.8 L207.4 244.3 L207.95 240.6 L208.4 239.8 L208.9 237.6 L209.4 240.5 L209.9 246 L210.4 255 L211.5 278 L212.7 291.5 L214 296.8 L215.2 299.6 L217 303 L219.6 305.6 L222 306.9 L224 307.61 L224.6 307.17 L225.2 307.52 L225.8 307.46 L226.4 307.1 L227 306.53 L227.6 306.82 L228.2 306.75 L228.8 306.81 L229.4 306.38 L230 306.58 L230.6 306.4 L231.2 306.06 L231.8 305.62 L232.4 305.8 L233 305.29 L233.6 305.23 L234.2 304.77 L234.8 305.22 L235.4 305.58 L236 304.75 L236.6 305.26 L237.2 304.45 L237.8 304.89 L238.4 305.32 L239 304.59 L239.6 304.06 L240.2 304.46 L240.8 304.21 L241.4 304.44 L242 303.9 L242.6 303.41 L243.2 303.79 L243.8 304.12 L244.4 304.26 L245 303.99 L245.6 303.91 L246.2 304.14 L246.8 303.83 L247.4 303.74 L248 303.98 L248.6 304.28 L249.2 303.73 L249.8 304.07 L250.4 303.68 L251 303.64 L251.6 303.96 L252.2 303.44 L252.8 303.61 L253.4 303.48 L254 303.69 L254.6 303.58 L255.2 304.7 L255.8 304.11 L256.4 303.93 L257 303.44 L257.6 303.12 L258.2 304.11 L258.8 303.79 L259.4 304.41 L260 303.96 L260.6 303.7 L261.2 303.99 L261.8 303.74 L262.4 303.84 L263 304.63 L263.6 304.25 L264.2 304.72 L264.8 304.33 L265.4 304.48 L266 304.4 L266.6 304.41 L267.2 304.37 L267.8 305.12 L268.4 304.59 L269 303.93 L269.6 305.19 L270.2 305.05 L270.8 305.01 L271.4 304.6 L272 304.59 L272.6 304.49 L273.2 304.71 L273.8 304.84 L274.4 304.7 L275 304.42 L275.6 304.4 L276.2 305.32 L276.8 305.34 L277.4 304.35 L278 304.59 L278.6 304.81 L279.2 305.05 L279.8 304.83 L280.4 304.98 L281 305.05 L281.6 305.34 L282.2 304.52 L282.8 305.38 L283.4 305.18 L284 305.24 L284.6 304.56 L285.2 305.04 L285.8 305.05 L286.4 305.39 L287 305.44 L287.6 305.47 L288.2 304.81 L288.8 305.73 L289.4 305.35 L290 305.68 L290.6 305.39 L291.2 305.19 L291.8 306.38 L292.4 305.72 L293 305.8 L293.6 305.41 L294.2 305.52 L294.8 306.02 L295.4 305.82 L296 306.3 L296.6 306.16 L297.2 305.41 L297.8 305.27 L298.4 306.24 L299 306.09 L299.6 305.83 L300.2 305.84 L300.8 305.8 L301.4 306.64 L302 306 L302.6 305.6 L303.2 306.43 L303.8 306.12 L304.4 306.31 L305 306.08 L305.6 306.24 L306.2 305.62 L306.8 306.49 L307.4 306.1 L308 306.24 L308.6 306.51 L309.2 306.86 L309.8 305.7 L310.4 306.44 L311 306.7 L311.6 306.88 L312.2 306.24 L312.8 306.7 L313.4 306.75 L314 306.96 L314.6 306.44 L315.2 306.62 L315.8 306.52 L316.4 307.11 L317 307.12 L317.6 306.61 L318.2 306.73 L318.8 306.87 L319.4 306.49 L320 306.79 L320.6 307.13 L321.2 307.11 L321.8 306.62 L322.4 306.65 L323 306.83 L323.6 306.39 L324.2 306.99 L324.8 306.94 L325.4 306.43 L326 306.82" fill="none" stroke="#b8406a" stroke-width="2.1" stroke-linejoin="round" stroke-linecap="round"/>
<path d="M201.4 309.6 L206.5 309.6 L206.62 271.8 L206.95 253.8 L207.4 244.3 L207.95 240.6 L208.4 239.8 L208.9 237.6 L209.4 240.5 L209.9 246 L210.4 255 L211.5 278 L212.7 291.5 L214 296.8 L215.2 299.6 L217 303 L219.6 305.6 L222 306.9" fill="none" stroke="#8a50b0" stroke-width="1.9" stroke-linejoin="round" stroke-linecap="round"/>
<path d="M361.4 308.9 L366.7 308.9 L366.82 270.4 L367.15 252.4 L367.6 242.9 L367.85 239.2 L368.3 238.4 L368.8 238.6 L369.3 241.5 L369.8 247 L370.6 255 L371.7 278 L372.9 292 L374 300.5 L375.4 305.2 L377 307.6 L378.9 308.5 L380.9 308.86 L381.5 309.01 L382.1 308.79 L382.7 309.56 L383.3 308.76 L383.9 309.36 L384.5 309.17 L385.1 309.59 L385.7 309.07 L386.3 309.1 L386.9 309.12 L387.5 308.47 L388.1 309.93 L388.7 309.03 L389.3 308.99 L389.9 308.73 L390.5 309.05 L391.1 309.65 L391.7 308.83 L392.3 309.25 L392.9 309.46 L393.5 309.42 L394.1 308.96 L394.7 308.52 L395.3 309.24 L395.9 309.3 L396.5 308.99 L397.1 308.97 L397.7 309.71 L398.3 308.58 L398.9 308.92 L399.5 308.91 L400.1 308.56 L400.7 308.88 L401.3 308.83 L401.9 309.53 L402.5 308.5 L403.1 308.66 L403.7 309.2 L404.3 308.6 L404.9 308.41 L405.5 308.91 L406.1 308.69 L406.7 308.79 L407.3 309.05 L407.9 309.27 L408.5 308.88 L409.1 309.03 L409.7 309.36 L410.3 309.07 L410.9 309.37 L411.5 308.93 L412.1 309.29 L412.7 309.55 L413.3 308.63 L413.9 310.12 L414.5 309 L415.1 309.02 L415.7 309.06 L416.3 309.28 L416.9 308.7 L417.5 309.15 L418.1 308.92 L418.7 309.61 L419.3 308.52 L419.9 309.35 L420.5 309.01 L421.1 308.89 L421.7 309.17 L422.3 309.06 L422.9 309.14 L423.5 309.22 L424.1 309.55 L424.7 309.01 L425.3 309.72 L425.9 308.25 L426.5 309.77 L427.1 309.55 L427.7 309.68 L428.3 309.21 L428.9 309.24 L429.5 308.81 L430.1 309.61 L430.7 308.77 L431.3 308.86 L431.9 309.15 L432.5 309.22 L433.1 309.27 L433.7 308.74 L434.3 309.04 L434.9 309.32 L435.5 309.55 L436.1 309.41 L436.7 309.3 L437.3 309.06 L437.9 308.98 L438.5 308.97 L439.1 309.13 L439.7 309.34 L440.3 309 L440.9 309.87 L441.5 308.83 L442.1 309.44 L442.7 309.1 L443.3 309.11 L443.9 309.04 L444.5 309.69 L445.1 309.07 L445.7 309.35 L446.3 309.21 L446.9 309.42 L447.5 309.37 L448.1 309.74 L448.7 308.93 L449.3 308.88 L449.9 309.74 L450.5 309.61 L451.1 309.2 L451.7 309.07 L452.3 309.26 L452.9 309.62 L453.5 308.93 L454.1 309.68 L454.7 309.16 L455.3 309.05 L455.9 309.05 L456.5 308.44 L457.1 309.29 L457.7 308.72 L458.3 309 L458.9 308.86 L459.5 309.27 L460.1 309.43 L460.7 309.2 L461.3 309.25 L461.9 309.33 L462.5 309.74 L463.1 309.38 L463.7 309.73 L464.3 309.17 L464.9 309.31 L465.5 308.98 L466.1 309.39 L466.7 308.91 L467.3 309.35 L467.9 308.99 L468.5 309.06 L469.1 309.6 L469.7 309.24 L470.3 309.46 L470.9 309.1 L471.5 308.58 L472.1 309.7 L472.7 309.14 L473.3 308.96 L473.9 309.51 L474.5 308.79 L475.1 308.96 L475.7 309.59 L476.3 308.97 L476.9 309.59 L477.5 309.1 L478.1 309.12 L478.7 309.23 L479.3 309.02 L479.9 309.56 L480.5 309.57 L481.1 309.23 L481.7 309.41 L482.3 309.38 L482.9 309.78 L483.5 308.68 L484.1 309.55 L484.7 309.51 L485.3 309.08 L485.9 309.21 L486.5 309.07" fill="none" stroke="#8a7e2e" stroke-width="1.6" stroke-linejoin="round" stroke-linecap="round"/>
<path d="M361.4 308.9 L365.2 308.9 L365.32 269.9 L365.65 251.9 L366.1 242.4 L366.35 238.7 L366.8 237.9 L367.3 238.6 L367.8 241.5 L368.3 247 L369.1 255 L370.2 278 L371.4 292 L372.5 300.5 L373.9 305.2 L375.5 307.6 L377.4 308.5 L379.4 308.61 L380 307.79 L380.6 308.41 L381.2 308.64 L381.8 308.39 L382.4 308.03 L383 308.05 L383.6 307.46 L384.2 307.87 L384.8 308.58 L385.4 307.89 L386 307.62 L386.6 308.13 L387.2 307.68 L387.8 308.36 L388.4 307.89 L389 308.52 L389.6 308.16 L390.2 307.74 L390.8 307.93 L391.4 308 L392 307.9 L392.6 308.62 L393.2 307.85 L393.8 308.33 L394.4 308 L395 308.41 L395.6 307.7 L396.2 307.7 L396.8 308.38 L397.4 308.68 L398 307.72 L398.6 308.11 L399.2 308.03 L399.8 307.91 L400.4 308.54 L401 308.23 L401.6 307.72 L402.2 308.15 L402.8 308.67 L403.4 307.99 L404 308.03 L404.6 307.95 L405.2 308.27 L405.8 308.04 L406.4 308.52 L407 307.95 L407.6 307.7 L408.2 308.37 L408.8 307.11 L409.4 307.91 L410 308.31 L410.6 308.31 L411.2 308.01 L411.8 308.08 L412.4 308.4 L413 309.46 L413.6 307.94 L414.2 308.17 L414.8 308.06 L415.4 308.41 L416 308.22 L416.6 308.42 L417.2 308.79 L417.8 308.15 L418.4 308.12 L419 308.36 L419.6 308.96 L420.2 308.12 L420.8 308.82 L421.4 308.63 L422 307.27 L422.6 307.91 L423.2 307.89 L423.8 308.37 L424.4 308.7 L425 308.26 L425.6 308.29 L426.2 308.96 L426.8 308.36 L427.4 308.96 L428 307.93 L428.6 308.79 L429.2 308.06 L429.8 307.45 L430.4 307.95 L431 308.1 L431.6 308.23 L432.2 308.5 L432.8 308.49 L433.4 308.43 L434 307.99 L434.6 308.85 L435.2 308.67 L435.8 308.27 L436.4 308.05 L437 308.25 L437.6 308.17 L438.2 308.03 L438.8 308.25 L439.4 308.05 L440 308.48 L440.6 308.05 L441.2 308.43 L441.8 308.37 L442.4 308.32 L443 308.44 L443.6 307.9 L444.2 309.12 L444.8 308.02 L445.4 308.52 L446 308.27 L446.6 308.13 L447.2 308.87 L447.8 308.64 L448.4 308.17 L449 308.46 L449.6 308.51 L450.2 308.8 L450.8 308.62 L451.4 308.23 L452 308.18 L452.6 307.9 L453.2 308.36 L453.8 308.57 L454.4 308.14 L455 308.5 L455.6 308.32 L456.2 308.13 L456.8 307.85 L457.4 308.66 L458 309.16 L458.6 308.47 L459.2 307.9 L459.8 307.95 L460.4 308.37 L461 308.51 L461.6 308.81 L462.2 307.49 L462.8 308.93 L463.4 308.35 L464 308.33 L464.6 308.42 L465.2 308.16 L465.8 308.2 L466.4 308.66 L467 307.72 L467.6 308.25 L468.2 308.48 L468.8 307.71 L469.4 308.25 L470 308.82 L470.6 308.42 L471.2 308.54 L471.8 308.53 L472.4 308.37 L473 308.42 L473.6 308.01 L474.2 308.23 L474.8 308.94 L475.4 307.9 L476 308.23 L476.6 307.88 L477.2 308.11 L477.8 308.05 L478.4 307.87 L479 308.38 L479.6 307.96 L480.2 308.48 L480.8 308.93 L481.4 307.46 L482 308.24 L482.6 307.61 L483.2 308.25 L483.8 308.43 L484.4 308.37 L485 308.71 L485.6 308.35 L486.2 307.73" fill="none" stroke="#4aa0e2" stroke-width="1.5" stroke-linejoin="round" stroke-linecap="round"/>
<path d="M361.4 308.9 L365.7 308.9 L365.82 269.9 L366.15 251.9 L366.6 242.4 L366.85 238.7 L367.3 237.9 L367.8 238.6 L368.3 241.5 L368.8 247 L369.6 255 L370.7 278 L371.9 292 L373 300.5 L374.4 305.2 L376 307.6 L377.9 308.5 L379.9 308.92 L380.5 308.09 L381.1 308.36 L381.7 308.51 L382.3 308.09 L382.9 308.44 L383.5 308.92 L384.1 307.85 L384.7 307.81 L385.3 308.26 L385.9 308.34 L386.5 307.98 L387.1 307.59 L387.7 308.71 L388.3 308.54 L388.9 307.97 L389.5 308.6 L390.1 308.39 L390.7 308.46 L391.3 307.96 L391.9 308.32 L392.5 308.57 L393.1 307.79 L393.7 308.06 L394.3 308.74 L394.9 309.07 L395.5 308.63 L396.1 308.39 L396.7 308.03 L397.3 308.28 L397.9 308.32 L398.5 308.56 L399.1 308.32 L399.7 309.24 L400.3 308.87 L400.9 307.68 L401.5 308 L402.1 308.41 L402.7 308.75 L403.3 308.55 L403.9 307.45 L404.5 307.87 L405.1 308.88 L405.7 308.62 L406.3 309.31 L406.9 308.69 L407.5 308.58 L408.1 308.93 L408.7 308.26 L409.3 308.24 L409.9 308.06 L410.5 308.51 L411.1 308.57 L411.7 308.74 L412.3 308.93 L412.9 308.64 L413.5 308.85 L414.1 308.35 L414.7 308.09 L415.3 308.67 L415.9 308.78 L416.5 308.88 L417.1 308.37 L417.7 308.28 L418.3 308.3 L418.9 308.55 L419.5 308.41 L420.1 308.37 L420.7 308.52 L421.3 308.34 L421.9 308.55 L422.5 308.24 L423.1 307.89 L423.7 308.34 L424.3 309.1 L424.9 308.17 L425.5 308.76 L426.1 308.89 L426.7 308.25 L427.3 308.53 L427.9 307.64 L428.5 308.64 L429.1 308.98 L429.7 308.51 L430.3 307.75 L430.9 308.26 L431.5 308.19 L432.1 308.49 L432.7 308.55 L433.3 308.32 L433.9 308.34 L434.5 308.18 L435.1 308.65 L435.7 308.52 L436.3 308.57 L436.9 308.29 L437.5 308.63 L438.1 308.36 L438.7 308.56 L439.3 308.41 L439.9 308.23 L440.5 308.1 L441.1 307.81 L441.7 308.01 L442.3 308.62 L442.9 309.56 L443.5 307.89 L444.1 308.19 L444.7 308.46 L445.3 309.67 L445.9 308.39 L446.5 308.08 L447.1 308.62 L447.7 309.17 L448.3 307.49 L448.9 308.08 L449.5 308.91 L450.1 308.09 L450.7 308.44 L451.3 308.27 L451.9 308.74 L452.5 307.99 L453.1 308.59 L453.7 308.55 L454.3 308.68 L454.9 308.63 L455.5 308.53 L456.1 307.88 L456.7 308.37 L457.3 308.17 L457.9 308.67 L458.5 308.41 L459.1 308.54 L459.7 308.86 L460.3 308.45 L460.9 309.06 L461.5 308.78 L462.1 307.99 L462.7 308.28 L463.3 308.9 L463.9 308.31 L464.5 308.89 L465.1 308.29 L465.7 308.45 L466.3 308.85 L466.9 307.96 L467.5 308.52 L468.1 308.34 L468.7 308.55 L469.3 309.07 L469.9 308.67 L470.5 308.04 L471.1 308.83 L471.7 308.34 L472.3 308.55 L472.9 308.89 L473.5 308.39 L474.1 308.82 L474.7 308.56 L475.3 308.19 L475.9 308.39 L476.5 308.04 L477.1 308.91 L477.7 308.55 L478.3 308.84 L478.9 308.12 L479.5 308.8 L480.1 308.1 L480.7 308.6 L481.3 308.5 L481.9 308.29 L482.5 308.6 L483.1 308.51 L483.7 308.21 L484.3 308.24 L484.9 308.06 L485.5 308.98 L486.1 308.55" fill="none" stroke="#4aa8c0" stroke-width="1.3" stroke-linejoin="round" stroke-linecap="round"/>
<path d="M361.4 308.9 L366.2 308.9 L366.32 269.9 L366.65 251.9 L367.1 242.4 L367.35 238.7 L367.8 237.9 L368.3 238.6 L368.8 241.5 L369.3 247 L370.1 255 L371.2 278 L372.4 292 L373.5 300.5 L374.9 305.2 L376.5 307.6 L378.4 308.5 L380.4 308.67 L381 309.03 L381.6 308.5 L382.2 308.41 L382.8 308.92 L383.4 309.34 L384 308.91 L384.6 308.85 L385.2 309.41 L385.8 308.28 L386.4 309.87 L387 308.43 L387.6 308.78 L388.2 308.35 L388.8 308.38 L389.4 308.72 L390 309.66 L390.6 308.49 L391.2 308.59 L391.8 308.9 L392.4 308.45 L393 308.72 L393.6 309.09 L394.2 308.07 L394.8 308.7 L395.4 308.71 L396 308.63 L396.6 308.77 L397.2 308.18 L397.8 308.66 L398.4 308.63 L399 308.46 L399.6 309.25 L400.2 309.49 L400.8 309.09 L401.4 308.52 L402 309.31 L402.6 308.98 L403.2 308.53 L403.8 309.02 L404.4 308.61 L405 309.01 L405.6 309.14 L406.2 309.21 L406.8 308.45 L407.4 308.77 L408 308.82 L408.6 308.4 L409.2 308.96 L409.8 309.05 L410.4 308.34 L411 308.63 L411.6 308.43 L412.2 308.39 L412.8 308.45 L413.4 309.29 L414 308.59 L414.6 308.69 L415.2 309.17 L415.8 309.17 L416.4 309.32 L417 308.12 L417.6 309.09 L418.2 308.23 L418.8 308.61 L419.4 308.69 L420 308.63 L420.6 309.5 L421.2 308.77 L421.8 309.23 L422.4 308.77 L423 308.82 L423.6 309.02 L424.2 308.99 L424.8 309.01 L425.4 308.25 L426 309.02 L426.6 308.95 L427.2 309.05 L427.8 308.82 L428.4 308.99 L429 308.4 L429.6 309.24 L430.2 308.43 L430.8 309.34 L431.4 309.19 L432 308.83 L432.6 308.75 L433.2 309.12 L433.8 308.75 L434.4 308.44 L435 308.95 L435.6 308.43 L436.2 308.7 L436.8 309.48 L437.4 309.13 L438 308.7 L438.6 308.83 L439.2 308.63 L439.8 308.86 L440.4 308.35 L441 309.09 L441.6 308.87 L442.2 308.65 L442.8 308.65 L443.4 309.76 L444 308.71 L444.6 308.7 L445.2 308.66 L445.8 308.7 L446.4 309.33 L447 309.1 L447.6 309.02 L448.2 308.99 L448.8 308.47 L449.4 308.05 L450 309.4 L450.6 309.12 L451.2 308.95 L451.8 308.97 L452.4 308.95 L453 308.88 L453.6 308.79 L454.2 308.12 L454.8 309.08 L455.4 308.9 L456 309.22 L456.6 308.99 L457.2 308.78 L457.8 309.09 L458.4 308.95 L459 308.73 L459.6 308.75 L460.2 308.74 L460.8 308.78 L461.4 308.73 L462 309.23 L462.6 309.88 L463.2 308.85 L463.8 309.27 L464.4 308.2 L465 307.79 L465.6 308.72 L466.2 308.84 L466.8 308.63 L467.4 308.43 L468 308.59 L468.6 308.72 L469.2 308.95 L469.8 308.78 L470.4 308.47 L471 308.77 L471.6 309.42 L472.2 308.6 L472.8 308.92 L473.4 309.24 L474 308.61 L474.6 308.7 L475.2 309.91 L475.8 309.32 L476.4 308.71 L477 308.95 L477.6 308.93 L478.2 308.95 L478.8 309.06 L479.4 308.8 L480 308.12 L480.6 308.57 L481.2 308.95 L481.8 308.43 L482.4 308.79 L483 309.41 L483.6 308.98 L484.2 308.68 L484.8 308.95 L485.4 309.26 L486 308.3" fill="none" stroke="#c2306e" stroke-width="1.5" stroke-linejoin="round" stroke-linecap="round"/>
<path d="M361.4 308.9 L365.95 308.9 L366.07 269.9 L366.4 251.9 L366.85 242.4 L367.1 238.7 L367.55 237.9 L368.05 238.6 L368.55 241.5 L369.05 247 L369.85 255 L370.95 278 L372.15 292 L373.25 300.5 L374.65 305.2 L376.25 307.6 L378.15 308.5 L380.15 308.17 L380.75 308.37 L381.35 308.45 L381.95 308.57 L382.55 308.4 L383.15 308.64 L383.75 308.63 L384.35 308.19 L384.95 308.39 L385.55 308.17 L386.15 308.7 L386.75 308.69 L387.35 308.82 L387.95 308.3 L388.55 308.42 L389.15 307.83 L389.75 308.61 L390.35 308.04 L390.95 308.72 L391.55 308.98 L392.15 308.75 L392.75 308.82 L393.35 308.68 L393.95 308.73 L394.55 308.92 L395.15 309.05 L395.75 309.29 L396.35 308.51 L396.95 308.89 L397.55 308.91 L398.15 308.75 L398.75 308.7 L399.35 308.18 L399.95 308.99 L400.55 308.31 L401.15 308.38 L401.75 308.32 L402.35 308.81 L402.95 308.28 L403.55 308.77 L404.15 308.8 L404.75 308.65 L405.35 308.5 L405.95 308.82 L406.55 309.06 L407.15 308.45 L407.75 308.26 L408.35 308.41 L408.95 308.32 L409.55 308.54 L410.15 308.57 L410.75 307.82 L411.35 309.12 L411.95 308.34 L412.55 308.48 L413.15 307.94 L413.75 307.95 L414.35 308.27 L414.95 308.7 L415.55 308.92 L416.15 308.01 L416.75 308.71 L417.35 309.14 L417.95 308.53 L418.55 308.94 L419.15 308.74 L419.75 308.32 L420.35 308.98 L420.95 308.43 L421.55 308.76 L422.15 308.5 L422.75 308.56 L423.35 308.69 L423.95 309.1 L424.55 308.07 L425.15 308.25 L425.75 308.67 L426.35 308.98 L426.95 308.58 L427.55 308.58 L428.15 308.82 L428.75 309.19 L429.35 308.34 L429.95 308.09 L430.55 308.55 L431.15 308.91 L431.75 308.2 L432.35 309.04 L432.95 308.97 L433.55 308.93 L434.15 308.36 L434.75 308.2 L435.35 308.88 L435.95 308.74 L436.55 308.89 L437.15 308.18 L437.75 307.65 L438.35 309.05 L438.95 309 L439.55 308.56 L440.15 308.66 L440.75 308.82 L441.35 308.91 L441.95 308.6 L442.55 308.49 L443.15 308.32 L443.75 309.01 L444.35 308.7 L444.95 307.51 L445.55 308.79 L446.15 308.47 L446.75 308.22 L447.35 308.5 L447.95 308.22 L448.55 308.52 L449.15 308.48 L449.75 308.85 L450.35 308.32 L450.95 308.06 L451.55 308.46 L452.15 308.21 L452.75 308.93 L453.35 308.61 L453.95 308.09 L454.55 308.38 L455.15 308.67 L455.75 308.67 L456.35 308.04 L456.95 308.64 L457.55 308.78 L458.15 309.02 L458.75 309.07 L459.35 308.64 L459.95 308.23 L460.55 308.56 L461.15 308.91 L461.75 308.37 L462.35 309.13 L462.95 308.36 L463.55 308.29 L464.15 308.97 L464.75 308.65 L465.35 308.8 L465.95 308.58 L466.55 308.7 L467.15 308.49 L467.75 309.33 L468.35 308.92 L468.95 308.65 L469.55 308.86 L470.15 308.98 L470.75 308.51 L471.35 308.75 L471.95 308.77 L472.55 308.5 L473.15 308.43 L473.75 308.63 L474.35 308.59 L474.95 308.56 L475.55 308.02 L476.15 308.72 L476.75 308.93 L477.35 308.72 L477.95 309.3 L478.55 308.99 L479.15 308.57 L479.75 308.47 L480.35 308.87 L480.95 308.57 L481.55 308.13 L482.15 308.74 L482.75 308.6 L483.35 308.62 L483.95 308.91 L484.55 308.77 L485.15 309.41 L485.75 308.45 L486.35 308.67" fill="none" stroke="#8a50b0" stroke-width="1.2" stroke-linejoin="round" stroke-linecap="round"/>
<path d="M521.4 309.6 L525.8 309.6 L525.92 272.8 L526.25 254.8 L526.7 245.3 L526.95 241.6 L527.4 240.8 L528.2 241.6 L528.7 244.5 L529.2 250 L530 258 L531.1 278 L533 292 L534.6 298.6 L536.3 302.6 L538.3 305.4 L539.9 306.3 L542 306.7 L542.6 306.36 L543.2 306.14 L543.8 306.69 L544.4 305.39 L545 305.92 L545.6 305.15 L546.2 305.7 L546.8 304.7 L547.4 304.63 L548 305.07 L548.6 304.84 L549.2 303.94 L549.8 302.56 L550.4 303.48 L551 302.89 L551.6 302.15 L552.2 302.2 L552.8 301.77 L553.4 302.16 L554 302.11 L554.6 302.07 L555.2 302.15 L555.8 301.47 L556.4 300.73 L557 300.83 L557.6 300.55 L558.2 300.57 L558.8 300.28 L559.4 300.13 L560 300.33 L560.6 299.61 L561.2 298.99 L561.8 299.03 L562.4 298.65 L563 298.71 L563.6 298.87 L564.2 298.22 L564.8 298.84 L565.4 299.19 L566 299.02 L566.6 298.99 L567.2 298.33 L567.8 297.7 L568.4 298.7 L569 297.84 L569.6 297.76 L570.2 297.38 L570.8 297.01 L571.4 297.37 L572 296.51 L572.6 296.35 L573.2 296.87 L573.8 296.42 L574.4 296.17 L575 296.54 L575.6 296.8 L576.2 296.2 L576.8 296.25 L577.4 296.46 L578 296.55 L578.6 296.55 L579.2 296.36 L579.8 295.83 L580.4 296.18 L581 295.93 L581.6 295.28 L582.2 296.21 L582.8 295.9 L583.4 296.11 L584 295.55 L584.6 295.77 L585.2 295.44 L585.8 295.49 L586.4 295.71 L587 295.42 L587.6 295.61 L588.2 295.39 L588.8 295.81 L589.4 295.63 L590 294.84 L590.6 295.98 L591.2 295.54 L591.8 295.22 L592.4 295.19 L593 296.09 L593.6 295.42 L594.2 295.57 L594.8 295.59 L595.4 295.18 L596 295.98 L596.6 296.12 L597.2 295.12 L597.8 295.78 L598.4 294.83 L599 295.26 L599.6 295.4 L600.2 295.39 L600.8 295.56 L601.4 295.51 L602 295.49 L602.6 295.32 L603.2 295.46 L603.8 295.17 L604.4 296.02 L605 295.38 L605.6 295.77 L606.2 295.39 L606.8 295.3 L607.4 295.28 L608 294.91 L608.6 296.06 L609.2 295.47 L609.8 295.38 L610.4 295.17 L611 295.77 L611.6 295.21 L612.2 295.16 L612.8 295.14 L613.4 295.85 L614 295.42 L614.6 295.26 L615.2 295.09 L615.8 295.75 L616.4 295.4 L617 295.18 L617.6 295.59 L618.2 295.6 L618.8 294.95 L619.4 295.68 L620 295.65 L620.6 295.19 L621.2 294.83 L621.8 295.65 L622.4 295.16 L623 295.2 L623.6 295.17 L624.2 295.17 L624.8 295.54 L625.4 294.88 L626 295.43 L626.6 295.65 L627.2 295.6 L627.8 295.5 L628.4 295.33 L629 295.17 L629.6 295.2 L630.2 294.93 L630.8 295.79 L631.4 295.19 L632 294.89 L632.6 295.52 L633.2 295.73 L633.8 295.32 L634.4 295.11 L635 294.83 L635.6 295.43 L636.2 295.13 L636.8 294.99 L637.4 295.42 L638 294.78 L638.6 295.46 L639.2 294.4 L639.8 294.99 L640.4 294.73 L641 295.12 L641.6 295.47 L642.2 294.75 L642.8 295.66 L643.4 294.97 L644 295.04 L644.6 295.55 L645.2 294.96" fill="none" stroke="#8a7e2e" stroke-width="2.1" stroke-linejoin="round" stroke-linecap="round"/>
<path d="M521.4 309.6 L525.8 309.6 L525.92 272.8 L526.25 254.8 L526.7 245.3 L526.95 241.6 L527.4 240.8 L527.7 241.6 L528.2 244.5 L528.7 250 L529.5 258 L530.6 278 L532.5 292 L534.1 298.6 L535.8 302.6 L537.8 305.4 L539.4 306.3 L542 305.8 L542.6 305.14 L543.2 304.95 L543.8 304.4 L544.4 304.89 L545 304.38 L545.6 304.17 L546.2 303.85 L546.8 303.68 L547.4 303.52 L548 302.92 L548.6 303 L549.2 302.28 L549.8 301.65 L550.4 301.6 L551 301.54 L551.6 300.05 L552.2 300.66 L552.8 300.79 L553.4 300.44 L554 300.62 L554.6 299.72 L555.2 299.83 L555.8 300.23 L556.4 299.65 L557 299.46 L557.6 299.4 L558.2 299.03 L558.8 298.78 L559.4 298.18 L560 297.97 L560.6 298.24 L561.2 297.39 L561.8 296.86 L562.4 297.03 L563 297.29 L563.6 297.5 L564.2 296.86 L564.8 296.59 L565.4 296.97 L566 296.82 L566.6 297.02 L567.2 296.7 L567.8 296.64 L568.4 296.43 L569 296.23 L569.6 295.62 L570.2 295.7 L570.8 296.14 L571.4 295.86 L572 295.59 L572.6 295.24 L573.2 294.93 L573.8 294.96 L574.4 294.64 L575 295.03 L575.6 294.52 L576.2 294.35 L576.8 294.05 L577.4 295.09 L578 294.29 L578.6 294.21 L579.2 294.59 L579.8 294.99 L580.4 294.57 L581 294.16 L581.6 294.4 L582.2 293.86 L582.8 293.99 L583.4 294.02 L584 293.96 L584.6 294.16 L585.2 294.05 L585.8 294.45 L586.4 294.1 L587 293.71 L587.6 293.9 L588.2 293.52 L588.8 293.6 L589.4 293.69 L590 294.15 L590.6 293.57 L591.2 293.27 L591.8 293.46 L592.4 293.39 L593 293.73 L593.6 293.7 L594.2 293.41 L594.8 293.53 L595.4 293.65 L596 293.93 L596.6 293.99 L597.2 294.24 L597.8 293.7 L598.4 294 L599 293.8 L599.6 293.41 L600.2 293.57 L600.8 294.53 L601.4 293.72 L602 294.34 L602.6 294.04 L603.2 294.34 L603.8 293.7 L604.4 294.09 L605 293.66 L605.6 293.39 L606.2 293.36 L606.8 293.91 L607.4 293.21 L608 293.88 L608.6 293.45 L609.2 293.87 L609.8 293.28 L610.4 294.03 L611 293.65 L611.6 293.22 L612.2 293.25 L612.8 293.75 L613.4 293.17 L614 293.84 L614.6 293.87 L615.2 293.5 L615.8 294.17 L616.4 294.2 L617 293.8 L617.6 293.86 L618.2 293.85 L618.8 293.61 L619.4 294.12 L620 293.51 L620.6 292.85 L621.2 293.7 L621.8 293.82 L622.4 293.96 L623 293.3 L623.6 294.15 L624.2 293.39 L624.8 293.89 L625.4 293.9 L626 293.73 L626.6 294.03 L627.2 293.49 L627.8 294.32 L628.4 293.82 L629 293.5 L629.6 294.53 L630.2 293.63 L630.8 293.1 L631.4 294.1 L632 294.17 L632.6 293.44 L633.2 293.3 L633.8 294 L634.4 293.65 L635 293.3 L635.6 293.47 L636.2 293.64 L636.8 293.96 L637.4 294.13 L638 293.41 L638.6 294.12 L639.2 293.11 L639.8 293.84 L640.4 293.57 L641 293.75 L641.6 293.47 L642.2 293.37 L642.8 293.71 L643.4 293.98 L644 292.86 L644.6 293.62 L645.2 293.48" fill="none" stroke="#4aa0e2" stroke-width="1.9" stroke-linejoin="round" stroke-linecap="round"/>
<path d="M521.4 309.6 L525.8 309.6 L525.92 272.8 L526.25 254.8 L526.7 245.3 L526.95 241.6 L527.4 240.8 L527.9 241.6 L528.4 244.5 L528.9 250 L529.7 258 L530.8 278 L532.7 292 L534.3 298.6 L536 302.6 L538 305.4 L539.6 306.3 L542 305.65 L542.6 305.48 L543.2 305.89 L543.8 305.68 L544.4 305.5 L545 304.54 L545.6 304.63 L546.2 304.77 L546.8 304.55 L547.4 304.97 L548 303.83 L548.6 303.59 L549.2 303.42 L549.8 303.23 L550.4 302.36 L551 302 L551.6 302.2 L552.2 301.22 L552.8 300.62 L553.4 300.95 L554 301.03 L554.6 301.49 L555.2 300.99 L555.8 301.12 L556.4 300.52 L557 300.27 L557.6 299.79 L558.2 299.3 L558.8 299.59 L559.4 299.28 L560 299.06 L560.6 298.44 L561.2 298.22 L561.8 298.28 L562.4 298.15 L563 298.48 L563.6 297.39 L564.2 297.96 L564.8 297.89 L565.4 297.49 L566 297.55 L566.6 297.41 L567.2 297.81 L567.8 298.05 L568.4 297.13 L569 296.79 L569.6 297 L570.2 296.69 L570.8 296.27 L571.4 296.43 L572 296.28 L572.6 295.71 L573.2 295.96 L573.8 294.81 L574.4 295.02 L575 295.28 L575.6 295.37 L576.2 294.82 L576.8 295.78 L577.4 295.16 L578 295.29 L578.6 295.2 L579.2 295.4 L579.8 294.91 L580.4 295.28 L581 294.7 L581.6 294.41 L582.2 295.02 L582.8 294.82 L583.4 295.02 L584 294.01 L584.6 294.65 L585.2 294.35 L585.8 294.48 L586.4 294.38 L587 294.39 L587.6 294.28 L588.2 294.86 L588.8 293.93 L589.4 293.95 L590 294.61 L590.6 295.19 L591.2 294.24 L591.8 294.21 L592.4 294.11 L593 294.16 L593.6 294.91 L594.2 294.74 L594.8 294.79 L595.4 294.62 L596 294.57 L596.6 294.3 L597.2 294.16 L597.8 294.71 L598.4 295.3 L599 294.37 L599.6 294.9 L600.2 294.25 L600.8 294.49 L601.4 295.06 L602 294.44 L602.6 294.69 L603.2 294.28 L603.8 295.11 L604.4 294.05 L605 294.66 L605.6 294.37 L606.2 294.53 L606.8 294.57 L607.4 294.9 L608 294.73 L608.6 294.81 L609.2 294.56 L609.8 294.09 L610.4 294.88 L611 294.96 L611.6 294.59 L612.2 294.7 L612.8 294.34 L613.4 293.94 L614 294.74 L614.6 294.18 L615.2 295.04 L615.8 294.65 L616.4 294.39 L617 294.2 L617.6 294.43 L618.2 294.06 L618.8 294.26 L619.4 294.94 L620 294.28 L620.6 295.02 L621.2 294.34 L621.8 294.53 L622.4 294.06 L623 294.28 L623.6 294.22 L624.2 293.9 L624.8 295 L625.4 294.57 L626 294.33 L626.6 293.99 L627.2 294.36 L627.8 294 L628.4 294.02 L629 294.29 L629.6 295.06 L630.2 293.76 L630.8 294.52 L631.4 294.16 L632 293.36 L632.6 293.86 L633.2 294.28 L633.8 294.36 L634.4 294.07 L635 294.93 L635.6 294.49 L636.2 294.11 L636.8 293.77 L637.4 294.38 L638 294.09 L638.6 294.67 L639.2 293.96 L639.8 294.72 L640.4 294.15 L641 294.38 L641.6 294.21 L642.2 294.53 L642.8 294.68 L643.4 294.13 L644 294 L644.6 294.96 L645.2 294.62" fill="none" stroke="#c2306e" stroke-width="2.1" stroke-linejoin="round" stroke-linecap="round"/>
<text transform="translate(19.8 54.2) rotate(-90) scale(0.756 1)" font-size="16" text-anchor="middle" fill="#000" stroke="#000" stroke-width="0.15">Intensity (arb. units)</text>
<text transform="translate(19.8 162.3) rotate(-90) scale(0.756 1)" font-size="16" text-anchor="middle" fill="#000" stroke="#000" stroke-width="0.15">Intensity (arb. units)</text>
<text transform="translate(19.8 275.4) rotate(-90) scale(0.756 1)" font-size="16" text-anchor="middle" fill="#000" stroke="#000" stroke-width="0.15">Intensity (arb. units)</text>
<text transform="translate(298.2 115.7) scale(1 0.78)" font-size="16" font-weight="normal" font-style="normal" fill="#000" text-anchor="start" stroke="#000" stroke-width="0.35" textLength="92" lengthAdjust="spacingAndGlyphs">Time Gate(&#956;s)</text>
<text transform="translate(290.6 228) scale(1 0.78)" font-size="16" font-weight="normal" font-style="normal" fill="#000" text-anchor="start" stroke="#000" stroke-width="0.35" textLength="107" lengthAdjust="spacingAndGlyphs">Wavelength(nm)</text>
<text transform="translate(309.6 338.6) scale(1 0.78)" font-size="16" font-weight="normal" font-style="normal" fill="#000" text-anchor="start" stroke="#000" stroke-width="0.35" textLength="66" lengthAdjust="spacingAndGlyphs">Time (&#956;s)</text>
<text transform="translate(38.6 106.5) scale(1 0.86)" font-size="16" font-weight="normal" font-style="normal" fill="#000" text-anchor="middle" stroke="#000" stroke-width="0.28">0.1</text>
<text transform="translate(94.6 106.5) scale(1 0.86)" font-size="16" font-weight="normal" font-style="normal" fill="#000" text-anchor="middle" stroke="#000" stroke-width="0.28">10</text>
<text transform="translate(150.4 106.5) scale(1 0.86)" font-size="16" font-weight="normal" font-style="normal" fill="#000" text-anchor="middle" stroke="#000" stroke-width="0.28">5k</text>
<text transform="translate(201 106.5) scale(1 0.86)" font-size="16" font-weight="normal" font-style="normal" fill="#000" text-anchor="middle" stroke="#000" stroke-width="0.28">0.1</text>
<text transform="translate(256.6 106.5) scale(1 0.86)" font-size="16" font-weight="normal" font-style="normal" fill="#000" text-anchor="middle" stroke="#000" stroke-width="0.28">10</text>
<text transform="translate(312.1 106.5) scale(1 0.86)" font-size="16" font-weight="normal" font-style="normal" fill="#000" text-anchor="middle" stroke="#000" stroke-width="0.28">40k</text>
<text transform="translate(371.9 106.5) scale(1 0.86)" font-size="16" font-weight="normal" font-style="normal" fill="#000" text-anchor="middle" stroke="#000" stroke-width="0.28">0.1</text>
<text transform="translate(418.6 106.5) scale(1 0.86)" font-size="16" font-weight="normal" font-style="normal" fill="#000" text-anchor="middle" stroke="#000" stroke-width="0.28">10</text>
<text transform="translate(475.2 106.5) scale(1 0.86)" font-size="16" font-weight="normal" font-style="normal" fill="#000" text-anchor="middle" stroke="#000" stroke-width="0.28">20k</text>
<text transform="translate(544.4 106.5) scale(1 0.86)" font-size="16" font-weight="normal" font-style="normal" fill="#000" text-anchor="middle" stroke="#000" stroke-width="0.28">0.1</text>
<text transform="translate(592.3 106.5) scale(1 0.86)" font-size="16" font-weight="normal" font-style="normal" fill="#000" text-anchor="middle" stroke="#000" stroke-width="0.28">10</text>
<text transform="translate(635.2 106.5) scale(1 0.86)" font-size="16" font-weight="normal" font-style="normal" fill="#000" text-anchor="middle" stroke="#000" stroke-width="0.28">40k</text>
<text transform="translate(71.2 218.5) scale(1 0.78)" font-size="16" font-weight="normal" font-style="normal" fill="#000" text-anchor="middle" stroke="#000" stroke-width="0.28">572.4</text>
<text transform="translate(147.6 218.5) scale(1 0.78)" font-size="16" font-weight="normal" font-style="normal" fill="#000" text-anchor="middle" stroke="#000" stroke-width="0.28">612.4</text>
<text transform="translate(230.8 218.5) scale(1 0.78)" font-size="16" font-weight="normal" font-style="normal" fill="#000" text-anchor="middle" stroke="#000" stroke-width="0.28">572.4</text>
<text transform="translate(307.5 218.5) scale(1 0.78)" font-size="16" font-weight="normal" font-style="normal" fill="#000" text-anchor="middle" stroke="#000" stroke-width="0.28">612.4</text>
<text transform="translate(393.6 218.5) scale(1 0.78)" font-size="16" font-weight="normal" font-style="normal" fill="#000" text-anchor="middle" stroke="#000" stroke-width="0.28">567.4</text>
<text transform="translate(473.8 218.5) scale(1 0.78)" font-size="16" font-weight="normal" font-style="normal" fill="#000" text-anchor="middle" stroke="#000" stroke-width="0.28">607.4</text>
<text transform="translate(543.2 218.5) scale(1 0.78)" font-size="16" font-weight="normal" font-style="normal" fill="#000" text-anchor="middle" stroke="#000" stroke-width="0.28">567.4</text>
<text transform="translate(623.5 218.5) scale(1 0.78)" font-size="16" font-weight="normal" font-style="normal" fill="#000" text-anchor="middle" stroke="#000" stroke-width="0.28">607.4</text>
<text transform="translate(48.2 328.9) scale(1 0.86)" font-size="16" font-weight="normal" font-style="normal" fill="#000" text-anchor="middle" stroke="#000" stroke-width="0.28">0</text>
<text transform="translate(102 328.9) scale(1 0.86)" font-size="16" font-weight="normal" font-style="normal" fill="#000" text-anchor="middle" stroke="#000" stroke-width="0.28">10</text>
<text transform="translate(150 328.9) scale(1 0.86)" font-size="16" font-weight="normal" font-style="normal" fill="#000" text-anchor="middle" stroke="#000" stroke-width="0.28">20</text>
<text transform="translate(207.2 328.9) scale(1 0.86)" font-size="16" font-weight="normal" font-style="normal" fill="#000" text-anchor="middle" stroke="#000" stroke-width="0.28">0</text>
<text transform="translate(261 328.9) scale(1 0.86)" font-size="16" font-weight="normal" font-style="normal" fill="#000" text-anchor="middle" stroke="#000" stroke-width="0.28">10</text>
<text transform="translate(310 328.9) scale(1 0.86)" font-size="16" font-weight="normal" font-style="normal" fill="#000" text-anchor="middle" stroke="#000" stroke-width="0.28">20</text>
<text transform="translate(367.3 328.9) scale(1 0.86)" font-size="16" font-weight="normal" font-style="normal" fill="#000" text-anchor="middle" stroke="#000" stroke-width="0.28">0</text>
<text transform="translate(421 328.9) scale(1 0.86)" font-size="16" font-weight="normal" font-style="normal" fill="#000" text-anchor="middle" stroke="#000" stroke-width="0.28">10</text>
<text transform="translate(469 328.9) scale(1 0.86)" font-size="16" font-weight="normal" font-style="normal" fill="#000" text-anchor="middle" stroke="#000" stroke-width="0.28">20</text>
<text transform="translate(528.3 328.9) scale(1 0.86)" font-size="16" font-weight="normal" font-style="normal" fill="#000" text-anchor="middle" stroke="#000" stroke-width="0.28">0</text>
<text transform="translate(582.2 328.9) scale(1 0.86)" font-size="16" font-weight="normal" font-style="normal" fill="#000" text-anchor="middle" stroke="#000" stroke-width="0.28">10</text>
<text transform="translate(630.4 328.9) scale(1 0.86)" font-size="16" font-weight="normal" font-style="normal" fill="#000" text-anchor="middle" stroke="#000" stroke-width="0.28">20</text>
<text transform="translate(175.3 20.9) scale(1 0.8)" font-size="15.5" font-weight="normal" font-style="normal" fill="#000" text-anchor="end" stroke="#000" stroke-width="0.15">(<tspan stroke-width="0.55">a</tspan>)</text>
<text transform="translate(337.9 21) scale(1 0.8)" font-size="15.5" font-weight="normal" font-style="normal" fill="#000" text-anchor="end" stroke="#000" stroke-width="0.15">(<tspan stroke-width="0.55">b</tspan>)</text>
<text transform="translate(493.2 21.4) scale(1 0.8)" font-size="15.5" font-weight="normal" font-style="normal" fill="#000" text-anchor="end" stroke="#000" stroke-width="0.15">(<tspan stroke-width="0.55">c</tspan>)</text>
<text transform="translate(656.2 21) scale(1 0.8)" font-size="15.5" font-weight="normal" font-style="normal" fill="#000" text-anchor="end" stroke="#000" stroke-width="0.15">(<tspan stroke-width="0.55">d</tspan>)</text>
<text transform="translate(179.6 130) scale(1 0.8)" font-size="15.5" font-weight="normal" font-style="normal" fill="#000" text-anchor="end" stroke="#000" stroke-width="0.15">(<tspan stroke-width="0.55">e</tspan>)</text>
<text transform="translate(339.8 130) scale(1 0.8)" font-size="15.5" font-weight="normal" font-style="normal" fill="#000" text-anchor="end" stroke="#000" stroke-width="0.15">(<tspan stroke-width="0.55">f</tspan>)</text>
<text transform="translate(486.8 130.5) scale(1 0.8)" font-size="15.5" font-weight="normal" font-style="normal" fill="#000" text-anchor="end" stroke="#000" stroke-width="0.15">(<tspan stroke-width="0.2">g</tspan>)</text>
<text transform="translate(659.8 130) scale(1 0.8)" font-size="15.5" font-weight="normal" font-style="normal" fill="#000" text-anchor="end" stroke="#000" stroke-width="0.15">(<tspan stroke-width="0.55">h</tspan>)</text>
<text transform="translate(169.9 243.4) scale(1 0.8)" font-size="15.5" font-weight="normal" font-style="normal" fill="#000" text-anchor="end" stroke="#000" stroke-width="0.15">(<tspan stroke-width="0.55">i</tspan>)</text>
<text transform="translate(333.3 244.3) scale(1 0.8)" font-size="15.5" font-weight="normal" font-style="normal" fill="#000" text-anchor="end" stroke="#000" stroke-width="0.15">(<tspan stroke-width="0.2">j</tspan>)</text>
<text transform="translate(491.9 248.3) scale(1 0.8)" font-size="15.5" font-weight="normal" font-style="normal" fill="#000" text-anchor="end" stroke="#000" stroke-width="0.15">(<tspan stroke-width="0.55">k</tspan>)</text>
<text transform="translate(651 242.8) scale(1 0.8)" font-size="15.5" font-weight="normal" font-style="normal" fill="#000" text-anchor="end" stroke="#000" stroke-width="0.15">(<tspan stroke-width="0.55">l</tspan>)</text>
<text transform="translate(98.7 22.8) scale(1 0.72)" font-size="15.5" font-style="italic" fill="#000" stroke="#000" stroke-width="0.22">E</text>
<text transform="translate(106.2 25.6) scale(1 0.72)" font-size="9" font-style="normal" fill="#000" stroke="#000" stroke-width="0.1">1</text>
<text transform="translate(236.2 21.5) scale(1 0.72)" font-size="15.5" font-style="italic" fill="#000" stroke="#000" stroke-width="0.22">E</text>
<text transform="translate(244 23.7) scale(1 0.72)" font-size="9" font-style="normal" fill="#000" stroke="#000" stroke-width="0.1">1</text>
<text x="250.6" y="21.9" font-size="12.5" fill="#000" stroke="#000" stroke-width="0.3">+</text>
<text transform="translate(262.2 21.5) scale(1 0.72)" font-size="15.5" font-style="italic" fill="#000" stroke="#000" stroke-width="0.22">E</text>
<text transform="translate(270.5 24) scale(1 0.72)" font-size="9" font-style="normal" fill="#000" stroke="#000" stroke-width="0.1">2</text>
<text transform="translate(412.5 22.8) scale(1 0.72)" font-size="15.5" font-style="italic" fill="#000" stroke="#000" stroke-width="0.22">E</text>
<text transform="translate(420 25.6) scale(1 0.72)" font-size="9" font-style="normal" fill="#000" stroke="#000" stroke-width="0.1">2</text>
<text transform="translate(568.2 23) scale(1 0.72)" font-size="15.5" font-style="italic" fill="#000" stroke="#000" stroke-width="0.22">E</text>
<text transform="translate(575.6 25.8) scale(1 0.72)" font-size="9" font-style="normal" fill="#000" stroke="#000" stroke-width="0.1">2</text>
<text x="583.6" y="23.6" font-size="12.5" fill="#000" stroke="#000" stroke-width="0.3">+</text>
<text transform="translate(595.1 23) scale(1 0.72)" font-size="15.5" font-style="italic" fill="#000" stroke="#000" stroke-width="0.22">E</text>
<text transform="translate(602.6 25.5) scale(1 0.72)" font-size="9" font-style="normal" fill="#000" stroke="#000" stroke-width="0.1">1</text>
<text transform="translate(157 145.9) scale(1 0.8)" font-size="11" font-weight="normal" font-style="normal" fill="#8a5530" text-anchor="start" stroke="#8a5530" stroke-width="0.12">(e1)</text>
<text transform="translate(157 164.7) scale(1 0.8)" font-size="11" font-weight="normal" font-style="normal" fill="#5aaae8" text-anchor="start" stroke="#5aaae8" stroke-width="0.12">(e2)</text>
<text transform="translate(157 184.7) scale(1 0.8)" font-size="11" font-weight="normal" font-style="normal" fill="#d0a440" text-anchor="start" stroke="#d0a440" stroke-width="0.12">(e3)</text>
<text transform="translate(157 201.4) scale(1 0.8)" font-size="11" font-weight="normal" font-style="normal" fill="#a0308e" text-anchor="start" stroke="#a0308e" stroke-width="0.12">(e4)</text>
<text transform="translate(319 141.3) scale(1 0.8)" font-size="11" font-weight="normal" font-style="normal" fill="#8a5530" text-anchor="start" stroke="#8a5530" stroke-width="0.12">(f1)</text>
<text transform="translate(319.2 153) scale(1 0.8)" font-size="11" font-weight="normal" font-style="normal" fill="#5aaae8" text-anchor="start" stroke="#5aaae8" stroke-width="0.12">(f2)</text>
<text transform="translate(317 164.7) scale(1 0.8)" font-size="11" font-weight="normal" font-style="normal" fill="#d0a440" text-anchor="start" stroke="#d0a440" stroke-width="0.12">(f3)</text>
<text transform="translate(318.3 173.8) scale(1 0.8)" font-size="11" font-weight="normal" font-style="normal" fill="#a0308e" text-anchor="start" stroke="#a0308e" stroke-width="0.12">(f4)</text>
<text transform="translate(319 193.8) scale(1 0.8)" font-size="11" font-weight="normal" font-style="normal" fill="#80c060" text-anchor="start" stroke="#80c060" stroke-width="0.12">(f5)</text>
<text transform="translate(319 201.2) scale(1 0.8)" font-size="11" font-weight="normal" font-style="normal" fill="#4e55b0" text-anchor="start" stroke="#4e55b0" stroke-width="0.12">(f6)</text>
<text transform="translate(480.5 141.2) scale(1 0.8)" font-size="11" font-weight="normal" font-style="normal" fill="#8a5530" text-anchor="start" stroke="#8a5530" stroke-width="0.12">(g1)</text>
<text transform="translate(480.5 153.2) scale(1 0.8)" font-size="11" font-weight="normal" font-style="normal" fill="#5aaae8" text-anchor="start" stroke="#5aaae8" stroke-width="0.12">(g2)</text>
<text transform="translate(480.5 165.3) scale(1 0.8)" font-size="11" font-weight="normal" font-style="normal" fill="#d0a440" text-anchor="start" stroke="#d0a440" stroke-width="0.12">(g3)</text>
<text transform="translate(480.5 176.4) scale(1 0.8)" font-size="11" font-weight="normal" font-style="normal" fill="#a0308e" text-anchor="start" stroke="#a0308e" stroke-width="0.12">(g4)</text>
<text transform="translate(480.5 183.9) scale(1 0.8)" font-size="11" font-weight="normal" font-style="normal" fill="#80c060" text-anchor="start" stroke="#80c060" stroke-width="0.12">(g5)</text>
<text transform="translate(480.5 195.8) scale(1 0.8)" font-size="11" font-weight="normal" font-style="normal" fill="#4e55b0" text-anchor="start" stroke="#4e55b0" stroke-width="0.12">(g6)</text>
<text transform="translate(637.5 138.8) scale(1 0.8)" font-size="11" font-weight="normal" font-style="normal" fill="#8a5530" text-anchor="start" stroke="#8a5530" stroke-width="0.12">(h1)</text>
<text transform="translate(637.5 152.9) scale(1 0.8)" font-size="11" font-weight="normal" font-style="normal" fill="#5aaae8" text-anchor="start" stroke="#5aaae8" stroke-width="0.12">(h2)</text>
<text transform="translate(637.5 166.5) scale(1 0.8)" font-size="11" font-weight="normal" font-style="normal" fill="#d0a440" text-anchor="start" stroke="#d0a440" stroke-width="0.12">(h3)</text>
<text transform="translate(637.5 178.4) scale(1 0.8)" font-size="11" font-weight="normal" font-style="normal" fill="#a0308e" text-anchor="start" stroke="#a0308e" stroke-width="0.12">(h4)</text>
<text transform="translate(637.5 190.8) scale(1 0.8)" font-size="11" font-weight="normal" font-style="normal" fill="#80c060" text-anchor="start" stroke="#80c060" stroke-width="0.12">(h5)</text>
<text transform="translate(637.5 200.7) scale(1 0.8)" font-size="11" font-weight="normal" font-style="normal" fill="#4e55b0" text-anchor="start" stroke="#4e55b0" stroke-width="0.12">(h6)</text>
<text transform="translate(130.2 288.5) scale(1 0.8)" font-size="11" font-weight="normal" font-style="normal" fill="#d0a440" text-anchor="start" stroke="#d0a440" stroke-width="0.12">(i1)</text>
<text transform="translate(162.6 303.5) scale(1 0.8)" font-size="11" font-weight="normal" font-style="normal" fill="#a0308e" text-anchor="start" stroke="#a0308e" stroke-width="0.12">(i3)</text>
<text transform="translate(163.6 314.4) scale(1 0.8)" font-size="11" font-weight="normal" font-style="normal" fill="#5aaae8" text-anchor="start" stroke="#5aaae8" stroke-width="0.12">(i2)</text>
<text transform="translate(286.3 283.3) scale(1 0.8)" font-size="11" font-weight="normal" font-style="normal" fill="#5aaae8" text-anchor="start" stroke="#5aaae8" stroke-width="0.12">(j1)</text>
<text transform="translate(326.5 304.7) scale(1 0.8)" font-size="11" font-weight="normal" font-style="normal" fill="#a0308e" text-anchor="start" stroke="#a0308e" stroke-width="0.12">(j3)</text>
<text transform="translate(325.7 314.4) scale(1 0.8)" font-size="11" font-weight="normal" font-style="normal" fill="#d0a440" text-anchor="start" stroke="#d0a440" stroke-width="0.12">(j2)</text>
<text transform="translate(375.8 301) scale(1 0.8)" font-size="11" font-weight="normal" font-style="normal" fill="#a0308e" text-anchor="start" stroke="#a0308e" stroke-width="0.12">(k3)</text>
<text transform="translate(442.8 300.1) scale(1 0.8)" font-size="11" font-weight="normal" font-style="normal" fill="#d0a440" text-anchor="start" stroke="#d0a440" stroke-width="0.12">(k1)</text>
<text transform="translate(477.9 300.9) scale(1 0.8)" font-size="11" font-weight="normal" font-style="normal" fill="#5aaae8" text-anchor="start" stroke="#5aaae8" stroke-width="0.12">(k2)</text>
<text transform="translate(563.2 293.1) scale(1 0.8)" font-size="11" font-weight="normal" font-style="normal" fill="#a0308e" text-anchor="start" stroke="#a0308e" stroke-width="0.12">(l3)</text>
<text transform="translate(613.1 291.9) scale(1 0.8)" font-size="11" font-weight="normal" font-style="normal" fill="#d0a440" text-anchor="start" stroke="#d0a440" stroke-width="0.12">(l1)</text>
<text transform="translate(627.7 307.7) scale(1 0.8)" font-size="11" font-weight="normal" font-style="normal" fill="#5aaae8" text-anchor="start" stroke="#5aaae8" stroke-width="0.12">(l2)</text>
<rect x="0.5" y="0.5" width="668" height="346" fill="none" stroke="#66aae2" stroke-width="1"/>
</svg>
</body></html>
